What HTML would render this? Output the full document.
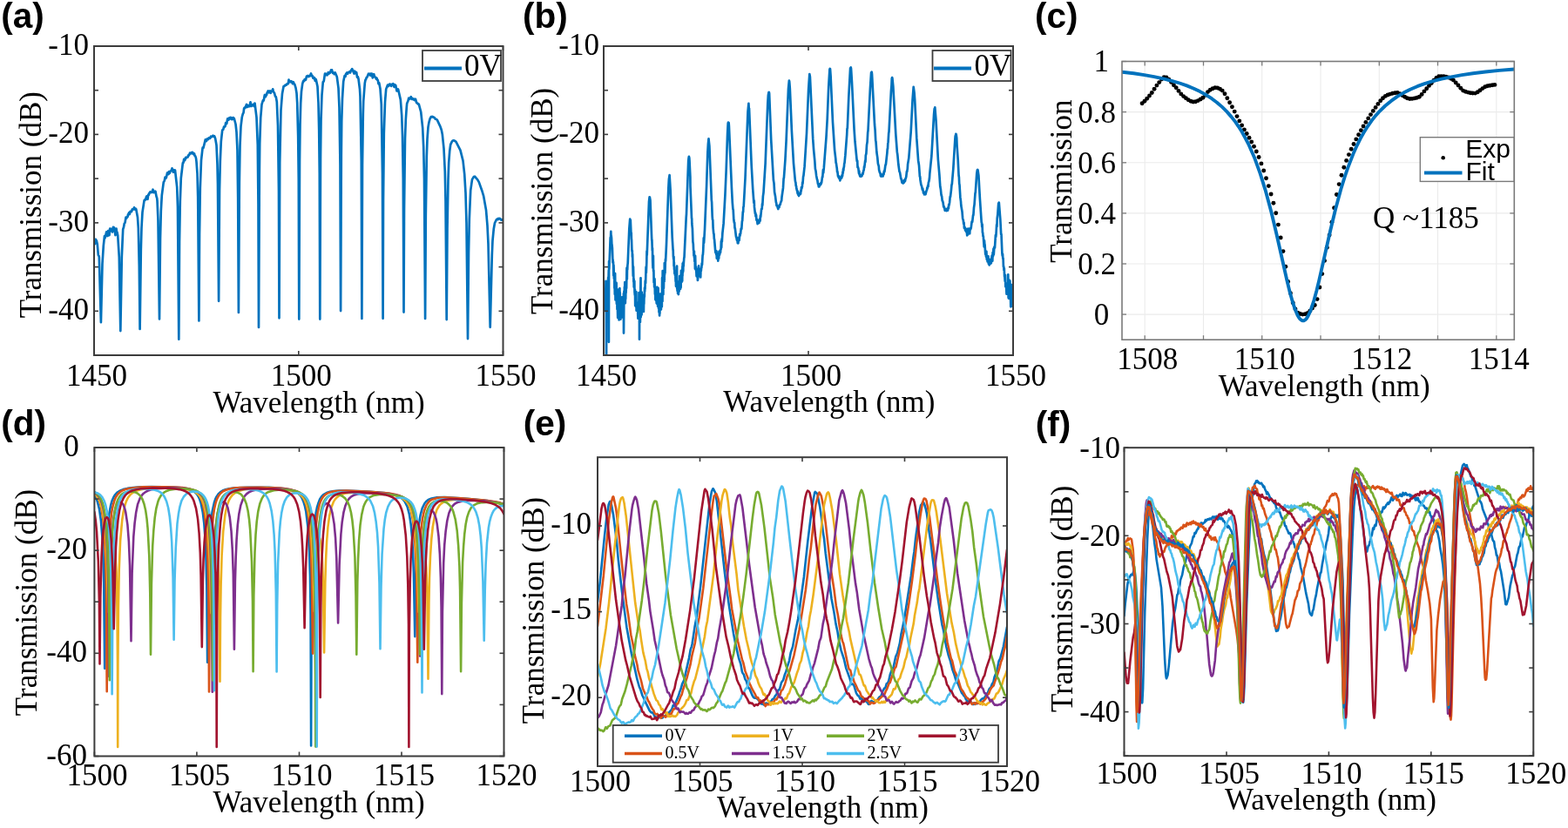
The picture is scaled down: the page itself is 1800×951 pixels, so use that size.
<!DOCTYPE html>
<html><head><meta charset="utf-8"><title>Figure</title>
<style>html,body{margin:0;padding:0;background:#fff;}svg{display:block;}</style></head>
<body><svg width="1800" height="951" viewBox="0 0 1800 951">
<rect width="1800" height="951" fill="#fff"/>
<defs>
<clipPath id="ca"><rect x="108" y="53" width="469.5" height="355"/></clipPath>
<clipPath id="cb"><rect x="693" y="53" width="470" height="355"/></clipPath>
<clipPath id="cc"><rect x="1288" y="70.5" width="450.29999999999995" height="319.7"/></clipPath>
<clipPath id="cd"><rect x="108.4" y="514" width="470.1" height="354.5"/></clipPath>
<clipPath id="ce"><rect x="686" y="525.2" width="470" height="354.79999999999995"/></clipPath>
<clipPath id="cf"><rect x="1290.5" y="514.2" width="469.79999999999995" height="354.0"/></clipPath>
</defs>
<line x1="1314.2" y1="70.5" x2="1314.2" y2="390.2" stroke="#ebebeb" stroke-width="1.1"/>
<line x1="1381.5" y1="70.5" x2="1381.5" y2="390.2" stroke="#ebebeb" stroke-width="1.1"/>
<line x1="1448.7" y1="70.5" x2="1448.7" y2="390.2" stroke="#ebebeb" stroke-width="1.1"/>
<line x1="1516.0" y1="70.5" x2="1516.0" y2="390.2" stroke="#ebebeb" stroke-width="1.1"/>
<line x1="1583.3" y1="70.5" x2="1583.3" y2="390.2" stroke="#ebebeb" stroke-width="1.1"/>
<line x1="1650.5" y1="70.5" x2="1650.5" y2="390.2" stroke="#ebebeb" stroke-width="1.1"/>
<line x1="1717.8" y1="70.5" x2="1717.8" y2="390.2" stroke="#ebebeb" stroke-width="1.1"/>
<line x1="1288" y1="361.1" x2="1738.3" y2="361.1" stroke="#ebebeb" stroke-width="1.1"/>
<line x1="1288" y1="303.0" x2="1738.3" y2="303.0" stroke="#ebebeb" stroke-width="1.1"/>
<line x1="1288" y1="244.9" x2="1738.3" y2="244.9" stroke="#ebebeb" stroke-width="1.1"/>
<line x1="1288" y1="186.8" x2="1738.3" y2="186.8" stroke="#ebebeb" stroke-width="1.1"/>
<line x1="1288" y1="128.6" x2="1738.3" y2="128.6" stroke="#ebebeb" stroke-width="1.1"/>
<path d="M108.0,275.7 L109.0,280.1 L109.8,274.8 L110.2,277.0 L110.8,276.3 L111.8,280.8 L112.8,293.0 L113.5,293.9 L113.8,295.2 L115.9,370.1 L117.5,303.0 L118.8,282.2 L120.0,271.2 L120.5,273.3 L120.8,272.7 L122.2,266.4 L123.5,271.0 L124.2,265.0 L125.0,269.2 L125.5,270.0 L126.2,262.7 L127.0,265.3 L127.5,262.9 L129.0,266.4 L130.0,260.8 L130.5,261.8 L131.0,261.5 L131.2,262.0 L132.5,270.2 L133.5,262.5 L134.0,266.5 L134.5,266.9 L135.2,270.2 L136.8,295.3 L138.3,380.1 L139.8,295.1 L141.2,263.2 L142.0,261.1 L142.8,256.6 L143.5,255.9 L144.5,249.7 L145.2,250.6 L145.8,249.3 L146.5,249.1 L147.0,246.2 L147.5,246.1 L148.0,244.5 L148.8,246.0 L149.5,243.0 L150.2,242.6 L151.0,243.1 L151.8,240.5 L152.5,240.8 L153.5,239.7 L154.0,238.3 L154.8,240.5 L155.0,240.6 L155.5,239.4 L156.2,240.1 L158.0,249.8 L158.8,262.0 L159.8,305.6 L160.6,378.0 L161.8,287.0 L162.5,261.1 L163.5,243.8 L165.5,230.6 L165.8,229.8 L166.5,229.2 L167.0,229.4 L168.2,225.5 L168.5,225.3 L169.5,228.8 L170.2,223.6 L170.5,223.4 L170.8,223.9 L171.5,221.6 L172.0,221.5 L172.5,220.3 L173.2,221.1 L173.8,220.5 L174.5,220.8 L175.5,217.7 L176.5,221.1 L177.0,220.1 L177.5,220.8 L178.2,219.6 L178.5,219.9 L179.5,225.5 L180.2,227.6 L180.5,230.3 L181.5,253.2 L183.0,366.5 L184.0,273.4 L184.8,242.2 L185.8,224.2 L187.8,209.1 L188.2,208.8 L188.8,207.5 L189.5,203.7 L190.2,204.8 L190.8,204.3 L192.0,198.7 L192.8,198.1 L193.2,200.1 L193.5,200.0 L194.0,197.0 L194.8,198.8 L195.5,196.8 L196.8,195.7 L197.5,193.3 L198.8,197.6 L199.5,195.2 L200.2,197.6 L201.0,195.5 L203.2,214.9 L204.0,237.9 L205.3,389.7 L206.0,278.2 L206.8,231.1 L207.8,204.5 L209.8,187.6 L210.0,186.9 L210.5,187.0 L211.2,182.8 L212.2,184.2 L213.2,180.9 L214.0,181.4 L214.5,180.5 L215.5,180.5 L216.2,178.3 L216.8,178.6 L217.0,178.4 L218.0,175.7 L218.8,176.3 L219.8,175.1 L220.2,176.0 L221.0,174.8 L221.5,176.3 L222.2,177.1 L222.5,177.2 L223.0,176.4 L223.5,178.6 L224.2,179.2 L225.0,181.7 L225.5,185.6 L226.5,199.3 L227.2,226.0 L228.4,368.5 L229.0,270.0 L229.8,215.9 L231.0,184.1 L232.5,170.6 L232.8,169.3 L233.2,170.1 L233.5,169.7 L235.8,160.4 L236.2,162.2 L236.8,162.2 L238.0,159.4 L239.0,160.0 L239.8,158.3 L240.5,158.9 L241.2,158.8 L242.0,156.7 L243.0,157.2 L244.5,155.8 L245.5,156.9 L246.0,156.3 L246.2,156.5 L247.2,159.2 L248.5,166.8 L249.5,188.6 L250.0,211.8 L251.1,345.8 L252.0,219.0 L252.8,185.0 L253.8,162.3 L255.2,149.7 L255.8,149.0 L256.2,149.0 L257.0,145.7 L257.5,146.0 L258.5,145.1 L259.2,141.1 L259.8,141.2 L260.2,142.0 L261.2,136.4 L262.5,137.6 L263.2,135.3 L263.8,136.3 L264.5,135.0 L265.2,136.5 L265.8,135.2 L266.5,137.2 L267.2,136.7 L267.8,135.1 L268.8,136.2 L270.5,142.5 L271.5,151.6 L272.5,172.7 L273.2,227.1 L273.9,359.0 L274.8,210.1 L275.5,167.4 L276.5,145.1 L277.8,134.5 L278.8,130.8 L279.5,129.6 L280.2,124.3 L281.0,123.4 L281.5,123.8 L283.0,120.0 L283.8,123.0 L284.5,121.0 L285.2,122.4 L285.8,121.8 L286.5,122.1 L287.5,117.4 L288.5,122.0 L289.0,121.1 L289.8,121.1 L290.5,120.0 L291.8,122.1 L292.5,118.5 L294.5,134.9 L295.8,166.1 L296.5,233.9 L297.0,376.0 L297.8,200.9 L298.2,164.8 L299.2,135.4 L300.5,119.8 L301.8,115.6 L302.0,115.2 L302.5,115.6 L302.8,115.0 L303.8,109.2 L304.0,108.9 L304.8,111.2 L305.5,109.4 L306.0,109.1 L306.5,106.9 L307.8,104.5 L308.8,106.4 L310.0,104.4 L310.8,106.8 L311.2,105.4 L312.5,104.3 L313.2,102.3 L313.8,105.3 L315.0,106.9 L316.0,110.7 L316.8,111.2 L317.8,117.0 L319.0,144.0 L320.0,219.4 L320.5,365.3 L321.2,187.3 L322.5,126.3 L324.0,107.5 L325.5,99.4 L326.5,98.6 L327.0,98.7 L327.5,97.6 L329.0,97.6 L329.5,96.4 L330.8,96.2 L331.5,91.6 L332.2,93.8 L333.2,94.1 L334.0,93.2 L334.5,94.3 L335.0,93.8 L336.0,96.1 L336.5,94.2 L336.8,94.3 L337.8,96.8 L338.2,96.9 L338.5,97.6 L339.5,100.9 L340.5,107.0 L341.2,118.2 L342.2,156.7 L342.8,205.6 L343.3,366.6 L344.0,184.0 L344.5,144.3 L345.2,118.4 L346.0,105.1 L347.2,96.4 L348.0,93.7 L348.5,92.7 L349.0,93.3 L349.8,91.0 L350.5,91.0 L351.0,91.7 L352.0,87.5 L353.0,87.4 L353.5,86.9 L354.2,88.0 L355.0,87.2 L355.8,87.3 L357.0,84.4 L357.8,86.7 L358.0,87.2 L358.5,87.0 L358.8,87.5 L359.5,89.9 L360.2,89.0 L360.8,89.0 L361.8,92.8 L362.5,91.0 L362.8,91.5 L364.5,99.4 L365.5,118.3 L366.2,149.0 L366.8,199.3 L367.3,366.6 L368.0,180.3 L368.5,138.5 L369.5,109.3 L370.8,94.2 L371.5,93.7 L371.8,92.9 L373.0,84.6 L373.5,85.1 L374.0,84.7 L374.5,86.1 L375.2,85.7 L375.8,86.2 L376.8,83.1 L377.8,84.5 L378.2,83.4 L378.8,83.7 L379.0,83.4 L380.0,80.3 L380.5,81.6 L381.0,80.3 L382.0,83.8 L382.8,83.5 L383.8,85.2 L384.8,83.5 L386.8,88.3 L388.5,101.1 L389.5,123.8 L390.5,189.6 L391.1,357.1 L391.8,179.2 L392.2,139.3 L393.0,113.4 L394.2,93.7 L395.5,87.4 L395.8,86.8 L396.5,87.9 L397.0,85.3 L398.2,83.4 L399.0,84.9 L399.5,83.5 L399.8,83.6 L401.0,82.5 L402.0,83.5 L403.0,80.6 L403.5,80.5 L404.2,79.1 L406.5,84.6 L407.2,81.7 L408.2,84.1 L409.0,83.0 L409.2,83.3 L410.0,88.6 L410.2,89.0 L410.8,88.1 L411.5,90.5 L413.0,102.5 L413.5,110.9 L414.8,184.8 L415.4,365.9 L416.0,189.7 L416.8,131.2 L417.2,116.5 L418.8,95.4 L419.5,91.7 L420.0,91.2 L420.8,88.9 L421.5,88.6 L423.0,84.7 L423.8,85.9 L424.5,84.7 L424.8,84.8 L425.5,86.8 L426.2,84.6 L426.8,84.5 L427.8,89.4 L429.2,85.2 L430.0,88.1 L431.2,88.9 L431.8,90.5 L432.5,89.7 L433.2,91.8 L433.8,92.2 L434.5,96.3 L435.2,95.1 L436.5,101.9 L437.8,119.9 L439.0,198.7 L439.6,365.8 L440.0,230.6 L440.8,153.1 L442.0,117.1 L443.2,102.4 L445.0,97.6 L445.5,99.1 L446.0,98.2 L446.2,98.0 L446.5,98.4 L446.8,98.0 L447.2,96.6 L447.8,96.6 L448.2,97.9 L448.8,97.8 L449.2,98.9 L449.8,96.8 L450.8,96.8 L451.2,96.2 L452.5,99.9 L453.2,97.2 L453.8,98.3 L454.2,97.9 L455.5,104.4 L455.8,104.5 L456.5,103.6 L457.0,102.5 L457.2,103.0 L459.8,114.4 L461.2,132.4 L462.0,155.5 L462.8,205.1 L463.5,358.6 L464.0,239.6 L465.0,159.1 L465.8,137.2 L466.8,122.8 L467.2,118.7 L468.5,115.8 L469.2,112.7 L470.5,113.6 L471.8,111.2 L472.8,113.9 L473.5,113.0 L474.5,114.3 L475.2,113.8 L476.0,115.1 L477.0,113.8 L478.2,118.1 L479.2,118.5 L479.8,119.5 L480.5,119.4 L480.8,119.7 L483.2,128.5 L485.2,147.2 L486.2,169.0 L487.0,205.4 L488.1,366.0 L488.8,247.0 L489.8,179.8 L490.5,159.7 L491.5,146.1 L492.5,140.3 L493.5,136.7 L494.8,134.2 L495.5,134.3 L496.2,133.8 L497.0,134.4 L497.5,134.3 L498.0,135.0 L498.8,135.1 L499.8,136.7 L501.0,137.0 L501.8,137.7 L505.2,144.8 L506.8,149.3 L507.8,154.2 L509.5,170.7 L510.8,197.0 L511.5,230.5 L512.7,367.1 L513.5,263.0 L514.5,206.4 L515.2,186.6 L516.2,173.5 L517.2,166.1 L518.8,162.6 L519.8,161.5 L520.5,161.3 L521.8,161.6 L523.5,162.8 L528.5,172.7 L531.5,184.7 L533.2,199.8 L534.5,221.6 L535.5,256.3 L537.0,389.1 L538.0,289.9 L538.8,251.5 L540.2,218.9 L542.0,206.1 L543.8,203.1 L545.0,202.7 L548.2,206.4 L549.8,209.1 L553.2,218.7 L555.2,225.4 L558.0,241.2 L559.5,259.2 L560.5,280.3 L562.7,375.8 L564.8,292.6 L565.5,276.3 L566.8,262.7 L568.0,256.0 L570.0,252.1 L571.0,251.5 L571.8,252.0 L572.2,250.9 L573.0,251.4 L573.8,250.9 L575.5,252.7 L576.0,252.4 L576.5,252.7 L577.0,252.2 L577.5,252.5" fill="none" stroke="#0072BD" stroke-width="2.7" stroke-linejoin="round" stroke-linecap="round" clip-path="url(#ca)"/>
<path d="M693.0,357.6 L693.4,354.3 L693.5,339.2 L693.7,352.9 L693.9,348.0 L694.1,354.7 L694.4,356.3 L694.6,334.2 L694.8,347.6 L695.0,343.6 L695.2,344.3 L695.5,322.8 L695.7,339.0 L695.9,324.4 L696.1,413.1 L696.2,329.1 L696.4,342.9 L696.6,337.6 L696.8,340.5 L697.0,338.3 L697.1,329.8 L697.3,341.5 L697.5,332.8 L697.7,335.8 L697.9,332.8 L698.2,318.8 L698.4,325.3 L698.8,310.4 L698.9,392.8 L699.1,300.1 L699.3,309.1 L700.7,272.9 L700.9,277.9 L701.3,265.8 L701.5,272.0 L701.6,270.2 L702.0,273.2 L702.4,282.7 L702.5,280.8 L702.9,285.1 L703.4,301.4 L703.6,298.2 L703.8,302.6 L704.0,300.9 L704.3,316.4 L704.5,304.7 L704.9,319.9 L705.2,316.8 L705.4,331.1 L705.6,325.6 L705.8,338.1 L706.1,314.0 L706.5,344.4 L706.7,332.8 L706.9,341.3 L707.0,332.4 L707.2,336.6 L707.6,324.9 L707.8,347.3 L707.9,349.0 L708.1,331.5 L708.5,355.2 L708.7,348.4 L708.8,349.4 L709.2,364.9 L709.4,363.6 L709.6,346.0 L709.7,364.8 L709.9,332.9 L710.1,357.1 L710.3,351.3 L710.6,367.4 L710.8,345.5 L711.0,363.8 L711.2,358.8 L711.4,331.2 L711.5,357.0 L711.7,335.7 L712.1,360.6 L712.3,356.1 L712.4,366.7 L712.6,341.0 L712.8,341.4 L713.0,357.7 L713.2,358.8 L713.5,343.7 L713.7,364.4 L714.1,345.0 L714.2,359.8 L714.4,346.8 L714.6,354.4 L714.8,341.2 L715.0,358.7 L715.3,346.5 L715.5,360.5 L715.7,361.0 L715.9,337.2 L716.0,382.6 L716.4,334.6 L716.6,342.1 L716.8,340.9 L716.9,329.7 L717.1,336.0 L717.3,324.2 L717.8,348.1 L718.0,340.6 L718.2,343.2 L718.4,331.3 L718.6,336.2 L718.9,329.0 L719.1,331.0 L719.5,307.7 L719.8,320.7 L720.0,307.4 L720.2,309.6 L720.4,304.8 L720.7,302.2 L722.3,263.4 L723.2,251.6 L723.6,256.2 L723.8,252.8 L724.5,269.8 L724.7,267.4 L724.9,275.1 L725.0,274.7 L725.4,287.1 L725.6,288.8 L725.8,287.9 L725.9,295.0 L726.1,291.8 L726.8,316.9 L727.0,306.3 L727.4,323.7 L727.6,320.3 L727.7,329.5 L727.9,330.0 L728.3,322.8 L728.5,335.5 L728.8,338.9 L729.0,332.8 L729.2,351.0 L729.4,343.9 L729.5,345.4 L729.7,335.8 L729.9,352.2 L730.1,335.8 L730.3,338.3 L730.4,335.3 L730.6,356.7 L731.0,348.2 L731.2,356.8 L731.5,351.9 L731.7,352.0 L731.9,350.9 L732.4,365.6 L732.6,356.0 L733.0,360.0 L733.1,347.0 L733.3,365.0 L733.5,336.2 L733.7,362.3 L733.9,344.5 L734.0,389.7 L734.2,353.7 L734.6,370.7 L734.8,353.2 L734.9,370.1 L735.5,319.3 L735.7,364.2 L736.0,350.0 L736.2,354.9 L736.4,338.2 L736.6,361.5 L736.7,335.5 L737.1,352.7 L737.3,353.0 L737.6,342.2 L737.8,355.0 L738.0,355.0 L738.2,353.7 L738.4,354.2 L738.5,339.4 L738.7,338.6 L738.9,358.0 L739.1,347.6 L739.3,349.0 L739.4,343.2 L739.6,341.0 L739.8,340.8 L740.0,330.5 L740.2,334.6 L740.3,330.2 L740.5,331.9 L740.7,323.1 L740.9,322.0 L741.1,325.2 L741.6,306.7 L741.8,313.5 L742.3,301.3 L742.5,288.6 L742.7,293.0 L745.0,231.7 L745.6,226.3 L745.7,227.4 L745.9,226.6 L746.5,230.0 L748.1,272.8 L748.3,276.5 L748.4,275.4 L748.8,287.7 L749.0,284.9 L749.2,299.7 L749.5,307.6 L749.9,293.8 L750.1,311.4 L750.4,310.6 L750.6,324.5 L751.0,321.0 L751.1,329.6 L751.3,329.3 L751.5,320.4 L751.9,337.7 L752.0,338.0 L752.2,333.4 L752.4,344.3 L752.8,340.2 L752.9,333.2 L753.1,345.0 L753.3,345.4 L753.5,342.3 L753.7,348.1 L753.8,348.5 L754.0,330.0 L754.2,329.8 L754.4,343.9 L754.6,344.8 L754.7,345.6 L754.9,334.0 L755.1,351.8 L755.3,337.0 L755.5,340.7 L755.6,330.8 L756.0,354.2 L756.2,346.4 L756.4,347.1 L756.5,358.6 L756.7,353.0 L757.1,362.5 L757.3,343.8 L757.4,360.3 L757.6,347.4 L757.8,355.0 L758.0,337.6 L758.2,347.4 L758.5,338.6 L758.9,355.5 L759.2,341.4 L759.4,345.9 L759.6,342.9 L759.8,352.2 L760.1,319.1 L760.3,345.6 L760.5,345.9 L760.7,311.0 L760.9,331.7 L761.0,319.2 L761.4,338.2 L761.6,318.9 L761.9,330.9 L762.1,321.4 L762.5,320.3 L762.7,322.9 L762.8,302.2 L763.0,315.6 L763.2,307.4 L763.4,313.7 L763.9,297.7 L764.1,299.9 L765.0,280.9 L767.3,216.7 L767.9,205.6 L768.6,201.2 L769.7,219.3 L771.7,272.6 L772.6,287.5 L772.7,286.5 L772.9,294.2 L773.3,297.9 L773.5,294.8 L773.6,305.4 L773.8,301.0 L774.0,309.5 L774.2,306.6 L774.4,314.2 L774.5,312.1 L774.9,315.8 L775.1,311.0 L775.6,323.3 L775.8,316.1 L776.0,328.8 L776.3,324.6 L776.5,326.4 L776.7,324.7 L776.9,327.1 L777.1,305.5 L777.2,331.5 L777.4,331.2 L777.6,334.1 L777.8,323.4 L778.1,336.9 L778.3,330.4 L778.5,335.0 L778.7,327.4 L778.9,338.1 L779.0,326.1 L779.6,334.6 L779.8,329.2 L779.9,332.2 L780.3,317.1 L780.5,328.9 L780.7,321.6 L781.0,331.9 L781.2,318.9 L781.6,330.3 L781.9,310.8 L782.1,319.2 L782.3,318.0 L782.5,323.9 L782.8,317.2 L783.2,322.7 L783.4,305.9 L783.5,316.7 L783.7,302.6 L783.9,312.9 L784.3,310.7 L784.4,301.4 L784.6,305.8 L785.3,296.0 L785.5,295.9 L787.7,249.8 L788.0,245.8 L790.2,184.9 L790.6,181.2 L790.9,179.8 L791.3,181.4 L791.5,184.0 L792.4,203.2 L792.5,214.1 L794.0,250.7 L794.2,251.0 L794.3,257.0 L794.9,262.6 L795.4,277.5 L795.8,280.1 L796.1,287.4 L796.3,287.6 L796.5,293.7 L796.9,288.6 L797.0,296.1 L797.2,296.2 L797.4,300.4 L797.6,293.5 L797.9,308.6 L798.1,293.9 L798.5,308.3 L798.7,306.1 L799.0,310.6 L799.2,308.7 L799.6,317.3 L799.9,313.7 L800.0,316.4 L800.3,316.3 L800.6,311.3 L800.9,322.0 L801.5,317.1 L801.8,306.5 L802.1,305.4 L802.4,314.8 L802.7,316.6 L803.3,311.0 L803.6,309.9 L804.2,318.5 L804.5,308.9 L804.8,311.2 L805.1,307.8 L805.4,307.1 L805.7,302.6 L806.0,304.2 L806.6,293.2 L806.9,292.6 L807.2,288.7 L807.8,273.4 L808.1,278.9 L809.0,263.9 L811.1,213.6 L812.3,176.1 L812.9,165.4 L813.5,159.4 L814.4,168.0 L816.8,229.6 L817.1,232.1 L817.7,248.6 L818.0,252.3 L818.3,252.7 L818.6,261.7 L819.2,268.2 L819.5,268.6 L819.8,274.1 L820.1,275.2 L821.3,289.7 L821.6,290.3 L821.9,289.5 L822.2,292.0 L822.5,288.4 L822.8,296.6 L823.4,291.1 L823.7,296.8 L824.0,297.4 L824.3,299.6 L824.6,294.2 L824.9,292.7 L825.2,296.7 L825.5,288.9 L825.8,292.2 L826.1,292.6 L826.7,287.5 L827.0,290.2 L827.3,286.5 L827.6,286.2 L827.9,277.1 L828.2,284.3 L828.5,274.7 L828.8,277.7 L829.4,267.7 L830.6,256.9 L832.4,224.7 L833.6,197.0 L835.1,153.2 L835.7,141.9 L836.0,140.6 L836.6,140.9 L836.9,144.8 L839.9,215.1 L840.8,232.6 L841.4,240.1 L841.7,240.8 L842.3,252.3 L842.9,256.0 L843.2,255.7 L843.5,261.9 L843.8,262.0 L845.0,272.0 L845.3,272.0 L845.9,275.8 L846.2,276.0 L846.5,275.4 L846.8,279.2 L847.1,276.9 L847.4,279.4 L848.0,272.9 L848.3,273.2 L848.6,276.1 L849.2,268.9 L849.5,270.8 L849.8,268.5 L850.1,268.3 L850.7,262.6 L851.0,263.5 L851.3,262.8 L851.9,253.8 L852.2,253.6 L852.8,243.3 L853.1,243.7 L853.4,237.5 L853.7,237.3 L855.5,204.8 L858.5,128.3 L859.4,118.8 L859.7,124.2 L860.0,124.2 L862.7,190.3 L864.2,216.8 L865.4,232.9 L865.7,230.4 L866.0,237.9 L866.9,245.4 L867.2,244.4 L867.5,248.5 L867.8,246.3 L868.1,247.3 L868.4,252.8 L868.7,251.5 L869.0,252.3 L869.6,257.1 L869.9,253.2 L870.2,256.1 L870.5,254.4 L870.8,255.4 L871.4,256.0 L872.0,251.6 L872.6,253.6 L872.9,247.8 L873.2,249.1 L874.1,240.2 L874.4,240.3 L874.7,239.9 L875.0,234.2 L875.3,235.8 L875.9,225.4 L876.5,221.3 L878.6,188.1 L881.3,118.6 L881.9,109.2 L882.5,106.1 L882.8,105.9 L883.1,107.3 L885.2,160.5 L887.9,206.8 L888.5,210.4 L889.1,220.6 L890.0,225.2 L890.9,232.6 L891.2,232.9 L891.5,236.2 L891.8,235.4 L892.1,236.8 L892.4,236.6 L892.7,238.4 L893.3,240.0 L893.6,237.2 L893.9,236.6 L894.2,238.4 L894.5,238.1 L895.1,235.0 L895.7,235.0 L896.0,233.4 L896.9,230.8 L897.2,230.5 L897.5,226.2 L899.0,215.7 L899.6,205.0 L899.9,204.3 L901.4,183.8 L902.6,161.3 L905.0,101.8 L905.9,92.5 L906.2,93.9 L906.8,101.5 L908.9,150.7 L911.0,187.6 L912.8,207.1 L913.1,209.0 L913.4,209.6 L913.7,213.4 L914.0,213.5 L914.3,216.3 L914.9,219.0 L915.2,218.6 L915.5,221.6 L915.8,222.5 L916.1,220.0 L916.4,224.0 L916.7,223.9 L917.0,225.0 L917.3,223.1 L917.9,223.2 L918.2,222.0 L918.5,222.0 L918.8,223.1 L919.1,222.3 L919.4,218.7 L919.7,219.5 L920.0,215.0 L920.3,216.6 L920.9,214.5 L921.2,209.5 L921.5,211.0 L922.1,202.7 L922.4,202.0 L923.6,191.2 L926.0,153.0 L928.1,103.2 L929.3,85.1 L929.9,88.3 L933.2,159.4 L934.1,172.1 L935.3,184.7 L935.9,194.0 L936.5,196.4 L937.1,201.7 L938.0,206.2 L938.3,206.7 L938.9,210.8 L939.2,211.7 L939.5,211.7 L939.8,214.4 L940.1,213.0 L940.4,214.5 L940.7,211.9 L941.0,211.4 L941.3,211.7 L941.6,211.6 L941.9,212.3 L942.2,210.4 L942.5,211.4 L942.8,209.5 L943.1,209.8 L944.0,202.8 L944.3,203.4 L944.9,195.2 L945.2,198.5 L945.8,192.9 L948.5,157.6 L949.7,136.7 L951.2,99.6 L952.4,79.8 L952.7,79.0 L953.0,79.1 L953.6,87.7 L956.0,140.6 L958.1,172.3 L959.3,182.4 L959.6,186.8 L959.9,187.4 L960.8,193.6 L961.1,197.6 L961.4,196.9 L962.0,202.3 L962.3,202.2 L962.6,203.5 L963.2,204.6 L963.5,202.6 L963.8,205.7 L964.1,205.2 L964.4,207.3 L965.0,204.0 L965.3,203.8 L965.9,204.6 L966.2,204.3 L966.5,201.4 L966.8,202.8 L967.1,201.9 L967.4,197.6 L967.7,199.0 L968.0,194.2 L968.3,196.0 L968.6,192.3 L968.9,191.9 L969.2,188.0 L969.5,187.3 L970.4,178.2 L972.2,154.6 L972.5,147.6 L972.8,147.3 L974.3,111.2 L976.1,78.4 L976.7,77.4 L977.0,78.6 L977.9,93.0 L980.6,149.1 L981.5,162.5 L983.6,183.9 L983.9,185.5 L984.2,184.5 L984.5,192.1 L984.8,191.5 L985.4,193.7 L986.0,199.2 L986.3,196.7 L986.6,200.7 L986.9,200.1 L987.2,202.4 L987.5,202.5 L987.8,201.5 L988.1,201.4 L988.4,201.5 L988.7,202.5 L989.0,201.5 L989.3,202.3 L990.2,198.9 L990.5,200.0 L991.4,195.6 L991.7,195.5 L992.0,191.4 L992.3,192.3 L993.2,184.5 L993.5,186.0 L993.8,178.7 L994.4,176.4 L995.0,166.6 L995.6,163.0 L996.2,151.9 L996.5,150.3 L998.9,102.0 L1000.1,83.3 L1000.4,83.2 L1000.7,82.6 L1001.0,84.9 L1004.0,143.0 L1004.6,149.4 L1005.2,161.5 L1005.5,162.7 L1006.4,175.0 L1007.3,181.1 L1007.9,187.9 L1008.8,190.9 L1009.1,195.2 L1010.0,198.4 L1010.6,198.9 L1010.9,201.9 L1011.2,202.5 L1011.5,200.4 L1012.4,202.3 L1012.7,202.4 L1013.0,201.6 L1013.3,201.7 L1013.6,202.4 L1013.9,199.8 L1014.2,199.0 L1014.5,200.4 L1014.8,197.2 L1015.1,196.3 L1015.4,197.2 L1016.3,190.5 L1016.6,189.0 L1016.9,189.0 L1018.4,175.6 L1018.7,171.0 L1019.0,170.9 L1019.3,164.5 L1019.6,163.2 L1020.2,152.9 L1020.5,151.5 L1022.9,105.0 L1023.5,97.5 L1023.8,89.9 L1024.1,89.1 L1024.4,89.8 L1025.3,98.8 L1028.3,154.1 L1029.8,174.2 L1030.4,178.3 L1031.3,188.5 L1032.5,197.1 L1032.8,197.4 L1033.1,198.4 L1034.3,205.5 L1034.6,205.3 L1035.5,209.8 L1035.8,209.4 L1036.1,210.2 L1036.4,210.4 L1036.7,207.9 L1037.0,210.4 L1037.6,209.2 L1037.9,209.4 L1038.2,207.0 L1038.5,208.7 L1038.8,206.1 L1039.1,207.9 L1039.4,205.2 L1039.7,205.1 L1040.3,202.8 L1040.9,197.1 L1041.2,197.4 L1041.8,193.6 L1042.1,188.6 L1043.3,181.5 L1045.7,151.3 L1047.5,115.7 L1048.7,99.9 L1049.6,106.6 L1050.2,115.0 L1052.3,158.9 L1054.1,184.2 L1055.0,190.0 L1055.9,202.8 L1056.2,202.9 L1056.5,206.7 L1057.4,212.2 L1058.0,213.6 L1058.9,218.0 L1059.2,216.5 L1060.1,221.9 L1060.7,221.0 L1061.0,223.4 L1061.3,221.4 L1061.9,220.8 L1062.2,222.8 L1062.5,223.2 L1063.7,218.5 L1064.0,218.3 L1064.3,215.6 L1064.6,216.6 L1065.2,213.0 L1065.5,214.3 L1065.8,210.2 L1066.4,208.2 L1067.0,204.5 L1067.3,199.7 L1069.4,179.0 L1072.1,131.3 L1072.7,124.9 L1073.0,127.9 L1073.3,123.4 L1074.5,138.2 L1076.9,183.5 L1078.4,200.8 L1079.3,214.3 L1079.9,217.4 L1080.5,223.6 L1080.8,224.9 L1081.1,225.1 L1081.7,230.6 L1082.0,230.6 L1082.6,232.7 L1083.2,237.2 L1083.5,236.6 L1083.8,238.6 L1084.1,238.1 L1084.7,241.9 L1085.0,239.9 L1085.6,241.0 L1085.9,240.2 L1086.5,242.2 L1086.8,241.9 L1087.1,240.9 L1087.4,240.8 L1087.7,239.3 L1088.0,241.7 L1088.6,237.9 L1088.9,239.3 L1089.2,235.1 L1089.5,235.7 L1090.1,232.4 L1090.7,225.8 L1091.0,226.1 L1091.9,218.6 L1092.5,211.9 L1092.8,211.6 L1094.3,194.1 L1096.4,159.6 L1096.7,156.1 L1097.0,156.3 L1097.3,153.9 L1097.6,154.0 L1098.2,158.1 L1098.5,166.3 L1099.7,183.3 L1100.6,201.8 L1100.9,203.5 L1101.2,210.8 L1101.5,212.2 L1102.4,226.9 L1103.0,231.4 L1103.3,236.0 L1104.5,242.9 L1105.1,250.4 L1105.4,251.9 L1105.7,252.4 L1106.3,257.3 L1106.6,255.7 L1106.9,262.0 L1107.2,260.4 L1107.5,262.7 L1107.8,261.2 L1108.1,264.7 L1108.4,263.4 L1109.0,264.8 L1109.3,266.5 L1109.6,263.2 L1110.2,270.3 L1110.5,267.9 L1111.1,269.5 L1111.4,262.5 L1111.7,266.8 L1112.0,264.2 L1112.6,265.9 L1112.9,267.9 L1113.2,268.2 L1113.5,262.8 L1113.8,262.2 L1114.1,263.5 L1114.7,261.9 L1115.6,254.7 L1115.9,254.1 L1116.2,254.9 L1117.1,247.0 L1117.4,247.1 L1118.0,238.6 L1118.6,234.6 L1119.5,221.9 L1119.8,220.9 L1121.3,198.9 L1121.9,195.3 L1122.2,194.9 L1122.5,195.1 L1123.4,201.4 L1124.9,228.4 L1126.7,255.2 L1127.0,255.9 L1127.3,260.7 L1127.6,257.7 L1127.9,267.0 L1128.2,267.4 L1128.5,271.4 L1128.8,271.2 L1129.7,283.3 L1130.0,276.3 L1130.3,280.4 L1130.6,281.3 L1131.2,291.9 L1131.5,289.0 L1131.8,293.6 L1132.1,294.9 L1132.4,288.9 L1132.7,297.8 L1133.0,297.8 L1133.3,297.3 L1133.6,300.4 L1133.9,295.0 L1134.2,300.4 L1134.5,294.4 L1134.8,302.7 L1135.1,303.2 L1135.4,302.7 L1135.7,304.5 L1136.3,298.1 L1136.6,302.8 L1136.9,298.7 L1137.5,299.6 L1137.8,302.5 L1138.4,295.7 L1138.7,293.6 L1139.0,293.1 L1139.3,299.7 L1139.6,290.0 L1139.9,294.7 L1140.5,285.5 L1140.8,292.4 L1141.4,283.5 L1142.0,284.6 L1142.9,270.1 L1143.2,272.1 L1143.5,269.3 L1144.1,258.0 L1144.4,260.1 L1144.7,251.0 L1145.3,246.1 L1146.2,233.7 L1146.5,235.0 L1146.8,232.6 L1148.3,251.8 L1149.2,269.2 L1149.5,268.9 L1150.4,290.9 L1150.7,293.5 L1151.0,291.7 L1151.3,296.9 L1151.6,296.6 L1151.9,306.3 L1152.2,305.9 L1152.5,310.4 L1152.8,308.2 L1153.1,317.4 L1153.4,318.3 L1153.7,322.9 L1154.0,315.8 L1154.3,329.2 L1154.9,325.0 L1155.5,337.6 L1155.8,326.2 L1156.1,325.8 L1156.7,337.8 L1157.0,336.0 L1157.3,315.3 L1157.6,341.6 L1157.9,342.7 L1158.5,321.6 L1159.1,339.6 L1159.4,322.6 L1159.7,343.8 L1160.0,336.1 L1160.3,352.3 L1160.6,331.6 L1160.9,340.6 L1161.2,327.1 L1161.5,351.6 L1161.8,336.4 L1162.1,339.3 L1162.4,340.0 L1162.7,337.4 L1163.0,339.0" fill="none" stroke="#0072BD" stroke-width="2.7" stroke-linejoin="round" stroke-linecap="round" clip-path="url(#cb)"/>
<g fill="#000" clip-path="url(#cc)"><circle cx="1311.1" cy="118.7" r="2.45"/><circle cx="1313.9" cy="116.2" r="2.45"/><circle cx="1316.7" cy="113.2" r="2.45"/><circle cx="1319.5" cy="110.0" r="2.45"/><circle cx="1322.3" cy="106.5" r="2.45"/><circle cx="1325.1" cy="102.3" r="2.45"/><circle cx="1327.9" cy="98.1" r="2.45"/><circle cx="1330.7" cy="94.6" r="2.45"/><circle cx="1333.5" cy="91.0" r="2.45"/><circle cx="1336.3" cy="88.7" r="2.45"/><circle cx="1339.0" cy="89.0" r="2.45"/><circle cx="1341.8" cy="91.2" r="2.45"/><circle cx="1344.6" cy="94.4" r="2.45"/><circle cx="1347.4" cy="97.7" r="2.45"/><circle cx="1350.2" cy="100.8" r="2.45"/><circle cx="1353.0" cy="104.4" r="2.45"/><circle cx="1355.8" cy="107.9" r="2.45"/><circle cx="1358.6" cy="110.6" r="2.45"/><circle cx="1361.4" cy="112.7" r="2.45"/><circle cx="1364.2" cy="114.7" r="2.45"/><circle cx="1367.0" cy="116.2" r="2.45"/><circle cx="1369.8" cy="117.0" r="2.45"/><circle cx="1372.5" cy="116.7" r="2.45"/><circle cx="1375.3" cy="115.6" r="2.45"/><circle cx="1378.1" cy="114.0" r="2.45"/><circle cx="1380.9" cy="112.2" r="2.45"/><circle cx="1383.7" cy="109.4" r="2.45"/><circle cx="1386.5" cy="105.6" r="2.45"/><circle cx="1389.3" cy="103.2" r="2.45"/><circle cx="1392.1" cy="101.7" r="2.45"/><circle cx="1394.9" cy="100.8" r="2.45"/><circle cx="1397.7" cy="101.0" r="2.45"/><circle cx="1400.5" cy="102.3" r="2.45"/><circle cx="1403.2" cy="104.1" r="2.45"/><circle cx="1406.0" cy="107.7" r="2.45"/><circle cx="1408.8" cy="112.8" r="2.45"/><circle cx="1411.6" cy="117.7" r="2.45"/><circle cx="1414.4" cy="122.8" r="2.45"/><circle cx="1417.2" cy="128.1" r="2.45"/><circle cx="1420.0" cy="133.6" r="2.45"/><circle cx="1422.8" cy="138.9" r="2.45"/><circle cx="1425.6" cy="144.0" r="2.45"/><circle cx="1428.4" cy="148.9" r="2.45"/><circle cx="1431.2" cy="153.5" r="2.45"/><circle cx="1434.0" cy="158.2" r="2.45"/><circle cx="1436.7" cy="163.0" r="2.45"/><circle cx="1439.5" cy="168.3" r="2.45"/><circle cx="1442.3" cy="174.0" r="2.45"/><circle cx="1445.1" cy="180.5" r="2.45"/><circle cx="1447.9" cy="187.9" r="2.45"/><circle cx="1450.7" cy="196.0" r="2.45"/><circle cx="1453.5" cy="204.7" r="2.45"/><circle cx="1456.3" cy="213.6" r="2.45"/><circle cx="1459.1" cy="223.0" r="2.45"/><circle cx="1461.9" cy="233.3" r="2.45"/><circle cx="1464.7" cy="244.8" r="2.45"/><circle cx="1467.4" cy="258.1" r="2.45"/><circle cx="1470.2" cy="273.0" r="2.45"/><circle cx="1473.0" cy="288.6" r="2.45"/><circle cx="1475.8" cy="306.2" r="2.45"/><circle cx="1478.6" cy="323.5" r="2.45"/><circle cx="1481.4" cy="336.7" r="2.45"/><circle cx="1484.2" cy="347.7" r="2.45"/><circle cx="1487.0" cy="355.0" r="2.45"/><circle cx="1489.8" cy="359.2" r="2.45"/><circle cx="1492.6" cy="360.5" r="2.45"/><circle cx="1495.4" cy="361.1" r="2.45"/><circle cx="1498.2" cy="360.8" r="2.45"/><circle cx="1500.9" cy="359.8" r="2.45"/><circle cx="1503.7" cy="357.3" r="2.45"/><circle cx="1506.5" cy="354.0" r="2.45"/><circle cx="1509.3" cy="350.5" r="2.45"/><circle cx="1512.1" cy="343.6" r="2.45"/><circle cx="1514.9" cy="330.0" r="2.45"/><circle cx="1517.7" cy="314.6" r="2.45"/><circle cx="1520.5" cy="299.4" r="2.45"/><circle cx="1523.3" cy="284.2" r="2.45"/><circle cx="1526.1" cy="270.0" r="2.45"/><circle cx="1528.9" cy="255.3" r="2.45"/><circle cx="1531.6" cy="238.8" r="2.45"/><circle cx="1534.4" cy="223.5" r="2.45"/><circle cx="1537.2" cy="211.6" r="2.45"/><circle cx="1540.0" cy="201.2" r="2.45"/><circle cx="1542.8" cy="192.2" r="2.45"/><circle cx="1545.6" cy="184.4" r="2.45"/><circle cx="1548.4" cy="177.6" r="2.45"/><circle cx="1551.2" cy="171.3" r="2.45"/><circle cx="1554.0" cy="165.5" r="2.45"/><circle cx="1556.8" cy="159.9" r="2.45"/><circle cx="1559.6" cy="154.7" r="2.45"/><circle cx="1562.4" cy="149.7" r="2.45"/><circle cx="1565.1" cy="145.0" r="2.45"/><circle cx="1567.9" cy="140.4" r="2.45"/><circle cx="1570.7" cy="135.9" r="2.45"/><circle cx="1573.5" cy="131.6" r="2.45"/><circle cx="1576.3" cy="127.4" r="2.45"/><circle cx="1579.1" cy="123.4" r="2.45"/><circle cx="1581.9" cy="119.4" r="2.45"/><circle cx="1584.7" cy="115.7" r="2.45"/><circle cx="1587.5" cy="112.7" r="2.45"/><circle cx="1590.3" cy="110.4" r="2.45"/><circle cx="1593.1" cy="109.0" r="2.45"/><circle cx="1595.8" cy="108.1" r="2.45"/><circle cx="1598.6" cy="107.3" r="2.45"/><circle cx="1601.4" cy="106.7" r="2.45"/><circle cx="1604.2" cy="106.5" r="2.45"/><circle cx="1607.0" cy="107.6" r="2.45"/><circle cx="1609.8" cy="109.6" r="2.45"/><circle cx="1612.6" cy="111.2" r="2.45"/><circle cx="1615.4" cy="112.7" r="2.45"/><circle cx="1618.2" cy="113.5" r="2.45"/><circle cx="1621.0" cy="113.4" r="2.45"/><circle cx="1623.8" cy="112.9" r="2.45"/><circle cx="1626.5" cy="112.3" r="2.45"/><circle cx="1629.3" cy="111.3" r="2.45"/><circle cx="1632.1" cy="108.4" r="2.45"/><circle cx="1634.9" cy="104.9" r="2.45"/><circle cx="1637.7" cy="101.7" r="2.45"/><circle cx="1640.5" cy="98.4" r="2.45"/><circle cx="1643.3" cy="95.5" r="2.45"/><circle cx="1646.1" cy="92.3" r="2.45"/><circle cx="1648.9" cy="89.4" r="2.45"/><circle cx="1651.7" cy="87.8" r="2.45"/><circle cx="1654.5" cy="87.7" r="2.45"/><circle cx="1657.3" cy="87.8" r="2.45"/><circle cx="1660.0" cy="88.2" r="2.45"/><circle cx="1662.8" cy="89.0" r="2.45"/><circle cx="1665.6" cy="90.3" r="2.45"/><circle cx="1668.4" cy="92.1" r="2.45"/><circle cx="1671.2" cy="95.0" r="2.45"/><circle cx="1674.0" cy="98.0" r="2.45"/><circle cx="1676.8" cy="101.2" r="2.45"/><circle cx="1679.6" cy="104.1" r="2.45"/><circle cx="1682.4" cy="105.3" r="2.45"/><circle cx="1685.2" cy="106.1" r="2.45"/><circle cx="1688.0" cy="106.7" r="2.45"/><circle cx="1690.7" cy="107.0" r="2.45"/><circle cx="1693.5" cy="107.1" r="2.45"/><circle cx="1696.3" cy="105.7" r="2.45"/><circle cx="1699.1" cy="103.8" r="2.45"/><circle cx="1701.9" cy="101.6" r="2.45"/><circle cx="1704.7" cy="99.7" r="2.45"/><circle cx="1707.5" cy="98.8" r="2.45"/><circle cx="1710.3" cy="98.3" r="2.45"/><circle cx="1713.1" cy="97.8" r="2.45"/><circle cx="1715.9" cy="97.4" r="2.45"/></g>
<path d="M1288.0,82.7 L1301.5,84.3 L1313.6,86.1 L1324.8,88.1 L1335.4,90.4 L1345.1,92.8 L1354.2,95.5 L1362.4,98.4 L1369.9,101.5 L1377.5,105.1 L1384.2,108.8 L1391.0,113.2 L1397.0,117.7 L1403.0,122.9 L1408.3,128.1 L1413.5,134.1 L1418.1,139.9 L1421.8,145.3 L1425.6,151.3 L1429.3,158.0 L1433.1,165.3 L1439.9,180.7 L1446.6,199.1 L1452.6,218.3 L1459.4,243.5 L1465.4,268.7 L1477.4,322.1 L1480.4,334.4 L1483.5,345.5 L1486.5,354.8 L1489.5,362.0 L1491.0,364.6 L1492.5,366.6 L1494.0,367.8 L1495.5,368.4 L1497.0,368.2 L1498.5,367.3 L1500.0,365.6 L1501.5,363.3 L1504.5,356.7 L1508.3,345.3 L1511.3,334.2 L1514.3,321.9 L1527.1,265.2 L1533.1,240.3 L1539.8,215.6 L1543.6,203.4 L1547.4,192.4 L1554.1,175.1 L1557.9,166.8 L1561.6,159.3 L1565.4,152.5 L1569.9,145.3 L1574.4,138.8 L1578.9,133.1 L1584.2,127.3 L1590.2,121.5 L1597.0,115.9 L1603.7,111.1 L1611.3,106.6 L1618.8,102.8 L1627.0,99.2 L1635.3,96.2 L1645.1,93.2 L1654.9,90.7 L1666.1,88.3 L1678.2,86.1 L1690.9,84.2 L1705.2,82.5 L1721.0,80.9 L1738.3,79.5" fill="none" stroke="#0072BD" stroke-width="3.9" stroke-linejoin="round" stroke-linecap="round" clip-path="url(#cc)"/>
<path d="M108.4,568.9 L110.1,571.7 L111.6,575.2 L114.0,584.7 L115.9,598.0 L117.4,617.0 L118.5,639.7 L119.2,668.7 L120.2,767.7 L121.1,668.6 L121.9,637.0 L123.3,611.1 L124.9,593.0 L127.2,580.1 L128.6,575.2 L130.2,571.4 L132.1,568.3 L134.3,565.9 L137.5,563.7 L141.4,562.1 L146.4,560.9 L152.9,560.1 L162.3,559.4 L173.9,559.1 L199.6,559.5 L211.3,560.6 L215.5,561.4 L218.9,562.5 L221.7,563.9 L224.1,565.7 L226.2,567.9 L227.9,570.6 L229.3,573.8 L230.6,577.8 L232.7,587.9 L234.3,601.2 L235.6,619.7 L236.6,644.8 L237.3,673.1 L238.1,760.7 L239.0,673.2 L239.7,644.8 L240.7,619.7 L242.0,601.2 L243.7,587.3 L245.9,577.2 L247.2,573.4 L248.6,570.4 L250.6,567.5 L252.8,565.3 L255.5,563.5 L258.9,562.2 L263.1,561.2 L268.2,560.5 L283.2,559.7 L308.7,559.9 L319.3,560.5 L327.6,561.4 L333.4,562.5 L337.9,564.0 L341.5,566.0 L344.3,568.6 L346.5,571.7 L348.3,575.9 L349.9,581.2 L351.3,587.5 L353.4,605.3 L354.9,629.4 L356.0,661.5 L356.6,706.0 L357.1,856.4 L357.6,706.0 L358.2,661.6 L359.2,631.7 L360.7,606.7 L362.7,589.1 L363.9,582.9 L365.5,577.6 L367.1,573.5 L369.2,570.3 L371.8,567.8 L374.9,566.0 L378.7,564.8 L383.5,564.0 L389.8,563.6 L397.9,563.5 L422.1,564.5 L440.9,566.1 L447.4,567.1 L452.5,568.2 L456.6,569.6 L459.8,571.3 L462.5,573.5 L464.7,576.2 L467.6,582.0 L469.8,590.3 L471.6,601.7 L473.0,616.6 L474.0,634.1 L474.9,656.9 L476.3,731.1 L477.5,660.4 L478.4,636.4 L479.4,618.3 L480.8,603.1 L482.5,592.1 L484.7,583.9 L487.4,578.3 L489.0,576.3 L490.8,574.7 L492.9,573.4 L495.4,572.5 L501.7,571.3 L510.7,571.1 L536.5,572.7 L559.4,575.0 L571.2,577.3 L575.2,578.7 L578.5,580.4" fill="none" stroke="#0072BD" stroke-width="2.6" stroke-linejoin="round" stroke-linecap="round" clip-path="url(#cd)"/>
<path d="M108.4,566.1 L110.8,568.6 L112.7,571.8 L114.4,575.9 L115.8,580.9 L118.2,595.1 L119.9,614.7 L121.1,641.1 L121.9,677.1 L122.7,794.3 L123.1,721.2 L123.6,671.5 L124.7,633.3 L126.2,606.6 L128.2,588.0 L129.6,581.1 L131.2,575.3 L132.9,571.1 L135.1,567.7 L137.7,565.2 L140.9,563.2 L144.8,561.8 L149.8,560.7 L156.2,560.0 L164.2,559.4 L189.3,559.2 L200.6,559.5 L209.3,560.1 L217.7,561.5 L220.8,562.5 L223.4,563.8 L225.6,565.3 L227.6,567.3 L229.3,569.8 L230.7,572.6 L233.3,580.9 L235.2,592.6 L236.7,608.0 L238.0,629.5 L238.8,655.3 L239.4,686.4 L240.0,794.4 L240.9,673.8 L241.8,636.6 L243.1,610.7 L245.0,591.2 L246.1,584.1 L247.5,577.9 L249.1,573.2 L251.0,569.4 L253.3,566.5 L256.0,564.3 L259.4,562.7 L263.5,561.5 L268.8,560.6 L275.6,560.1 L299.5,559.7 L321.6,560.6 L332.4,562.0 L339.7,564.0 L342.4,565.4 L344.8,567.2 L346.7,569.3 L348.4,571.9 L351.2,578.8 L353.2,588.1 L354.9,601.3 L356.2,618.4 L357.2,638.4 L357.9,665.1 L359.0,750.6 L360.0,665.2 L360.7,638.6 L361.7,618.7 L363.0,601.6 L364.7,588.5 L366.9,579.0 L368.2,575.4 L369.7,572.4 L371.4,570.1 L373.4,568.1 L375.9,566.5 L378.7,565.4 L382.1,564.6 L386.2,564.0 L397.6,563.6 L424.7,564.7 L446.4,566.6 L452.8,567.7 L457.7,569.0 L461.6,570.7 L464.7,572.9 L467.0,575.3 L468.9,578.2 L470.5,581.8 L471.9,586.3 L474.1,598.0 L475.9,615.1 L477.2,637.8 L478.2,667.3 L479.3,760.7 L480.2,676.4 L481.0,647.7 L481.9,626.8 L483.3,609.1 L484.9,596.3 L486.9,586.7 L489.6,580.0 L492.6,576.0 L494.4,574.5 L496.6,573.4 L502.1,571.9 L509.7,571.4 L529.2,572.2 L556.2,574.5 L569.9,576.5 L574.6,577.6 L578.5,579.0" fill="none" stroke="#D95319" stroke-width="2.6" stroke-linejoin="round" stroke-linecap="round" clip-path="url(#cd)"/>
<path d="M108.4,567.4 L110.6,569.4 L112.3,571.7 L113.9,574.6 L115.4,578.0 L117.7,586.8 L119.6,599.0 L121.1,615.1 L122.2,634.5 L124.4,703.0 L126.1,651.5 L127.7,627.3 L128.8,620.1 L129.4,618.6 L129.9,618.3 L130.5,619.3 L131.1,621.6 L132.1,629.8 L133.6,657.0 L134.5,699.6 L135.0,762.5 L135.2,857.9 L135.4,761.9 L135.9,697.4 L136.7,654.6 L138.1,621.4 L140.2,597.5 L141.5,588.6 L143.0,581.7 L144.9,575.9 L147.0,571.5 L149.7,568.1 L153.0,565.5 L156.4,563.8 L160.8,562.4 L166.0,561.4 L172.4,560.7 L181.2,560.3 L191.4,560.2 L201.0,560.5 L209.0,561.1 L217.7,562.7 L221.1,563.8 L224.0,565.2 L226.5,566.9 L228.7,569.0 L230.4,571.4 L232.0,574.4 L234.3,580.7 L236.1,588.6 L237.6,599.0 L238.8,611.6 L240.6,643.8 L242.4,704.3 L244.0,655.3 L245.4,632.4 L246.3,625.4 L246.8,623.6 L247.4,622.8 L247.9,623.4 L248.4,625.0 L249.3,631.7 L250.6,650.2 L251.5,680.7 L252.5,782.8 L253.0,709.4 L253.6,672.1 L254.6,637.8 L256.2,610.6 L258.3,592.1 L259.5,585.4 L261.0,579.5 L262.7,574.9 L264.8,571.1 L267.2,568.2 L270.1,565.9 L273.5,564.2 L277.5,562.9 L282.5,562.0 L288.7,561.3 L306.0,560.9 L323.6,561.8 L333.6,563.4 L340.6,565.7 L343.4,567.3 L345.8,569.1 L347.8,571.3 L349.6,574.0 L352.0,579.7 L354.0,587.1 L355.6,596.5 L357.0,609.3 L359.0,642.0 L360.8,702.3 L362.5,652.1 L363.9,629.5 L365.0,621.3 L366.1,617.6 L366.7,617.5 L367.2,618.5 L368.4,624.2 L369.7,639.4 L370.7,663.3 L372.1,749.5 L373.3,670.1 L374.1,642.3 L375.1,621.9 L376.5,604.7 L378.2,592.2 L380.3,583.0 L383.0,576.1 L384.8,573.4 L386.9,571.1 L389.3,569.3 L392.2,567.9 L395.6,566.8 L399.8,566.1 L410.6,565.4 L431.0,566.1 L440.7,567.0 L448.5,568.0 L454.2,569.3 L458.8,570.8 L462.6,572.8 L465.6,575.1 L467.5,577.2 L469.2,579.7 L472.0,586.3 L474.1,594.9 L475.9,606.7 L477.3,621.5 L478.5,639.9 L480.7,703.0 L482.5,656.8 L483.9,636.3 L484.9,629.7 L485.9,626.9 L486.5,627.1 L486.9,628.3 L487.9,633.4 L489.4,652.5 L490.4,681.8 L491.5,779.7 L492.4,692.7 L493.0,663.6 L494.0,639.3 L495.2,620.2 L496.8,605.0 L498.9,593.5 L501.4,585.6 L504.4,580.5 L506.3,578.6 L508.4,577.1 L510.8,575.9 L513.6,575.0 L520.9,573.9 L536.0,573.9 L555.8,575.4 L569.5,577.5 L574.5,578.8 L578.5,580.3" fill="none" stroke="#EDB120" stroke-width="2.6" stroke-linejoin="round" stroke-linecap="round" clip-path="url(#cd)"/>
<path d="M108.4,565.6 L111.2,567.7 L113.6,570.4 L115.5,573.9 L117.2,578.3 L118.6,583.7 L119.9,590.4 L121.8,608.3 L123.3,632.3 L124.3,666.6 L125.3,777.0 L126.1,682.7 L127.5,630.9 L128.6,611.9 L130.1,596.9 L132.0,586.3 L133.1,582.4 L134.3,579.6 L136.0,577.2 L137.9,576.4 L139.8,577.2 L141.5,579.5 L142.9,583.0 L144.2,588.0 L146.4,602.6 L147.9,622.1 L149.0,649.0 L150.5,736.3 L151.6,658.8 L153.3,616.3 L154.6,600.9 L156.2,588.4 L158.1,579.1 L160.7,572.3 L162.6,569.2 L164.8,566.7 L167.5,564.8 L170.8,563.2 L174.9,562.1 L179.8,561.3 L193.2,560.4 L209.7,560.9 L216.0,561.6 L221.0,562.6 L224.9,563.9 L228.1,565.7 L230.7,568.1 L232.9,571.1 L234.5,574.4 L235.9,578.4 L238.2,589.3 L240.0,604.5 L241.4,625.8 L242.5,654.2 L243.1,689.1 L243.8,794.8 L244.4,689.3 L245.1,654.7 L246.1,626.7 L247.5,606.0 L249.4,591.1 L250.6,585.7 L251.9,581.5 L253.4,578.4 L255.0,576.7 L256.8,576.4 L258.5,577.3 L260.1,579.7 L261.5,583.3 L263.7,593.7 L265.5,609.9 L266.8,631.6 L267.8,659.7 L268.9,745.8 L269.9,667.8 L270.7,640.2 L271.6,619.7 L272.8,603.1 L274.4,589.9 L276.4,580.1 L278.9,573.3 L280.7,570.0 L283.0,567.4 L285.7,565.4 L289.1,563.8 L293.3,562.7 L298.5,561.9 L312.2,561.3 L320.8,561.5 L328.6,562.1 L334.9,563.0 L340.0,564.3 L343.8,565.8 L347.0,567.8 L349.6,570.4 L351.7,573.7 L353.3,577.2 L354.6,581.3 L356.8,592.0 L358.5,606.6 L359.8,626.0 L360.7,649.6 L361.4,678.3 L362.3,776.9 L363.0,684.4 L363.7,653.4 L364.6,628.9 L365.8,610.3 L367.4,596.2 L369.5,586.2 L370.7,582.7 L372.0,580.3 L373.7,578.6 L375.5,578.2 L377.3,579.3 L378.9,581.5 L380.3,584.8 L381.5,589.1 L383.6,601.6 L385.1,618.1 L386.3,641.6 L388.1,715.5 L389.6,649.1 L391.4,613.5 L392.7,599.7 L394.4,588.7 L396.4,581.0 L398.9,575.2 L400.9,572.5 L403.2,570.4 L406.0,568.8 L409.4,567.7 L413.5,566.9 L418.7,566.4 L432.5,566.4 L448.1,567.7 L454.1,568.6 L458.9,569.8 L462.8,571.3 L465.9,573.1 L468.5,575.4 L470.7,578.2 L472.3,581.2 L473.7,584.8 L475.9,593.9 L477.7,606.3 L479.1,622.8 L480.2,642.6 L481.0,669.8 L482.1,753.4 L483.4,666.5 L484.3,639.3 L485.7,617.0 L487.5,601.8 L488.6,596.0 L489.8,591.8 L491.3,588.4 L492.9,586.5 L494.6,586.0 L496.4,586.8 L497.9,588.7 L499.3,591.9 L500.6,596.1 L501.7,601.7 L503.5,616.0 L504.9,636.4 L505.9,663.7 L506.6,696.5 L507.3,797.1 L507.9,703.5 L509.2,646.4 L510.2,626.2 L511.6,610.5 L513.3,598.3 L515.4,589.3 L517.9,583.6 L519.4,581.3 L521.1,579.5 L522.9,578.1 L525.2,577.0 L530.8,575.5 L540.9,574.8 L555.3,575.4 L569.1,577.0 L578.5,579.2" fill="none" stroke="#7E2F8E" stroke-width="2.6" stroke-linejoin="round" stroke-linecap="round" clip-path="url(#cd)"/>
<path d="M108.4,565.1 L111.4,567.1 L113.9,569.6 L115.9,573.0 L117.6,577.3 L119.1,582.9 L120.3,589.5 L122.3,607.2 L123.7,631.0 L124.8,665.1 L125.3,704.2 L125.8,781.3 L126.6,675.2 L127.5,640.8 L128.6,616.5 L130.2,597.4 L132.4,583.4 L133.7,578.3 L135.2,574.2 L137.0,570.9 L139.1,568.3 L141.0,566.8 L143.1,565.7 L148.0,564.5 L153.3,564.8 L155.7,565.5 L157.9,566.6 L161.0,569.4 L163.4,573.3 L165.4,578.7 L167.1,586.0 L168.5,595.6 L169.6,607.2 L171.3,638.7 L172.3,682.5 L173.0,751.8 L173.9,671.1 L175.2,627.1 L176.3,609.5 L177.7,594.6 L179.3,584.2 L181.4,576.1 L182.8,572.6 L184.5,569.6 L186.3,567.3 L188.6,565.4 L191.2,563.9 L194.4,562.8 L202.7,561.5 L208.8,561.3 L214.9,561.6 L220.0,562.3 L224.2,563.3 L227.5,564.8 L230.2,566.7 L232.4,569.2 L234.3,572.3 L235.7,575.7 L237.0,580.0 L239.1,590.9 L240.8,606.8 L242.0,626.5 L242.8,649.3 L243.5,680.7 L244.3,781.4 L245.0,680.7 L245.7,649.4 L246.5,626.6 L247.7,607.0 L249.3,591.9 L251.4,580.8 L252.6,576.7 L254.0,573.3 L255.6,570.6 L257.4,568.5 L259.5,566.9 L261.8,565.7 L264.7,565.0 L267.8,564.8 L270.8,565.2 L273.6,566.1 L275.6,567.1 L277.4,568.6 L280.4,572.7 L282.7,578.5 L284.6,586.5 L286.0,596.2 L287.2,609.0 L289.0,645.0 L290.0,691.0 L290.6,771.3 L291.3,684.0 L292.5,634.4 L293.5,614.2 L294.7,599.4 L296.3,587.4 L298.3,578.6 L300.9,572.1 L302.4,569.7 L304.1,567.8 L306.0,566.2 L308.4,564.9 L314.3,563.2 L319.4,562.6 L325.2,562.5 L331.3,562.8 L336.8,563.5 L340.9,564.5 L344.3,565.9 L347.0,567.5 L349.4,569.7 L351.5,572.8 L353.4,576.9 L355.0,582.1 L356.3,588.3 L358.5,605.6 L360.1,630.8 L361.1,662.9 L361.8,707.4 L362.3,857.6 L362.7,707.4 L363.3,667.4 L364.2,635.4 L365.6,610.5 L367.6,592.4 L368.8,585.7 L370.2,580.3 L371.9,576.0 L373.9,572.8 L375.6,571.0 L377.5,569.6 L379.6,568.6 L382.1,568.0 L384.9,567.8 L387.7,568.0 L390.4,568.6 L392.8,569.7 L396.3,572.4 L399.0,576.3 L401.2,581.6 L403.0,588.7 L404.4,597.5 L405.6,609.0 L407.4,639.5 L408.5,683.9 L409.3,751.8 L410.3,668.6 L411.1,642.1 L412.1,620.7 L413.5,603.3 L415.2,591.1 L417.3,582.0 L418.7,578.6 L420.2,575.7 L422.1,573.2 L424.6,571.1 L427.5,569.6 L431.0,568.6 L435.5,568.0 L441.0,567.8 L447.3,568.0 L453.4,568.7 L461.1,570.5 L464.1,571.8 L466.6,573.4 L468.8,575.3 L470.6,577.6 L472.2,580.4 L473.6,583.8 L475.6,591.6 L477.3,602.1 L478.7,615.2 L479.8,632.9 L481.2,677.1 L482.1,751.8 L483.0,682.3 L484.0,643.9 L485.8,613.6 L487.0,602.3 L488.4,593.7 L490.1,587.1 L492.3,582.0 L494.9,578.5 L498.2,576.2 L500.6,575.5 L503.1,575.1 L505.8,575.2 L508.5,575.7 L511.0,576.5 L513.3,577.7 L515.2,579.3 L516.9,581.1 L518.7,583.9 L520.2,587.2 L522.7,596.3 L524.7,609.5 L526.2,627.2 L527.4,650.3 L528.1,677.2 L529.1,771.2 L529.9,692.9 L531.1,645.7 L532.1,627.6 L533.2,613.6 L534.6,602.3 L536.3,593.8 L538.3,587.8 L540.7,583.3 L543.7,580.3 L547.7,578.3 L553.6,577.1 L561.5,576.8 L570.9,577.6 L578.5,579.2" fill="none" stroke="#77AC30" stroke-width="2.6" stroke-linejoin="round" stroke-linecap="round" clip-path="url(#cd)"/>
<path d="M108.4,565.2 L112.0,566.4 L115.0,568.3 L117.4,571.1 L119.5,575.0 L121.2,580.0 L122.7,586.8 L123.9,595.0 L124.9,605.0 L126.6,633.3 L127.7,670.0 L128.2,715.8 L128.6,797.2 L129.4,681.2 L130.1,646.5 L131.3,617.9 L132.9,597.9 L135.1,583.5 L136.4,578.2 L138.0,573.7 L139.8,570.3 L142.0,567.5 L144.2,565.6 L146.9,564.1 L150.2,562.9 L154.1,562.1 L159.1,561.5 L164.7,561.3 L170.3,561.5 L175.1,562.1 L181.0,563.8 L183.3,564.9 L185.4,566.4 L187.2,568.3 L188.7,570.4 L191.2,576.0 L193.2,583.5 L194.8,593.5 L196.1,606.4 L197.2,622.3 L198.6,663.3 L199.6,734.7 L200.5,667.8 L201.7,630.2 L203.5,601.3 L204.9,590.3 L206.4,582.1 L208.3,575.4 L210.9,570.5 L214.1,567.1 L216.1,566.0 L218.2,565.1 L221.0,564.6 L224.0,564.6 L226.8,565.0 L229.3,565.9 L231.5,567.2 L233.4,569.0 L235.0,571.1 L236.4,573.7 L237.8,577.3 L239.0,581.7 L241.0,592.9 L242.6,608.7 L243.8,629.7 L244.7,658.5 L245.3,691.3 L245.9,793.2 L246.5,691.3 L247.1,658.5 L248.0,629.6 L249.2,608.6 L250.8,592.7 L252.9,581.1 L254.1,576.7 L255.6,572.9 L257.5,569.6 L259.8,567.1 L262.5,565.1 L265.9,563.6 L270.3,562.5 L275.7,561.9 L282.1,561.7 L288.4,562.1 L293.0,562.7 L296.7,563.6 L299.8,564.8 L302.5,566.4 L304.7,568.5 L306.6,571.0 L308.2,574.1 L309.6,578.0 L311.7,586.9 L313.3,598.4 L314.6,613.9 L315.6,633.6 L316.8,681.2 L317.6,771.4 L318.2,695.3 L319.1,647.0 L320.8,611.5 L321.9,598.8 L323.2,589.1 L324.9,581.0 L326.9,575.3 L329.3,571.1 L332.4,568.2 L334.6,567.1 L337.1,566.5 L339.8,566.2 L342.5,566.4 L345.0,566.9 L347.4,567.9 L349.4,569.2 L351.2,571.0 L353.3,574.1 L355.1,578.2 L356.6,583.2 L357.9,589.7 L360.1,608.0 L361.6,633.1 L362.5,663.0 L363.2,707.5 L363.7,857.6 L364.1,707.5 L364.7,667.4 L365.6,635.4 L367.1,609.3 L369.1,591.6 L370.3,585.0 L371.8,579.4 L373.5,575.2 L375.6,571.9 L377.8,569.6 L380.3,568.0 L383.3,566.7 L387.0,565.9 L391.8,565.4 L397.5,565.3 L403.7,565.7 L409.5,566.5 L416.5,568.4 L419.2,569.6 L421.5,571.2 L423.5,573.0 L425.2,575.3 L428.0,581.2 L430.0,588.9 L431.6,598.7 L433.0,611.3 L434.1,628.4 L435.5,669.6 L436.5,745.3 L437.5,674.3 L438.6,636.5 L440.5,607.7 L441.8,596.7 L443.3,588.6 L445.4,581.8 L447.9,577.0 L449.4,575.3 L451.2,573.8 L455.3,572.1 L458.2,571.7 L461.4,571.7 L464.4,572.3 L467.1,573.3 L469.4,574.7 L471.4,576.4 L473.1,578.5 L474.6,581.2 L476.0,584.7 L477.3,589.1 L479.4,600.4 L481.1,616.8 L482.3,637.4 L483.2,661.7 L483.8,696.3 L484.5,795.5 L485.1,696.4 L485.7,665.5 L486.5,639.7 L487.8,618.3 L489.3,603.0 L491.2,591.4 L493.8,583.4 L495.5,580.2 L497.4,577.9 L499.6,576.1 L502.3,574.7 L505.6,573.8 L509.6,573.3 L519.8,573.5 L530.5,575.2 L534.6,576.4 L537.9,577.9 L540.6,579.7 L542.9,581.9 L544.7,584.6 L546.4,588.0 L548.6,594.9 L550.3,603.7 L551.7,615.3 L552.8,629.7 L554.4,667.7 L555.7,735.8 L556.7,679.4 L557.6,648.4 L559.0,623.6 L560.9,606.0 L562.1,599.1 L563.5,593.9 L565.1,589.6 L566.8,586.4 L569.1,583.9 L571.7,582.2 L574.9,581.2 L578.5,580.9" fill="none" stroke="#4DBEEE" stroke-width="2.6" stroke-linejoin="round" stroke-linecap="round" clip-path="url(#cd)"/>
<path d="M108.4,588.1 L109.8,597.8 L111.0,610.4 L112.8,644.6 L113.9,691.2 L114.5,762.4 L115.3,685.7 L116.5,639.4 L117.4,622.1 L118.6,608.5 L120.1,599.5 L120.9,596.4 L121.8,594.6 L122.6,594.0 L123.4,594.5 L124.3,596.2 L125.1,599.2 L126.5,607.8 L127.8,621.0 L129.4,655.3 L130.7,722.2 L132.2,650.5 L133.0,628.7 L134.1,611.7 L135.5,596.9 L137.2,585.9 L139.2,577.8 L141.9,571.7 L143.8,568.9 L146.2,566.6 L149.0,564.8 L152.4,563.3 L156.5,562.2 L161.6,561.3 L175.0,560.4 L193.0,560.6 L200.3,561.2 L206.0,562.1 L210.5,563.3 L214.1,564.9 L217.0,566.9 L219.4,569.6 L221.1,572.2 L222.6,575.6 L225.1,584.1 L227.1,596.4 L228.6,612.6 L229.8,634.7 L230.6,661.2 L231.8,743.1 L232.9,666.4 L233.6,641.5 L234.6,622.9 L235.9,607.5 L237.6,596.8 L238.5,593.7 L239.6,591.9 L240.6,591.6 L241.6,592.8 L242.7,595.8 L243.6,600.2 L245.3,614.3 L246.5,633.3 L247.5,659.9 L248.4,727.8 L248.7,857.9 L249.2,704.3 L250.0,658.5 L251.2,625.1 L253.0,600.8 L254.1,591.7 L255.5,583.9 L257.0,578.2 L258.9,573.4 L261.2,569.7 L263.9,566.8 L266.8,564.9 L270.3,563.5 L274.5,562.4 L279.8,561.6 L287.0,561.1 L295.8,560.9 L312.5,561.5 L322.7,562.9 L326.5,563.8 L329.8,565.1 L332.5,566.5 L334.9,568.3 L336.9,570.5 L338.7,573.2 L341.2,579.2 L343.3,587.6 L345.0,598.9 L346.3,613.1 L347.3,630.4 L348.2,652.6 L349.6,721.3 L351.0,654.0 L351.8,632.7 L352.9,615.4 L354.4,602.7 L356.1,594.1 L357.2,591.7 L358.2,590.6 L359.3,590.9 L360.4,592.5 L362.3,599.4 L363.9,611.4 L365.1,627.7 L366.0,648.8 L367.1,706.1 L367.7,801.0 L368.3,697.3 L368.8,664.2 L369.7,637.2 L370.9,615.0 L372.4,598.9 L374.4,586.7 L376.8,578.3 L378.5,574.8 L380.4,572.1 L382.7,569.9 L385.4,568.2 L388.7,566.9 L392.6,566.0 L403.3,565.2 L413.4,565.3 L424.6,565.9 L434.1,566.8 L441.5,568.1 L446.8,569.5 L451.0,571.4 L454.4,573.8 L457.1,576.8 L459.2,580.4 L461.0,584.9 L462.5,590.5 L463.7,597.0 L465.8,614.9 L467.3,639.5 L468.3,672.0 L469.0,716.8 L469.4,857.9 L469.8,728.6 L470.8,665.7 L471.6,642.0 L472.8,622.5 L474.4,608.6 L475.4,603.9 L476.3,600.8 L477.3,599.1 L477.9,598.7 L478.5,598.8 L479.6,600.2 L480.6,603.1 L482.4,613.0 L483.8,627.9 L484.9,646.7 L485.6,669.1 L486.8,745.8 L488.1,668.0 L488.8,644.9 L489.8,625.1 L491.2,608.7 L492.9,596.8 L495.0,588.2 L497.7,581.8 L500.1,578.7 L502.9,576.4 L506.5,574.8 L510.9,573.7 L516.6,573.2 L524.1,573.2 L544.8,574.6 L559.0,576.7 L564.1,578.0 L568.3,579.6 L571.5,581.5 L574.3,583.8 L576.5,586.7 L578.5,590.4" fill="none" stroke="#A2142F" stroke-width="2.6" stroke-linejoin="round" stroke-linecap="round" clip-path="url(#cd)"/>
<path d="M686.0,691.7 L688.8,668.2 L694.0,615.4 L696.3,594.9 L698.7,579.5 L700.1,576.0 L700.6,575.9 L700.8,576.1 L702.0,580.2 L704.1,591.4 L707.9,621.8 L709.7,642.0 L714.0,679.6 L719.4,720.4 L724.8,750.3 L731.4,780.2 L733.9,789.0 L735.1,791.4 L737.5,799.0 L739.3,802.5 L740.8,806.2 L745.7,816.1 L747.6,818.4 L748.5,818.2 L749.0,818.4 L750.4,820.3 L751.8,823.4 L752.7,823.8 L753.9,823.6 L755.8,824.5 L757.4,823.7 L759.1,824.0 L760.3,824.5 L762.1,822.6 L763.5,822.5 L764.0,822.2 L765.9,818.8 L766.4,818.8 L767.1,819.6 L767.5,819.6 L768.7,817.5 L771.3,814.5 L772.7,810.2 L773.9,810.6 L774.6,809.5 L779.3,798.1 L780.2,794.7 L781.6,791.3 L783.1,785.6 L785.2,781.4 L791.0,755.7 L792.7,745.9 L793.9,742.6 L794.6,739.5 L797.6,719.5 L799.5,709.4 L804.0,674.7 L814.5,578.3 L816.9,564.6 L818.3,561.4 L818.8,561.4 L820.9,565.3 L822.8,575.4 L831.9,657.4 L834.8,680.9 L837.1,696.9 L842.0,727.4 L844.4,739.9 L848.1,756.0 L850.3,762.5 L851.9,771.4 L852.4,772.8 L853.8,774.7 L855.4,780.1 L856.8,782.3 L858.7,789.4 L859.2,790.3 L859.9,790.4 L860.4,790.9 L863.4,798.3 L865.1,801.0 L865.8,801.6 L866.9,801.5 L868.4,802.0 L870.0,803.2 L871.9,805.6 L873.1,807.9 L873.8,808.4 L875.2,808.5 L876.8,809.5 L878.2,808.1 L879.9,807.6 L882.5,808.7 L883.9,806.0 L885.5,805.4 L886.7,803.1 L887.6,803.0 L888.1,802.7 L890.0,799.1 L891.2,798.1 L893.5,792.6 L894.0,792.1 L894.7,792.1 L894.9,791.8 L897.0,784.0 L899.1,781.1 L900.8,775.1 L902.4,771.3 L903.8,765.5 L906.0,759.1 L907.8,749.3 L910.0,742.9 L913.2,724.6 L916.1,710.9 L918.2,696.8 L922.9,662.5 L927.3,621.7 L932.3,581.5 L934.9,567.5 L935.3,565.6 L935.8,564.9 L937.4,566.3 L938.4,567.8 L941.2,582.3 L942.9,593.7 L944.7,610.3 L946.1,619.3 L947.8,636.0 L954.6,688.0 L957.4,703.0 L959.5,716.6 L961.4,725.1 L962.8,734.4 L965.6,747.1 L968.7,756.5 L971.3,767.6 L975.3,778.5 L977.4,785.8 L977.9,786.0 L978.6,785.5 L980.2,786.9 L983.0,796.1 L984.7,798.8 L986.1,799.7 L987.3,802.5 L987.7,802.7 L988.7,801.4 L989.1,801.4 L991.3,805.8 L992.4,804.3 L992.9,804.3 L995.7,806.9 L996.7,808.6 L997.4,808.9 L998.1,808.4 L999.3,806.2 L1000.4,804.9 L1000.9,805.1 L1002.1,806.5 L1003.2,806.2 L1004.2,805.5 L1005.1,805.7 L1006.1,804.9 L1007.2,804.9 L1008.7,801.6 L1009.8,800.3 L1010.8,800.1 L1011.5,799.2 L1013.4,793.7 L1015.2,790.5 L1016.2,790.2 L1016.4,789.9 L1017.8,785.1 L1018.8,784.7 L1019.7,783.1 L1020.4,781.2 L1021.8,774.8 L1023.7,769.8 L1025.1,767.5 L1025.8,765.6 L1028.2,754.3 L1030.0,750.2 L1032.9,738.9 L1034.5,728.3 L1037.8,712.7 L1045.8,661.4 L1048.4,640.4 L1049.5,633.2 L1051.2,617.4 L1055.4,587.2 L1057.1,580.2 L1058.2,579.1 L1059.4,576.6 L1060.1,577.0 L1061.1,579.0 L1062.9,584.9 L1063.9,589.7 L1066.7,611.4 L1068.3,621.4 L1073.3,662.7 L1077.0,689.6 L1081.5,717.8 L1082.9,723.3 L1086.2,742.2 L1089.0,753.4 L1090.7,758.2 L1093.3,768.8 L1095.1,773.7 L1097.5,781.5 L1099.6,785.1 L1104.1,796.0 L1105.2,797.1 L1106.4,799.1 L1107.4,799.8 L1109.0,803.5 L1110.9,805.6 L1112.3,805.3 L1113.0,804.5 L1113.5,804.4 L1114.6,806.4 L1117.0,809.0 L1117.7,808.9 L1119.3,807.5 L1121.2,808.3 L1124.7,806.3 L1125.9,803.9 L1127.6,802.4 L1129.2,802.4 L1132.3,797.9 L1133.4,797.1 L1135.8,791.0 L1136.3,790.4 L1137.2,790.1 L1138.8,785.7 L1140.3,783.5 L1141.7,777.3 L1142.8,774.9 L1144.7,768.8 L1146.6,759.4 L1148.2,756.4 L1151.8,743.1 L1156.0,720.1" fill="none" stroke="#0072BD" stroke-width="2.6" stroke-linejoin="round" stroke-linecap="round" clip-path="url(#ce)"/>
<path d="M686.0,719.3 L692.8,661.7 L698.9,597.3 L701.7,577.4 L703.2,571.3 L703.9,570.4 L704.3,570.7 L706.9,582.9 L708.1,591.0 L713.0,639.2 L719.1,693.5 L721.2,706.3 L724.3,729.2 L726.9,741.2 L728.5,751.6 L731.4,763.2 L732.5,769.8 L736.1,782.2 L737.9,790.4 L738.9,793.0 L742.6,800.9 L744.0,804.9 L745.2,806.4 L747.6,811.9 L749.2,814.7 L750.2,815.6 L751.3,818.7 L752.5,820.3 L753.4,820.5 L754.6,819.9 L756.3,822.8 L756.7,822.7 L757.2,822.2 L757.7,822.3 L758.8,824.8 L760.7,822.0 L762.6,822.4 L763.8,823.6 L764.3,823.7 L766.1,820.7 L767.3,821.3 L769.2,819.9 L770.1,820.4 L770.6,820.1 L772.9,814.5 L773.4,814.1 L774.1,814.4 L774.6,814.2 L775.8,812.0 L776.9,808.4 L777.2,808.2 L777.9,808.4 L778.4,807.8 L781.2,800.5 L782.8,797.3 L784.0,792.5 L788.5,778.6 L792.5,763.4 L794.3,753.2 L797.9,738.4 L800.7,718.7 L802.6,709.5 L807.3,675.4 L816.7,590.3 L818.8,574.2 L819.7,569.5 L820.7,569.3 L821.8,567.1 L822.3,567.1 L824.6,573.2 L825.6,578.1 L834.0,652.5 L838.7,687.0 L840.2,699.5 L847.0,736.2 L851.9,757.4 L853.3,761.2 L855.4,770.6 L859.2,780.5 L860.6,785.6 L861.5,786.9 L863.2,791.0 L866.7,797.1 L868.1,800.6 L868.8,801.5 L869.8,801.0 L870.2,801.3 L871.6,805.1 L872.8,804.4 L875.2,806.0 L876.1,806.2 L878.7,811.1 L880.1,808.9 L882.5,809.3 L883.4,808.6 L884.1,808.5 L885.3,806.9 L886.5,806.3 L888.1,807.0 L889.5,803.8 L890.9,802.9 L891.6,803.3 L893.5,799.3 L894.2,798.7 L895.4,798.7 L896.8,793.4 L898.2,792.3 L899.1,790.6 L901.0,786.0 L903.8,776.2 L905.3,773.5 L906.7,769.6 L911.4,753.0 L917.5,723.8 L924.8,678.0 L927.3,657.5 L928.8,643.6 L930.9,628.6 L933.9,599.7 L936.5,579.4 L938.9,569.8 L940.5,565.5 L942.4,568.7 L942.9,570.0 L945.2,581.7 L947.8,601.4 L953.4,651.2 L957.4,676.7 L959.8,695.7 L962.1,707.5 L963.8,719.5 L965.6,730.1 L967.1,736.4 L968.2,739.1 L974.1,767.1 L974.8,768.7 L976.2,769.7 L977.6,775.9 L979.0,777.8 L980.5,783.1 L982.3,786.5 L984.9,792.6 L987.0,794.7 L988.9,799.9 L989.4,800.3 L990.1,800.3 L991.3,801.8 L992.4,802.4 L993.6,804.2 L995.0,803.7 L996.2,805.2 L997.4,805.2 L998.8,808.5 L1000.4,806.8 L1001.6,807.0 L1002.5,808.0 L1004.0,807.6 L1005.6,805.8 L1006.5,804.0 L1007.7,805.1 L1007.9,805.0 L1009.1,803.0 L1010.3,801.8 L1011.2,801.3 L1011.9,800.3 L1012.9,799.9 L1014.3,797.7 L1015.5,797.3 L1016.9,793.6 L1018.1,791.6 L1020.4,785.2 L1020.9,784.5 L1021.6,784.1 L1022.0,783.2 L1023.9,777.0 L1025.3,773.9 L1027.0,767.8 L1027.5,766.9 L1028.2,766.6 L1028.6,765.6 L1039.9,714.9 L1043.4,692.7 L1047.2,665.9 L1050.7,638.3 L1052.4,622.7 L1056.4,593.3 L1058.9,577.9 L1059.9,574.6 L1060.8,572.5 L1062.5,573.0 L1063.6,575.4 L1066.9,592.5 L1076.6,669.8 L1079.9,693.5 L1084.6,722.8 L1086.0,727.4 L1087.6,738.0 L1090.2,749.6 L1091.8,756.3 L1093.0,758.6 L1095.8,770.7 L1097.0,772.8 L1099.8,780.0 L1102.9,790.1 L1104.1,792.5 L1105.5,794.0 L1108.1,798.9 L1109.7,801.3 L1110.9,801.9 L1112.1,803.3 L1113.5,803.6 L1114.9,807.5 L1115.8,808.9 L1117.0,807.8 L1118.2,807.2 L1119.6,808.8 L1121.2,806.8 L1122.6,808.0 L1124.0,807.0 L1125.4,808.6 L1126.9,806.4 L1127.8,806.5 L1128.7,805.2 L1129.7,804.6 L1131.6,802.4 L1133.9,797.5 L1135.1,796.8 L1136.7,792.2 L1138.4,789.7 L1140.7,787.3 L1141.9,783.4 L1144.0,778.0 L1147.3,767.4 L1149.2,760.0 L1150.6,756.8 L1152.5,748.0 L1154.1,742.2 L1156.0,729.3" fill="none" stroke="#D95319" stroke-width="2.6" stroke-linejoin="round" stroke-linecap="round" clip-path="url(#ce)"/>
<path d="M686.0,777.2 L689.1,762.9 L695.6,721.2 L698.9,693.9 L705.7,627.2 L710.7,582.5 L711.6,576.9 L712.8,572.9 L713.3,572.0 L714.7,571.1 L715.4,572.8 L716.5,577.5 L718.7,592.8 L729.2,692.3 L732.5,714.4 L734.6,724.1 L736.1,735.1 L738.4,749.6 L740.8,759.0 L742.4,768.1 L743.6,771.7 L745.0,778.7 L747.1,784.7 L750.6,796.9 L753.4,804.2 L754.9,805.3 L756.3,808.8 L757.9,810.7 L759.3,815.0 L760.5,814.1 L761.7,816.4 L763.3,818.0 L764.3,819.5 L765.2,818.3 L765.7,818.4 L767.1,823.0 L768.0,822.4 L769.2,823.1 L770.6,822.8 L772.0,821.7 L773.4,822.9 L774.4,822.5 L775.1,823.0 L775.5,822.9 L777.2,821.2 L778.4,818.5 L780.2,817.1 L781.6,814.5 L785.2,810.9 L786.8,808.2 L788.2,804.3 L788.7,803.9 L789.6,804.0 L790.1,803.5 L791.0,800.7 L793.4,795.9 L794.8,789.3 L796.7,782.8 L798.1,779.8 L802.6,762.0 L808.9,731.3 L810.5,720.0 L812.0,713.2 L819.0,660.6 L823.9,612.6 L828.4,574.9 L829.6,568.6 L831.5,562.7 L831.9,562.0 L832.9,562.8 L834.3,566.3 L835.9,576.8 L837.8,594.3 L839.2,603.5 L841.1,623.6 L845.6,659.7 L847.4,677.6 L854.0,719.2 L856.8,734.5 L859.9,747.4 L861.3,754.9 L863.0,761.1 L865.1,766.9 L867.2,775.9 L869.3,779.9 L870.7,784.8 L872.4,788.7 L874.0,790.9 L876.3,797.6 L876.8,797.9 L877.5,797.0 L878.0,797.4 L879.9,801.9 L881.8,805.1 L883.2,805.9 L884.6,809.7 L885.0,809.5 L886.5,806.8 L886.9,807.1 L887.9,808.6 L889.0,807.1 L890.2,808.3 L891.6,807.7 L892.8,808.2 L894.9,805.7 L896.6,806.8 L898.0,804.7 L900.1,804.2 L901.5,801.8 L902.4,802.4 L902.9,802.2 L904.8,797.3 L905.7,796.6 L906.2,795.7 L908.3,789.2 L911.8,783.5 L914.7,773.6 L916.8,767.9 L917.9,762.8 L919.8,758.7 L921.5,749.7 L922.6,746.1 L923.8,739.5 L925.0,735.0 L926.4,726.3 L928.0,719.5 L929.5,708.3 L930.9,701.3 L933.7,682.7 L939.1,640.7 L941.2,620.2 L946.1,579.7 L949.0,567.7 L949.7,566.2 L950.8,565.4 L951.5,566.4 L952.7,571.2 L955.3,585.4 L960.0,621.9 L964.0,659.5 L967.5,683.8 L970.3,700.0 L972.0,713.5 L974.8,725.7 L976.2,733.9 L983.5,765.6 L984.0,767.1 L984.9,768.6 L986.1,773.5 L986.6,774.6 L987.5,775.0 L988.0,775.7 L991.5,786.8 L992.0,787.6 L992.7,787.3 L993.1,787.9 L994.6,792.9 L997.6,797.5 L999.5,798.7 L1000.7,801.5 L1000.9,801.7 L1001.8,801.2 L1003.0,803.1 L1004.0,803.8 L1005.4,805.7 L1006.8,804.8 L1007.2,805.0 L1008.7,807.1 L1010.8,807.3 L1012.2,805.8 L1013.4,807.1 L1013.8,806.9 L1014.8,805.7 L1015.9,806.8 L1017.6,804.0 L1023.7,797.7 L1025.8,791.4 L1027.2,791.5 L1027.9,790.6 L1031.4,780.5 L1033.1,778.9 L1034.5,773.9 L1037.3,766.3 L1039.0,758.4 L1040.4,755.0 L1042.3,746.0 L1043.9,741.0 L1045.3,732.6 L1048.8,716.1 L1050.0,706.7 L1052.8,692.1 L1054.2,681.5 L1055.4,675.9 L1064.6,601.4 L1068.3,578.5 L1069.0,575.9 L1070.0,574.2 L1071.6,574.5 L1072.1,575.3 L1073.7,581.5 L1074.9,588.0 L1079.4,619.5 L1087.1,682.0 L1092.5,715.4 L1094.9,726.3 L1097.0,738.6 L1100.8,755.0 L1102.2,759.4 L1104.1,767.4 L1105.5,770.0 L1107.6,777.2 L1109.0,780.6 L1110.9,787.6 L1112.3,789.7 L1114.4,795.0 L1115.3,795.7 L1116.8,797.9 L1118.4,798.9 L1119.6,801.5 L1122.4,805.9 L1123.6,805.9 L1125.2,808.1 L1126.2,807.2 L1126.6,807.2 L1127.8,809.4 L1129.2,807.8 L1130.6,809.3 L1132.0,809.8 L1133.4,808.2 L1136.0,806.7 L1137.7,803.9 L1139.1,804.2 L1140.0,802.8 L1141.2,802.5 L1142.1,800.9 L1143.8,796.7 L1144.2,796.3 L1145.2,796.3 L1146.8,793.8 L1150.4,785.8 L1152.0,780.0 L1154.6,774.3 L1156.0,769.5" fill="none" stroke="#EDB120" stroke-width="2.6" stroke-linejoin="round" stroke-linecap="round" clip-path="url(#ce)"/>
<path d="M686.0,824.6 L687.9,822.3 L689.8,817.9 L691.6,809.2 L692.8,806.2 L694.0,801.4 L698.5,787.0 L707.1,741.5 L713.7,695.7 L715.6,675.4 L717.5,661.4 L722.4,610.7 L725.5,584.1 L726.2,579.8 L727.4,575.4 L728.8,571.2 L729.2,570.6 L729.9,571.5 L731.1,574.4 L733.0,585.0 L739.3,641.2 L742.2,670.2 L745.0,689.8 L746.4,702.1 L749.9,723.5 L751.6,735.5 L754.6,748.5 L759.3,771.2 L760.5,775.5 L762.4,780.6 L763.8,787.2 L765.0,790.0 L766.1,794.7 L766.6,795.4 L767.5,795.5 L768.0,795.9 L770.8,803.6 L774.4,808.6 L776.7,813.9 L777.4,814.4 L778.1,813.6 L778.6,813.6 L780.0,817.2 L780.7,818.2 L781.9,817.3 L783.5,817.8 L784.7,817.6 L786.8,819.9 L788.0,818.8 L788.9,819.8 L789.9,819.8 L791.5,818.0 L792.5,818.7 L792.9,818.7 L794.3,816.5 L796.4,815.4 L797.6,812.8 L798.8,811.5 L800.0,809.3 L800.4,809.0 L801.6,809.1 L803.0,805.7 L804.4,803.3 L805.6,799.8 L807.0,798.7 L807.5,797.7 L810.3,788.0 L812.0,783.9 L813.8,776.5 L816.7,767.7 L819.7,753.2 L821.1,748.0 L823.0,737.6 L824.2,733.4 L825.6,723.5 L829.6,700.7 L834.3,667.5 L839.2,621.6 L844.4,579.5 L845.6,574.1 L847.2,569.6 L847.7,569.0 L848.4,569.2 L849.3,568.4 L850.0,570.3 L852.4,583.5 L860.1,648.5 L866.7,697.5 L872.8,732.4 L874.9,741.1 L876.6,751.1 L878.5,756.6 L879.4,760.8 L882.0,768.2 L884.1,776.7 L885.7,780.6 L886.9,782.0 L887.9,785.9 L890.0,791.0 L891.2,792.7 L892.1,795.5 L893.3,796.5 L894.9,800.7 L895.6,801.1 L897.0,801.0 L900.8,807.5 L902.7,808.0 L904.1,806.1 L904.8,805.7 L905.7,806.2 L907.4,807.9 L908.1,807.7 L909.2,806.4 L910.7,806.8 L911.6,805.8 L912.5,807.1 L913.0,807.3 L914.9,806.0 L917.0,802.7 L918.2,803.1 L919.6,799.1 L921.5,797.3 L923.1,791.6 L923.8,790.5 L925.2,789.2 L926.4,786.0 L928.8,781.8 L930.6,775.0 L932.0,771.5 L933.2,766.6 L934.9,762.1 L939.3,744.6 L940.7,736.8 L942.4,732.6 L944.7,716.4 L946.4,709.1 L949.9,683.2 L951.3,675.3 L955.3,645.2 L957.7,622.1 L963.3,574.6 L965.9,565.1 L966.6,563.5 L967.1,563.2 L967.8,564.4 L968.9,567.7 L971.1,578.0 L974.8,607.7 L976.9,628.5 L982.1,670.3 L983.7,679.7 L986.3,700.0 L991.0,726.9 L997.4,756.6 L999.7,764.5 L1000.9,767.2 L1002.3,773.4 L1003.7,777.1 L1007.2,784.1 L1008.7,788.6 L1009.6,789.8 L1011.0,792.9 L1012.6,794.8 L1013.8,797.7 L1015.0,799.5 L1016.2,800.0 L1017.8,804.2 L1018.5,804.7 L1019.9,803.8 L1020.4,803.9 L1022.3,807.4 L1023.5,805.9 L1023.9,805.8 L1025.6,808.2 L1026.3,808.6 L1028.6,806.0 L1030.0,806.8 L1031.4,806.5 L1032.4,805.1 L1033.6,804.6 L1035.2,801.8 L1036.4,802.5 L1036.9,802.2 L1038.0,800.7 L1039.2,797.0 L1039.7,796.6 L1040.6,796.6 L1041.3,795.9 L1043.0,790.7 L1044.6,789.4 L1046.5,782.3 L1048.6,778.6 L1050.2,772.3 L1051.7,769.8 L1055.4,755.5 L1056.6,752.5 L1061.1,732.1 L1065.8,703.7 L1067.4,696.1 L1072.8,657.9 L1074.2,644.4 L1077.0,623.4 L1078.9,605.5 L1080.8,593.2 L1083.6,578.3 L1084.8,573.8 L1086.0,572.1 L1086.4,572.3 L1087.1,573.9 L1089.7,582.3 L1094.7,620.0 L1099.1,658.5 L1107.1,712.5 L1111.8,737.6 L1113.2,742.7 L1114.2,747.7 L1115.3,751.4 L1116.5,757.2 L1118.9,764.5 L1120.0,769.9 L1121.7,775.1 L1123.1,778.2 L1124.5,783.7 L1125.9,785.5 L1127.3,789.8 L1128.5,791.1 L1129.9,795.5 L1130.6,796.4 L1131.6,796.2 L1132.0,796.6 L1133.4,800.1 L1135.1,801.9 L1136.7,805.5 L1137.4,805.5 L1138.1,804.2 L1138.6,803.9 L1140.3,807.7 L1142.1,809.8 L1143.5,809.6 L1144.5,809.9 L1148.0,808.9 L1149.2,809.3 L1150.4,807.0 L1151.5,807.2 L1152.7,805.7 L1154.4,804.5 L1156.0,801.6" fill="none" stroke="#7E2F8E" stroke-width="2.6" stroke-linejoin="round" stroke-linecap="round" clip-path="url(#ce)"/>
<path d="M686.0,838.1 L687.2,837.0 L688.6,838.8 L689.3,838.5 L690.2,839.0 L691.2,838.9 L692.1,840.0 L692.6,840.1 L693.8,838.7 L695.2,835.2 L695.6,835.3 L696.8,836.8 L698.2,834.4 L700.3,833.4 L702.9,827.3 L705.7,825.0 L706.9,823.4 L710.4,812.9 L711.4,811.0 L712.8,809.3 L714.2,802.7 L717.5,794.0 L719.8,785.4 L724.8,764.5 L728.8,744.7 L729.9,734.4 L731.6,725.9 L736.8,689.7 L739.6,666.1 L743.1,631.4 L748.5,585.9 L749.7,579.7 L751.1,576.2 L751.8,575.5 L753.2,575.7 L753.9,577.1 L756.3,589.6 L758.8,610.3 L764.0,660.6 L769.9,706.2 L776.7,745.0 L781.6,766.8 L784.0,775.3 L786.3,781.2 L788.5,789.9 L790.3,792.7 L792.2,798.7 L795.7,804.1 L796.7,806.6 L798.1,808.1 L800.0,810.9 L801.4,810.4 L804.4,814.6 L805.4,814.0 L806.8,815.6 L807.7,815.2 L808.7,815.6 L809.6,815.3 L811.3,817.0 L812.0,816.6 L813.1,814.5 L814.3,815.2 L814.8,815.1 L816.9,813.0 L817.8,812.8 L819.0,813.1 L820.9,811.1 L822.3,807.9 L823.7,806.3 L828.2,795.4 L829.1,794.3 L832.4,784.5 L833.6,782.4 L842.3,750.3 L843.7,741.3 L846.5,728.4 L850.3,706.1 L853.3,685.4 L856.6,659.6 L863.7,595.8 L865.8,579.7 L868.1,566.8 L868.8,565.4 L869.8,564.9 L870.7,565.4 L871.4,567.3 L874.0,579.9 L877.5,606.2 L883.9,664.6 L887.2,685.9 L889.7,705.7 L895.6,737.6 L900.8,758.9 L902.4,764.7 L905.5,772.5 L908.5,784.3 L910.9,789.0 L911.8,789.2 L912.3,789.8 L913.9,792.7 L915.4,796.6 L918.4,800.8 L919.4,802.9 L919.6,803.2 L920.5,802.4 L920.8,802.5 L922.2,805.5 L923.6,804.6 L925.0,805.4 L925.9,806.8 L926.9,806.5 L927.8,807.3 L929.5,807.5 L930.6,806.4 L931.3,806.1 L932.7,804.5 L933.2,804.4 L934.4,805.5 L935.8,803.5 L937.0,804.3 L937.9,802.9 L939.1,802.0 L941.0,798.6 L942.1,798.1 L943.3,796.7 L946.4,789.7 L947.8,788.3 L949.2,783.2 L955.1,768.2 L957.0,759.7 L959.8,751.0 L964.0,732.1 L965.9,720.0 L968.0,710.2 L973.9,669.5 L979.7,618.8 L985.2,576.1 L985.9,572.0 L987.5,565.9 L988.9,562.8 L989.4,563.3 L991.3,568.5 L992.9,577.6 L996.0,600.5 L999.3,630.8 L1004.0,669.2 L1008.2,698.0 L1012.2,722.2 L1015.9,738.2 L1018.5,752.9 L1023.2,766.6 L1025.3,775.3 L1027.9,782.5 L1029.1,783.3 L1033.1,793.1 L1036.4,798.8 L1037.6,799.4 L1039.0,802.0 L1041.1,803.6 L1042.3,803.9 L1043.2,805.6 L1044.6,804.7 L1046.5,807.4 L1047.7,805.7 L1048.8,806.2 L1050.5,804.5 L1052.4,806.4 L1053.5,806.7 L1055.4,803.1 L1056.1,802.8 L1057.1,803.5 L1057.5,803.4 L1059.6,799.7 L1061.1,798.5 L1062.2,796.6 L1063.4,795.7 L1065.5,790.2 L1066.7,789.2 L1067.4,788.0 L1069.0,782.5 L1070.2,780.7 L1071.4,776.9 L1073.0,774.4 L1074.2,769.5 L1076.6,762.8 L1078.2,755.1 L1079.4,753.2 L1079.9,751.8 L1081.7,740.6 L1083.1,735.4 L1084.3,727.7 L1086.7,719.6 L1088.6,706.2 L1093.5,676.4 L1103.6,596.1 L1106.2,582.1 L1107.6,578.2 L1108.3,577.4 L1109.5,577.2 L1110.4,578.0 L1111.6,581.5 L1114.2,595.9 L1116.3,610.5 L1118.2,629.0 L1120.7,647.0 L1122.4,661.6 L1129.0,708.3 L1135.8,742.5 L1137.9,752.1 L1141.4,764.2 L1143.1,772.0 L1144.7,777.6 L1146.1,779.3 L1148.7,786.4 L1149.7,787.9 L1151.5,792.5 L1153.2,797.3 L1153.6,798.0 L1155.1,798.8 L1156.0,800.1" fill="none" stroke="#77AC30" stroke-width="2.6" stroke-linejoin="round" stroke-linecap="round" clip-path="url(#ce)"/>
<path d="M686.0,762.6 L690.2,780.1 L691.6,787.2 L694.0,794.7 L695.6,797.6 L698.2,804.9 L700.8,814.0 L702.0,815.1 L705.5,821.7 L706.7,822.3 L707.9,824.7 L710.0,826.6 L711.1,826.9 L713.7,830.6 L715.1,829.3 L715.8,829.5 L717.3,832.0 L717.7,832.4 L718.9,830.8 L720.1,830.1 L721.7,829.4 L722.7,829.7 L724.1,829.1 L725.2,827.1 L725.7,827.2 L726.4,828.2 L726.9,828.1 L727.8,825.9 L729.2,823.8 L731.1,822.3 L732.5,819.9 L733.5,819.5 L735.1,816.6 L738.6,807.9 L741.9,798.1 L742.6,796.6 L743.6,795.6 L744.0,794.3 L747.1,781.9 L748.3,778.7 L749.9,770.6 L752.0,763.6 L756.0,742.2 L763.5,692.2 L769.2,643.4 L772.5,609.5 L775.5,582.6 L777.2,572.0 L778.8,564.1 L779.5,562.1 L780.2,562.9 L781.6,568.3 L784.0,583.1 L786.8,606.3 L789.6,635.9 L796.4,692.6 L801.9,725.8 L806.1,748.6 L808.7,757.5 L810.1,765.3 L811.5,770.2 L813.4,778.9 L816.2,785.3 L817.6,790.3 L819.5,791.9 L821.6,797.0 L823.9,800.3 L825.6,804.0 L826.8,804.8 L828.9,809.5 L829.6,809.7 L830.8,808.8 L832.2,811.6 L833.3,811.9 L834.0,812.6 L834.5,812.3 L835.2,811.0 L835.9,810.5 L836.4,810.8 L837.3,812.7 L838.5,811.9 L840.2,812.0 L841.3,811.2 L843.2,812.6 L846.3,806.7 L847.0,806.1 L848.1,806.1 L849.3,803.5 L850.3,802.6 L851.4,798.8 L852.8,797.7 L856.1,790.7 L857.1,790.5 L857.5,789.7 L859.9,781.5 L861.3,779.4 L862.7,771.7 L864.6,768.2 L866.7,758.8 L867.9,755.5 L872.1,734.5 L873.5,728.9 L878.0,702.3 L884.1,656.3 L887.9,623.2 L889.5,605.9 L891.2,594.1 L893.3,574.9 L895.1,563.8 L897.3,558.5 L897.7,558.5 L898.2,559.1 L899.1,561.3 L901.7,575.8 L906.0,614.9 L913.2,677.3 L916.5,700.0 L919.8,719.1 L921.0,723.9 L922.4,732.4 L925.0,744.7 L926.4,749.3 L931.6,770.3 L936.0,782.3 L937.2,784.3 L939.1,789.9 L941.2,794.1 L942.4,795.0 L943.6,797.3 L944.5,798.2 L945.9,802.1 L947.3,802.0 L948.5,803.4 L949.4,803.4 L950.4,804.5 L951.3,804.3 L952.5,806.1 L953.4,805.7 L954.4,806.1 L955.5,805.9 L957.0,807.9 L959.3,806.8 L960.7,808.2 L962.8,805.5 L966.6,801.8 L968.0,799.7 L969.2,798.6 L970.1,796.6 L971.1,795.9 L973.6,789.7 L975.0,788.3 L975.5,787.5 L978.6,777.8 L979.3,776.6 L980.2,776.1 L980.5,775.5 L982.3,766.7 L989.4,742.1 L996.9,700.4 L999.0,683.3 L1001.4,668.9 L1011.5,584.6 L1013.8,573.1 L1014.8,570.4 L1015.7,569.0 L1017.3,570.2 L1018.1,571.9 L1019.5,578.2 L1022.0,593.7 L1029.1,654.6 L1033.1,681.8 L1035.4,700.3 L1044.1,744.8 L1047.0,754.4 L1048.1,759.9 L1052.1,771.3 L1054.9,781.8 L1056.8,783.9 L1058.2,789.1 L1061.3,796.4 L1061.8,796.9 L1062.7,796.7 L1063.9,799.3 L1065.1,799.5 L1066.0,801.1 L1066.9,801.8 L1068.1,803.9 L1070.0,804.5 L1071.9,806.6 L1073.0,807.0 L1073.7,807.9 L1075.6,806.9 L1078.7,809.3 L1080.1,807.3 L1081.7,806.0 L1083.1,805.3 L1084.6,805.8 L1085.5,805.2 L1088.6,798.2 L1089.0,797.7 L1090.0,797.9 L1091.1,794.6 L1092.8,792.5 L1095.8,785.1 L1096.3,784.5 L1097.0,784.2 L1098.4,781.3 L1100.8,774.7 L1104.1,763.6 L1105.0,761.9 L1109.0,743.2 L1111.8,732.5 L1114.6,717.2 L1117.9,695.8 L1120.0,685.2 L1131.6,602.5 L1133.9,589.0 L1134.8,586.1 L1137.2,585.2 L1138.4,586.2 L1139.3,588.4 L1140.7,594.2 L1145.7,629.0 L1152.5,683.0 L1156.0,704.6" fill="none" stroke="#4DBEEE" stroke-width="2.6" stroke-linejoin="round" stroke-linecap="round" clip-path="url(#ce)"/>
<path d="M686.0,620.7 L690.5,584.2 L691.6,579.6 L692.3,578.0 L692.8,578.0 L694.2,580.4 L697.0,596.5 L707.1,689.3 L713.7,735.6 L718.2,758.2 L719.8,764.0 L722.7,776.8 L730.4,802.1 L731.8,805.5 L733.2,807.4 L734.6,811.0 L736.1,813.2 L737.5,817.5 L738.9,818.2 L740.0,821.2 L740.3,821.4 L741.0,821.1 L741.9,822.4 L743.1,822.3 L744.0,823.2 L745.5,823.6 L746.6,822.8 L747.8,825.3 L748.5,826.0 L751.1,825.5 L752.0,824.1 L752.5,824.0 L754.1,827.2 L754.6,826.7 L756.0,821.6 L757.9,821.9 L758.8,820.4 L759.8,821.3 L760.3,821.2 L761.4,818.8 L762.8,817.1 L766.8,809.5 L768.2,807.5 L769.4,803.3 L771.1,800.1 L772.7,794.6 L774.4,790.8 L776.0,782.5 L779.1,772.0 L780.7,764.4 L783.5,753.9 L787.0,734.8 L792.2,701.1 L796.9,664.2 L805.1,587.2 L808.7,563.5 L809.4,561.8 L811.5,564.7 L813.1,572.8 L817.6,608.2 L821.8,650.6 L828.2,697.7 L833.6,731.4 L836.4,742.7 L839.0,755.4 L842.3,767.8 L844.9,775.5 L846.0,780.8 L848.1,785.6 L849.3,787.3 L852.4,796.6 L852.8,796.8 L853.8,795.8 L854.3,796.1 L855.7,799.3 L857.8,802.6 L860.1,807.6 L861.3,807.0 L862.2,808.0 L863.4,807.5 L866.0,810.8 L867.4,809.4 L868.8,809.4 L869.5,809.9 L870.0,809.9 L871.4,807.8 L872.4,807.6 L873.5,806.4 L874.5,806.6 L876.3,804.3 L877.5,804.4 L878.7,802.6 L879.4,802.6 L879.9,802.2 L881.3,799.1 L882.7,798.0 L885.5,791.3 L886.2,790.3 L887.2,789.9 L887.6,789.3 L888.8,785.1 L890.7,780.9 L892.1,775.0 L893.3,774.0 L896.6,761.6 L898.0,753.8 L899.8,747.7 L901.7,735.8 L904.1,725.8 L906.0,715.6 L908.1,702.4 L913.0,667.8 L921.9,589.2 L923.8,575.2 L924.5,571.2 L925.9,566.0 L927.1,563.5 L928.5,564.4 L929.5,565.9 L931.3,574.2 L933.9,594.0 L936.0,615.5 L942.4,668.8 L944.7,682.7 L946.4,696.9 L949.0,711.1 L950.6,717.6 L953.4,735.6 L956.2,746.3 L959.8,762.5 L961.2,765.4 L963.1,770.7 L965.2,779.0 L969.2,787.2 L970.6,791.8 L972.5,796.4 L972.9,797.0 L973.9,796.5 L974.3,796.6 L976.5,801.4 L976.9,801.7 L977.6,801.1 L978.1,801.6 L980.0,806.0 L980.5,806.3 L981.6,805.5 L983.5,805.5 L987.3,808.8 L987.7,808.9 L988.2,808.3 L989.4,804.9 L989.9,804.8 L990.8,806.1 L991.5,806.2 L992.0,805.7 L993.1,802.8 L994.8,802.4 L995.7,803.1 L997.1,800.7 L997.8,800.2 L999.0,800.0 L1001.8,794.0 L1002.3,793.4 L1003.2,792.9 L1003.7,792.1 L1005.6,786.6 L1006.1,786.2 L1007.0,786.3 L1007.5,785.7 L1008.9,780.7 L1010.3,777.9 L1013.6,764.9 L1014.8,762.7 L1016.4,754.5 L1019.5,744.5 L1023.9,722.9 L1027.5,702.9 L1032.9,666.2 L1035.7,644.5 L1040.8,599.9 L1043.7,582.4 L1046.3,572.6 L1046.7,572.4 L1048.8,574.1 L1049.8,577.2 L1050.7,582.1 L1055.4,615.9 L1060.8,662.1 L1063.9,684.4 L1065.5,693.3 L1068.6,714.2 L1072.3,733.2 L1073.5,737.8 L1075.6,749.8 L1077.7,756.1 L1079.2,762.2 L1080.6,765.5 L1082.7,775.8 L1083.1,776.8 L1084.3,777.1 L1085.3,778.7 L1087.1,786.4 L1088.6,788.3 L1090.7,793.3 L1091.1,793.8 L1092.1,793.6 L1092.5,794.2 L1094.9,799.6 L1095.8,800.6 L1096.8,800.8 L1097.7,802.2 L1098.4,802.6 L1100.1,805.6 L1100.5,805.7 L1101.9,804.5 L1102.4,804.7 L1103.6,806.0 L1104.8,808.6 L1105.2,808.5 L1105.9,807.8 L1108.3,807.8 L1109.2,806.6 L1110.6,808.8 L1112.1,807.7 L1114.9,802.8 L1115.8,802.0 L1116.8,802.0 L1117.9,800.0 L1119.1,799.4 L1120.5,796.3 L1121.7,794.8 L1123.3,790.5 L1125.0,789.0 L1126.6,783.7 L1129.2,777.3 L1130.1,776.2 L1132.3,767.3 L1136.3,755.6 L1142.4,727.1 L1148.0,693.6 L1152.2,662.8 L1156.0,631.2" fill="none" stroke="#A2142F" stroke-width="2.6" stroke-linejoin="round" stroke-linecap="round" clip-path="url(#ce)"/>
<path d="M1290.5,707.1 L1291.8,692.5 L1294.5,670.2 L1296.1,664.5 L1297.4,661.7 L1298.6,659.8 L1300.1,660.3 L1301.3,656.0 L1302.5,655.5 L1302.6,655.8 L1303.9,668.4 L1304.6,679.6 L1310.0,794.3 L1310.7,804.9 L1311.1,807.0 L1311.2,807.3 L1311.3,806.9 L1312.1,790.6 L1314.2,704.0 L1317.2,617.6 L1318.7,588.5 L1319.3,585.1 L1320.7,586.1 L1323.6,606.5 L1325.3,624.0 L1326.6,632.5 L1327.6,642.6 L1333.0,674.9 L1334.5,696.3 L1337.1,756.9 L1338.2,774.2 L1338.7,778.1 L1339.1,779.2 L1340.5,775.6 L1341.9,763.6 L1346.2,715.2 L1348.1,703.5 L1349.1,699.2 L1351.3,683.6 L1351.6,682.7 L1352.2,682.2 L1353.2,675.2 L1353.5,674.8 L1353.8,675.0 L1354.0,674.4 L1355.1,666.2 L1357.1,660.4 L1358.7,651.4 L1361.0,645.1 L1361.9,639.9 L1363.4,636.6 L1364.4,631.5 L1364.6,631.0 L1365.3,630.7 L1366.0,627.7 L1367.9,624.0 L1369.7,616.5 L1369.9,616.1 L1370.4,616.5 L1370.6,616.4 L1371.5,612.0 L1371.8,611.8 L1372.4,612.6 L1372.7,612.4 L1373.9,609.0 L1374.5,608.4 L1374.9,607.3 L1375.4,607.4 L1376.2,603.8 L1376.8,604.2 L1377.4,602.9 L1378.0,603.2 L1378.7,600.6 L1379.5,600.6 L1380.3,602.1 L1381.8,600.5 L1382.9,600.1 L1383.8,597.0 L1384.6,598.5 L1385.3,597.1 L1386.3,596.4 L1386.9,596.8 L1387.4,596.0 L1388.0,596.7 L1388.6,595.7 L1389.0,595.9 L1389.7,595.5 L1390.4,596.5 L1392.0,593.5 L1392.4,593.8 L1393.0,593.6 L1393.6,594.8 L1394.4,593.5 L1395.9,593.9 L1396.6,592.8 L1398.1,596.9 L1399.7,593.9 L1400.6,595.6 L1401.4,596.2 L1402.2,594.7 L1402.5,595.4 L1403.4,595.7 L1404.1,598.5 L1404.8,598.0 L1405.1,598.3 L1406.3,600.8 L1406.9,602.8 L1407.1,602.8 L1407.6,601.6 L1407.8,601.8 L1409.2,605.7 L1410.1,603.9 L1410.5,604.8 L1411.0,604.9 L1411.8,607.2 L1412.9,608.5 L1413.6,610.4 L1414.1,610.9 L1415.1,616.3 L1416.2,615.9 L1416.5,616.7 L1418.5,628.5 L1419.3,631.6 L1423.3,697.7 L1426.0,787.0 L1427.2,806.7 L1427.7,803.3 L1428.4,788.6 L1431.1,695.7 L1433.6,630.7 L1435.2,597.7 L1436.6,580.6 L1438.7,563.3 L1440.2,556.1 L1441.5,554.2 L1442.1,552.4 L1442.6,552.8 L1443.2,552.0 L1443.9,554.0 L1444.1,554.1 L1444.7,553.6 L1445.4,555.0 L1446.4,555.4 L1447.1,554.8 L1447.5,555.1 L1448.2,554.9 L1448.9,556.7 L1449.5,557.0 L1450.2,559.3 L1450.5,559.4 L1450.9,558.5 L1451.2,558.7 L1452.2,562.2 L1453.5,564.5 L1454.2,567.4 L1454.8,565.4 L1455.0,565.3 L1456.9,568.8 L1457.3,570.2 L1458.6,572.7 L1458.9,573.0 L1459.4,572.6 L1459.6,572.8 L1460.6,575.4 L1460.9,575.9 L1461.7,575.9 L1462.6,578.1 L1463.5,578.2 L1464.1,578.6 L1465.1,583.5 L1466.9,585.4 L1467.4,586.7 L1468.0,587.0 L1468.6,588.3 L1469.1,588.0 L1471.0,593.9 L1471.6,594.5 L1472.4,596.5 L1472.9,596.9 L1473.5,596.5 L1473.7,596.7 L1475.0,603.5 L1475.2,604.0 L1475.8,603.8 L1476.2,604.2 L1476.9,607.0 L1478.5,610.1 L1479.2,612.4 L1479.5,612.6 L1479.9,612.0 L1481.2,612.7 L1483.7,621.0 L1484.5,622.1 L1485.2,624.7 L1485.7,624.6 L1486.6,628.9 L1487.3,629.7 L1488.9,634.4 L1489.6,635.5 L1490.9,641.7 L1491.8,643.4 L1493.2,652.0 L1495.6,660.4 L1499.2,681.1 L1502.0,693.4 L1503.2,702.5 L1504.0,704.9 L1505.7,706.9 L1506.1,706.2 L1506.8,702.1 L1507.8,699.8 L1509.7,687.9 L1510.8,683.6 L1511.9,676.5 L1514.1,665.6 L1514.8,664.0 L1515.7,658.3 L1515.9,657.9 L1516.2,658.1 L1516.6,657.0 L1517.9,647.9 L1520.5,634.2 L1521.3,631.4 L1522.7,622.9 L1523.5,620.8 L1525.0,613.0 L1526.1,603.5 L1527.2,597.1 L1528.6,593.1 L1528.8,592.9 L1529.4,593.7 L1530.6,591.5 L1531.6,592.2 L1532.3,591.1 L1533.0,592.5 L1533.7,591.6 L1534.6,593.9 L1536.3,592.0 L1536.7,591.0 L1537.8,601.2 L1539.1,620.3 L1541.5,666.3 L1544.3,790.8 L1544.9,806.2 L1545.6,814.2 L1546.5,794.8 L1549.0,706.3 L1552.6,616.1 L1554.3,581.4 L1556.4,561.1 L1556.6,560.3 L1557.6,559.5 L1558.6,566.3 L1559.7,570.5 L1563.0,594.6 L1563.9,598.7 L1565.6,614.0 L1566.5,618.4 L1567.4,627.7 L1567.9,629.6 L1568.5,629.7 L1568.7,630.2 L1569.3,633.5 L1570.7,627.1 L1571.0,626.6 L1571.4,626.7 L1571.7,626.4 L1572.5,622.0 L1573.2,620.6 L1573.9,616.7 L1575.0,613.9 L1576.1,606.6 L1576.4,606.6 L1577.0,608.1 L1578.0,603.7 L1578.7,602.7 L1579.4,604.0 L1580.6,596.8 L1581.3,596.5 L1582.1,593.9 L1582.7,594.0 L1583.4,593.0 L1584.0,593.0 L1585.2,588.1 L1585.5,587.9 L1586.1,588.6 L1586.6,587.9 L1587.9,582.5 L1588.1,582.5 L1588.8,584.2 L1589.4,582.7 L1589.9,583.0 L1590.1,582.8 L1591.6,579.6 L1592.3,579.2 L1592.9,577.7 L1593.6,578.9 L1594.1,579.0 L1594.8,576.6 L1595.4,577.0 L1595.6,576.7 L1597.4,571.4 L1598.9,574.8 L1599.6,573.4 L1600.5,572.7 L1601.2,570.8 L1602.4,570.6 L1603.4,568.8 L1604.8,570.7 L1605.9,569.1 L1606.6,568.9 L1607.3,567.7 L1608.2,569.7 L1608.8,568.1 L1609.5,570.0 L1610.6,565.9 L1612.2,568.5 L1613.0,566.6 L1613.7,566.2 L1614.7,568.3 L1615.2,567.7 L1616.0,568.6 L1616.4,568.2 L1617.5,568.2 L1618.1,567.8 L1618.8,570.1 L1619.6,568.7 L1620.5,571.6 L1621.0,571.2 L1621.6,569.7 L1622.4,571.8 L1623.2,569.9 L1625.0,574.5 L1625.8,571.7 L1626.9,574.3 L1627.7,571.8 L1629.0,575.9 L1629.2,576.2 L1629.8,575.9 L1630.3,576.3 L1631.3,579.1 L1631.9,579.3 L1632.4,580.0 L1633.1,579.7 L1633.8,580.5 L1634.6,580.9 L1636.2,583.9 L1637.7,583.6 L1638.6,586.3 L1639.4,587.0 L1640.3,588.5 L1640.5,588.6 L1641.0,587.8 L1641.2,588.0 L1642.0,591.9 L1642.9,592.7 L1643.9,596.4 L1644.8,596.6 L1645.3,596.1 L1645.6,596.3 L1647.0,603.4 L1647.3,604.2 L1648.0,603.8 L1649.0,609.4 L1649.5,610.7 L1649.9,610.5 L1649.9,610.1 L1650.1,610.7 L1652.4,621.8 L1653.3,629.8 L1655.1,639.5 L1656.4,649.1 L1657.8,663.8 L1658.6,682.1 L1661.9,789.1 L1662.7,805.3 L1663.4,811.3 L1664.0,808.2 L1664.7,794.5 L1667.0,709.5 L1671.9,583.9 L1672.9,568.8 L1674.9,552.8 L1679.1,534.6 L1680.6,533.0 L1681.7,534.2 L1682.7,536.1 L1683.5,534.3 L1683.8,534.2 L1684.7,537.8 L1685.4,538.5 L1688.4,547.2 L1689.6,548.4 L1690.3,551.6 L1691.4,553.5 L1692.4,557.8 L1692.6,558.0 L1693.0,557.7 L1693.2,558.0 L1698.1,573.4 L1699.2,576.3 L1699.8,576.4 L1700.0,576.7 L1701.0,579.5 L1702.0,584.5 L1706.0,594.8 L1707.6,601.2 L1708.5,602.5 L1709.7,608.4 L1709.9,608.6 L1710.3,608.4 L1710.5,608.8 L1711.2,612.9 L1712.4,615.2 L1713.7,620.4 L1714.4,621.7 L1714.8,621.5 L1715.1,621.8 L1716.0,628.7 L1717.0,631.8 L1717.8,637.3 L1718.0,637.9 L1718.4,637.7 L1718.6,638.0 L1719.9,646.4 L1720.1,646.8 L1720.8,646.0 L1721.0,646.4 L1722.1,653.4 L1723.0,656.2 L1726.7,679.5 L1728.4,694.2 L1729.4,694.2 L1729.6,693.9 L1731.9,686.2 L1733.6,673.3 L1735.9,662.3 L1736.2,660.9 L1736.9,660.0 L1738.1,652.4 L1739.2,650.3 L1741.6,637.3 L1742.4,635.2 L1743.6,629.1 L1744.1,627.7 L1744.7,627.6 L1744.9,627.1 L1746.8,616.9 L1747.0,616.5 L1747.6,616.6 L1747.9,616.1 L1750.0,606.1 L1750.3,605.8 L1750.8,606.9 L1751.0,606.7 L1753.3,598.0 L1753.5,597.6 L1754.2,597.7 L1754.5,597.2 L1755.5,592.2 L1759.8,581.7 L1760.3,581.2" fill="none" stroke="#0072BD" stroke-width="2.6" stroke-linejoin="round" stroke-linecap="round" clip-path="url(#cf)"/>
<path d="M1290.5,626.2 L1291.3,622.8 L1291.6,622.6 L1292.1,623.2 L1293.4,620.5 L1294.1,620.8 L1294.8,618.1 L1295.8,620.2 L1296.4,619.2 L1297.5,618.3 L1298.1,619.0 L1298.6,619.0 L1299.1,620.3 L1300.7,631.5 L1302.2,655.3 L1302.6,666.7 L1304.4,805.4 L1305.1,829.0 L1305.8,819.9 L1306.4,804.7 L1308.9,705.4 L1312.1,633.8 L1313.3,616.9 L1315.3,600.2 L1316.8,592.5 L1317.3,591.6 L1318.1,591.0 L1318.8,587.7 L1319.7,591.2 L1321.0,592.9 L1323.0,602.0 L1323.9,603.4 L1326.0,617.5 L1327.4,621.4 L1328.3,629.3 L1329.0,630.7 L1330.0,636.5 L1330.2,637.0 L1330.7,636.1 L1330.9,636.2 L1331.5,639.4 L1332.4,637.1 L1333.4,636.4 L1334.0,636.5 L1335.2,633.4 L1336.0,633.9 L1336.3,633.8 L1337.6,629.4 L1338.9,626.9 L1339.5,627.1 L1340.2,624.5 L1340.9,624.8 L1341.8,622.9 L1342.6,623.3 L1343.2,620.8 L1344.2,619.4 L1345.0,615.4 L1346.2,617.3 L1346.4,617.3 L1347.6,612.8 L1348.4,612.7 L1349.0,614.3 L1349.3,614.3 L1349.8,613.6 L1350.8,609.9 L1351.0,609.8 L1351.5,610.2 L1352.0,609.3 L1352.6,609.1 L1354.0,607.7 L1354.7,608.1 L1355.8,605.8 L1356.3,606.0 L1356.9,605.6 L1357.6,606.7 L1358.6,602.8 L1360.0,604.7 L1360.9,602.9 L1361.7,604.4 L1362.6,600.6 L1363.1,601.0 L1363.6,601.0 L1364.5,602.6 L1365.9,600.5 L1366.4,600.3 L1367.2,602.2 L1368.0,599.6 L1368.6,599.4 L1369.2,600.8 L1369.9,598.5 L1371.0,600.9 L1371.7,600.8 L1372.4,599.9 L1373.2,602.3 L1374.1,601.0 L1374.9,602.8 L1375.8,601.4 L1377.5,604.9 L1378.6,602.4 L1380.0,605.3 L1380.7,605.8 L1381.2,605.0 L1381.4,605.0 L1382.7,608.9 L1383.5,607.0 L1383.9,607.1 L1384.6,609.8 L1384.8,610.2 L1385.5,610.3 L1386.1,611.8 L1386.7,612.0 L1387.3,614.6 L1388.0,615.0 L1388.7,617.3 L1389.0,617.2 L1389.7,616.1 L1390.7,620.0 L1391.2,619.7 L1391.9,618.3 L1392.2,618.3 L1392.8,617.6 L1393.9,620.3 L1395.0,617.2 L1395.6,619.5 L1398.1,623.8 L1399.5,630.8 L1399.8,631.8 L1400.4,632.3 L1402.5,643.0 L1404.5,648.6 L1405.5,651.9 L1406.3,656.5 L1407.8,660.6 L1409.0,669.9 L1409.6,670.0 L1409.8,670.6 L1411.9,679.4 L1412.8,686.4 L1419.1,723.4 L1420.4,732.9 L1422.3,750.7 L1423.7,768.4 L1425.6,799.4 L1425.9,802.3 L1426.9,806.0 L1427.7,793.0 L1430.3,695.4 L1433.8,597.9 L1434.8,581.5 L1437.9,559.9 L1438.1,559.7 L1438.8,559.9 L1440.4,557.7 L1441.5,560.8 L1443.0,561.9 L1443.5,565.3 L1444.6,568.1 L1445.5,573.5 L1445.8,573.7 L1446.2,572.5 L1446.5,572.7 L1447.8,577.4 L1448.4,581.1 L1448.6,581.3 L1449.1,580.4 L1449.9,584.3 L1450.6,583.8 L1450.8,584.2 L1452.2,590.2 L1454.2,595.3 L1455.0,600.1 L1456.2,603.0 L1456.9,603.8 L1457.5,607.2 L1459.2,612.3 L1459.9,616.6 L1460.5,617.5 L1461.2,620.5 L1461.9,620.5 L1462.1,621.1 L1463.7,631.1 L1464.0,631.4 L1464.4,630.8 L1464.7,631.3 L1465.9,637.3 L1466.9,640.7 L1469.0,657.3 L1469.8,661.3 L1471.8,676.7 L1472.7,680.5 L1476.2,716.3 L1477.2,720.3 L1477.8,721.1 L1478.9,719.6 L1479.5,719.7 L1479.7,719.4 L1482.9,706.8 L1483.7,704.8 L1486.6,689.1 L1487.2,688.3 L1487.9,685.8 L1488.6,685.1 L1489.7,678.9 L1490.3,678.5 L1491.3,676.9 L1492.3,670.3 L1494.2,666.9 L1495.0,662.1 L1495.1,661.8 L1495.1,662.1 L1495.5,662.2 L1496.3,660.5 L1497.3,652.4 L1498.0,651.1 L1499.4,645.5 L1502.1,632.8 L1503.1,630.8 L1504.0,625.7 L1504.7,625.0 L1505.1,622.6 L1505.9,620.9 L1506.7,617.0 L1507.8,614.3 L1508.5,613.4 L1509.3,608.6 L1510.0,607.6 L1511.0,604.8 L1512.8,596.6 L1513.7,597.8 L1514.8,593.0 L1515.1,592.7 L1515.8,592.6 L1516.4,591.6 L1517.4,586.4 L1517.8,586.1 L1518.8,586.9 L1519.2,586.6 L1520.1,583.5 L1521.8,581.4 L1522.8,578.9 L1523.9,575.1 L1524.2,575.1 L1525.3,576.2 L1526.7,570.7 L1527.3,570.3 L1528.0,569.1 L1528.9,569.3 L1529.6,567.3 L1531.2,568.7 L1532.3,566.6 L1533.2,567.3 L1534.0,567.4 L1535.0,570.6 L1536.0,572.3 L1536.9,577.4 L1539.1,619.2 L1540.6,659.2 L1542.7,776.9 L1543.3,799.7 L1543.7,807.2 L1544.3,802.0 L1544.9,788.4 L1547.4,694.8 L1551.0,595.4 L1552.4,575.3 L1554.9,560.5 L1555.9,558.0 L1557.5,557.1 L1558.9,556.9 L1561.3,560.0 L1562.2,559.6 L1562.9,561.8 L1563.7,559.9 L1564.6,561.5 L1565.9,558.3 L1567.1,563.3 L1567.9,559.8 L1568.7,559.4 L1569.7,560.7 L1570.9,558.1 L1572.0,560.6 L1573.6,561.4 L1574.4,559.7 L1575.0,559.6 L1576.1,558.1 L1577.4,560.7 L1577.7,560.9 L1578.3,560.6 L1578.8,561.7 L1579.4,559.5 L1579.8,559.5 L1580.5,560.2 L1581.5,558.5 L1582.6,559.8 L1583.4,559.2 L1584.2,561.3 L1584.8,561.7 L1585.9,559.7 L1586.7,561.6 L1587.5,560.7 L1588.2,561.8 L1589.1,561.4 L1589.8,563.2 L1590.6,562.6 L1591.3,565.1 L1592.3,562.1 L1593.6,564.9 L1594.6,565.2 L1596.5,567.1 L1597.3,565.9 L1597.7,565.8 L1598.8,569.9 L1599.9,571.6 L1600.8,570.6 L1601.5,571.5 L1602.3,571.2 L1603.3,574.4 L1604.6,573.3 L1605.4,574.8 L1606.0,574.0 L1607.6,580.4 L1608.0,580.6 L1608.6,579.9 L1609.8,583.3 L1611.4,583.7 L1611.5,583.4 L1611.7,583.5 L1612.5,587.8 L1613.1,587.9 L1613.7,589.0 L1614.4,591.7 L1615.4,592.3 L1616.2,595.2 L1616.8,595.1 L1617.0,595.5 L1618.2,601.2 L1618.4,601.3 L1618.9,600.4 L1619.1,600.7 L1620.4,605.1 L1621.0,608.3 L1622.3,610.1 L1622.9,610.0 L1623.1,610.2 L1623.9,614.7 L1624.2,615.2 L1624.5,615.0 L1624.8,615.6 L1625.5,619.9 L1629.2,629.9 L1630.4,637.0 L1632.3,645.5 L1634.6,652.8 L1635.7,657.7 L1636.9,667.0 L1639.0,678.3 L1641.3,693.4 L1642.9,711.1 L1644.8,789.8 L1645.7,806.1 L1646.3,802.0 L1646.8,791.8 L1649.4,723.5 L1651.0,706.4 L1653.1,688.5 L1656.5,668.9 L1656.8,667.9 L1657.4,668.2 L1657.6,667.9 L1658.6,663.9 L1658.8,663.7 L1659.3,663.9 L1660.0,670.7 L1661.2,692.0 L1662.7,734.9 L1664.6,815.1 L1665.0,824.6 L1665.5,826.6 L1666.0,821.6 L1666.5,808.1 L1668.6,718.7 L1672.4,588.0 L1673.4,569.4 L1674.1,562.2 L1675.4,552.7 L1677.1,546.2 L1677.4,546.1 L1678.1,547.7 L1678.9,548.5 L1680.1,553.0 L1680.8,554.0 L1681.6,560.2 L1682.9,565.4 L1684.0,571.7 L1685.4,581.9 L1686.5,586.3 L1688.7,599.3 L1689.6,602.6 L1693.7,625.4 L1694.5,635.1 L1699.0,670.5 L1700.2,685.8 L1701.2,702.9 L1704.2,768.7 L1704.7,778.2 L1705.2,780.8 L1705.9,780.6 L1706.2,779.6 L1707.1,769.8 L1711.9,687.2 L1712.5,685.1 L1713.3,678.2 L1716.7,658.1 L1717.7,654.5 L1719.0,651.4 L1720.1,646.7 L1721.2,640.6 L1722.0,639.2 L1723.2,634.8 L1723.9,630.4 L1724.7,628.8 L1725.7,622.0 L1726.0,621.2 L1726.7,620.9 L1728.9,612.8 L1729.8,611.6 L1730.4,608.6 L1731.8,605.2 L1732.5,601.7 L1735.2,594.5 L1736.0,590.5 L1736.7,590.4 L1737.9,586.0 L1738.1,585.7 L1738.7,586.0 L1739.6,582.7 L1740.5,582.0 L1741.4,579.4 L1742.1,578.3 L1743.2,573.6 L1743.4,573.5 L1744.0,574.1 L1744.7,572.1 L1745.6,571.1 L1746.4,572.0 L1747.1,569.4 L1747.7,568.6 L1748.4,568.7 L1749.1,570.5 L1749.7,569.6 L1750.2,569.4 L1752.7,562.0 L1753.0,562.0 L1753.7,563.9 L1754.4,560.7 L1754.7,560.6 L1755.1,561.6 L1756.1,561.6 L1757.1,558.3 L1758.3,561.8 L1758.8,561.0 L1759.4,562.2 L1760.3,560.2" fill="none" stroke="#D95319" stroke-width="2.6" stroke-linejoin="round" stroke-linecap="round" clip-path="url(#cf)"/>
<path d="M1290.5,628.0 L1291.0,627.5 L1291.7,624.3 L1292.7,625.7 L1293.1,625.7 L1293.6,624.8 L1294.3,625.9 L1295.3,623.8 L1295.9,624.4 L1296.4,625.8 L1297.1,626.3 L1297.7,628.0 L1298.4,627.6 L1301.8,650.1 L1302.9,679.9 L1304.7,788.3 L1305.5,812.7 L1306.2,806.0 L1307.1,788.6 L1309.5,712.4 L1313.2,616.9 L1314.0,604.1 L1316.0,586.0 L1316.3,583.9 L1317.0,583.2 L1317.7,580.4 L1318.3,581.6 L1319.2,582.1 L1320.6,586.4 L1321.4,587.2 L1322.7,594.4 L1323.5,596.3 L1324.3,600.6 L1326.4,607.0 L1326.7,607.3 L1327.4,607.2 L1327.8,609.6 L1328.6,610.4 L1329.1,612.5 L1329.7,610.8 L1330.0,610.8 L1330.6,613.0 L1331.8,615.5 L1332.7,614.4 L1333.5,616.1 L1334.3,615.5 L1335.1,616.1 L1336.1,620.4 L1336.8,619.7 L1337.4,621.5 L1338.4,618.5 L1339.5,620.2 L1340.1,620.3 L1340.7,619.5 L1341.2,620.0 L1341.8,619.6 L1342.5,621.2 L1343.2,620.9 L1343.8,621.1 L1344.5,619.7 L1345.9,623.0 L1346.8,621.5 L1347.6,621.5 L1348.3,622.6 L1348.9,622.3 L1349.5,622.5 L1350.4,620.7 L1351.2,623.0 L1351.9,621.0 L1352.4,620.9 L1354.5,624.1 L1355.4,622.1 L1355.7,622.1 L1356.3,623.1 L1356.9,622.4 L1358.2,627.0 L1358.9,625.1 L1359.6,625.2 L1360.1,626.2 L1360.9,626.4 L1362.1,630.1 L1363.4,628.2 L1364.3,631.5 L1364.7,631.6 L1365.4,632.6 L1366.1,632.3 L1367.2,632.5 L1369.0,637.8 L1369.4,637.8 L1369.9,636.2 L1370.2,636.2 L1372.5,642.2 L1374.5,645.9 L1376.9,654.4 L1377.3,654.9 L1377.9,654.9 L1378.7,656.7 L1380.7,664.6 L1380.9,664.9 L1380.9,664.6 L1381.3,664.5 L1381.6,664.8 L1384.3,670.9 L1385.3,674.4 L1386.0,674.8 L1387.2,677.5 L1388.2,678.9 L1389.6,687.6 L1389.9,687.9 L1390.4,687.3 L1390.7,687.5 L1391.5,693.5 L1392.2,695.7 L1396.9,739.4 L1397.5,742.5 L1398.0,741.2 L1398.7,740.4 L1399.1,740.3 L1399.4,739.7 L1400.6,731.8 L1401.4,722.8 L1403.0,714.1 L1403.8,707.9 L1405.0,701.5 L1407.1,694.4 L1408.2,686.6 L1408.4,686.1 L1408.9,686.7 L1409.1,686.0 L1410.1,678.0 L1412.3,667.2 L1413.7,657.4 L1415.3,651.4 L1416.2,650.4 L1416.5,650.7 L1418.1,661.2 L1419.7,678.4 L1421.0,696.7 L1423.9,792.8 L1424.4,802.2 L1424.9,805.6 L1425.6,799.1 L1426.3,779.2 L1431.1,593.6 L1432.3,565.7 L1432.6,562.7 L1433.2,561.0 L1433.4,560.7 L1433.7,560.9 L1434.6,565.2 L1435.4,566.1 L1436.3,569.8 L1437.3,571.6 L1440.6,584.3 L1441.5,591.2 L1442.8,596.1 L1443.9,603.9 L1447.2,622.7 L1449.5,632.4 L1451.5,648.3 L1452.3,651.0 L1454.2,666.0 L1456.3,679.3 L1458.9,701.2 L1459.3,702.7 L1460.3,704.8 L1461.3,705.8 L1462.6,703.1 L1463.3,700.4 L1464.4,699.4 L1466.4,694.4 L1467.0,690.3 L1467.3,690.1 L1467.8,690.7 L1468.9,688.3 L1469.5,685.7 L1470.8,683.9 L1472.7,674.1 L1472.9,673.5 L1473.4,673.7 L1473.6,673.3 L1474.8,667.5 L1475.5,665.7 L1476.5,660.9 L1478.2,658.0 L1479.0,654.3 L1480.2,651.9 L1480.9,648.2 L1481.1,647.8 L1481.6,648.0 L1482.9,641.3 L1483.2,640.7 L1484.2,640.4 L1485.3,636.3 L1485.7,635.8 L1485.7,636.1 L1486.1,635.9 L1488.1,629.0 L1489.0,627.6 L1489.6,624.7 L1489.8,624.5 L1491.2,625.8 L1491.5,625.6 L1492.4,620.2 L1492.7,619.5 L1493.5,621.0 L1494.3,616.0 L1494.9,616.2 L1495.6,614.1 L1496.7,613.5 L1497.6,610.4 L1498.3,611.9 L1498.5,611.8 L1499.4,607.5 L1500.3,608.6 L1500.5,608.5 L1501.7,605.5 L1503.6,603.8 L1504.8,601.6 L1505.4,601.6 L1506.0,600.4 L1507.5,599.5 L1508.4,597.1 L1508.8,597.1 L1509.7,596.2 L1510.5,593.6 L1511.4,592.5 L1512.2,593.9 L1513.4,593.7 L1514.0,592.2 L1514.6,591.7 L1515.4,588.5 L1516.0,588.2 L1516.5,587.2 L1517.3,588.1 L1518.1,586.4 L1519.8,588.1 L1520.2,589.2 L1520.9,587.4 L1522.3,588.3 L1523.2,586.8 L1524.0,588.1 L1524.6,587.6 L1525.4,588.0 L1525.9,587.5 L1526.7,584.9 L1527.6,587.6 L1527.9,587.8 L1528.3,587.6 L1528.9,588.6 L1529.5,587.6 L1530.1,588.4 L1530.6,587.8 L1532.1,592.6 L1532.8,593.4 L1533.5,597.3 L1534.2,598.1 L1535.4,602.2 L1536.4,614.8 L1539.1,670.4 L1541.4,784.7 L1542.0,802.5 L1542.4,807.2 L1543.0,800.5 L1543.7,784.6 L1546.1,698.1 L1550.5,575.0 L1551.1,565.8 L1553.1,548.4 L1554.1,543.6 L1554.3,543.4 L1554.8,544.8 L1555.7,543.5 L1556.4,544.6 L1558.1,549.2 L1559.2,549.8 L1559.8,551.7 L1560.4,552.2 L1561.5,557.2 L1561.7,557.7 L1562.3,557.9 L1563.0,561.3 L1563.8,562.0 L1564.6,564.4 L1565.0,564.4 L1565.3,563.4 L1565.7,563.4 L1566.6,567.1 L1567.4,567.2 L1569.1,570.3 L1569.9,573.4 L1570.1,573.6 L1570.7,572.9 L1571.6,575.6 L1572.4,574.5 L1573.1,576.5 L1573.8,576.1 L1574.3,576.5 L1575.7,580.8 L1576.6,581.0 L1577.4,583.6 L1578.1,583.6 L1578.8,586.4 L1579.7,587.5 L1580.4,590.2 L1581.2,589.0 L1581.4,589.2 L1582.2,591.5 L1583.2,596.8 L1584.5,598.1 L1585.2,597.2 L1585.4,597.3 L1588.5,608.1 L1588.7,608.3 L1589.4,607.5 L1590.5,608.3 L1591.5,612.1 L1592.2,616.4 L1592.5,616.8 L1592.9,616.4 L1593.6,618.5 L1594.2,618.9 L1594.9,620.9 L1595.8,621.8 L1597.2,628.1 L1597.5,628.4 L1598.1,626.5 L1598.3,626.6 L1600.1,635.0 L1600.5,635.8 L1600.9,635.9 L1601.2,636.4 L1602.1,641.8 L1603.3,646.3 L1603.7,646.9 L1604.3,649.1 L1604.9,648.5 L1605.1,648.9 L1607.4,659.4 L1608.2,660.2 L1608.8,663.4 L1609.0,663.5 L1609.4,663.0 L1609.6,663.5 L1611.3,671.3 L1612.1,677.1 L1614.1,685.7 L1618.3,737.0 L1619.0,743.8 L1620.2,750.6 L1621.0,747.1 L1621.6,746.2 L1621.9,743.9 L1627.3,686.9 L1628.4,682.5 L1630.0,670.0 L1631.3,665.1 L1632.7,655.9 L1633.8,652.7 L1637.4,631.6 L1638.2,630.5 L1639.4,624.6 L1640.1,623.2 L1641.1,616.8 L1641.9,615.3 L1643.6,607.6 L1643.9,606.9 L1644.6,606.5 L1645.4,603.8 L1646.0,603.6 L1646.8,602.2 L1648.3,597.8 L1648.7,597.6 L1650.0,599.3 L1651.1,596.4 L1652.2,599.8 L1653.9,601.9 L1655.4,611.7 L1656.4,614.9 L1656.8,618.9 L1658.5,654.9 L1659.6,687.8 L1661.8,791.0 L1662.6,808.4 L1663.3,798.1 L1664.0,778.4 L1665.9,701.5 L1669.5,575.9 L1670.5,553.8 L1671.0,547.0 L1671.6,543.7 L1672.1,543.5 L1672.8,546.4 L1673.4,547.1 L1674.4,554.2 L1675.3,555.5 L1675.6,556.8 L1677.6,569.7 L1679.5,578.7 L1680.4,586.2 L1681.7,592.6 L1683.7,599.5 L1684.8,602.0 L1685.6,605.9 L1686.3,607.5 L1687.0,607.5 L1688.3,612.8 L1688.5,613.2 L1689.0,612.9 L1689.2,613.0 L1690.7,615.4 L1691.5,618.1 L1692.5,619.2 L1694.9,629.0 L1695.6,629.8 L1697.8,635.6 L1698.2,635.3 L1698.9,633.0 L1699.6,632.4 L1700.3,628.8 L1700.5,628.5 L1700.9,628.8 L1701.2,628.1 L1703.1,621.3 L1703.9,616.0 L1704.2,615.5 L1704.6,616.2 L1704.9,615.9 L1706.2,609.4 L1707.0,609.0 L1707.6,610.2 L1708.4,606.3 L1709.0,606.0 L1710.1,604.7 L1710.9,602.5 L1711.8,604.6 L1712.7,600.5 L1713.4,599.4 L1714.1,600.7 L1715.7,595.5 L1716.0,595.6 L1716.8,596.8 L1717.9,594.1 L1719.1,593.6 L1720.4,590.9 L1721.1,592.1 L1721.8,591.6 L1723.3,587.3 L1724.2,588.3 L1725.3,586.7 L1726.1,588.2 L1726.9,584.8 L1728.2,582.0 L1729.1,584.0 L1729.9,583.4 L1730.6,584.6 L1731.5,584.6 L1732.1,583.9 L1732.8,584.1 L1733.6,582.6 L1734.5,584.2 L1735.6,580.7 L1736.6,581.1 L1737.3,582.7 L1738.1,580.6 L1739.2,582.2 L1740.1,579.5 L1741.2,581.3 L1742.0,580.1 L1743.2,576.9 L1743.7,578.6 L1744.3,579.0 L1745.1,581.7 L1746.1,579.7 L1747.4,582.2 L1748.2,581.0 L1748.9,583.3 L1749.5,582.7 L1750.1,583.5 L1750.7,582.9 L1751.1,583.6 L1751.8,582.4 L1752.5,583.0 L1753.0,582.6 L1755.4,586.1 L1756.3,584.0 L1757.0,585.6 L1757.6,586.0 L1758.4,589.2 L1759.2,588.3 L1759.6,588.6 L1760.3,591.5" fill="none" stroke="#EDB120" stroke-width="2.6" stroke-linejoin="round" stroke-linecap="round" clip-path="url(#cf)"/>
<path d="M1290.5,628.7 L1291.2,627.4 L1292.6,630.3 L1293.2,629.8 L1293.8,629.7 L1294.7,631.6 L1295.6,631.7 L1296.1,633.6 L1296.8,633.5 L1298.4,637.6 L1298.5,637.8 L1299.0,637.4 L1300.0,640.0 L1303.1,670.3 L1303.8,686.9 L1305.7,793.4 L1306.5,815.3 L1306.9,813.2 L1307.5,800.9 L1310.1,697.4 L1312.7,624.5 L1314.5,593.2 L1315.8,578.3 L1316.6,574.5 L1317.7,575.4 L1320.0,584.4 L1320.8,585.4 L1322.0,591.4 L1322.7,593.0 L1323.3,596.7 L1325.4,603.9 L1326.7,607.2 L1327.4,607.4 L1328.2,609.7 L1328.9,609.8 L1329.4,610.4 L1330.1,613.0 L1330.8,611.6 L1331.7,614.4 L1332.5,612.9 L1332.9,612.9 L1334.3,615.9 L1334.9,615.6 L1335.5,616.4 L1336.0,616.1 L1336.2,616.3 L1337.2,617.9 L1338.2,620.7 L1338.5,620.5 L1339.2,619.0 L1340.2,619.9 L1341.0,618.4 L1341.7,618.2 L1342.9,620.3 L1343.5,620.2 L1344.3,621.8 L1345.0,622.0 L1345.7,621.7 L1346.3,622.0 L1347.2,620.2 L1348.6,624.2 L1349.3,623.8 L1350.3,624.0 L1351.0,623.1 L1352.5,623.6 L1353.6,628.2 L1354.3,626.2 L1355.0,627.3 L1355.7,626.1 L1356.3,627.1 L1356.6,626.7 L1357.0,626.8 L1358.2,630.5 L1358.9,630.0 L1359.6,631.9 L1360.4,631.1 L1361.1,630.9 L1362.6,637.5 L1363.6,640.2 L1364.5,640.8 L1365.4,644.3 L1365.9,643.7 L1367.1,648.0 L1367.3,648.4 L1367.8,648.3 L1368.0,648.6 L1369.5,653.5 L1369.9,653.7 L1370.5,653.2 L1370.7,653.5 L1372.4,657.6 L1373.4,661.5 L1373.9,661.3 L1374.1,661.6 L1376.0,670.3 L1377.3,673.2 L1377.8,673.3 L1378.0,673.8 L1378.7,678.8 L1379.4,680.3 L1381.6,690.7 L1383.8,711.7 L1384.7,724.6 L1385.4,729.6 L1388.2,762.9 L1389.9,774.0 L1390.2,775.4 L1390.9,776.5 L1391.5,776.4 L1392.4,774.4 L1393.0,771.5 L1394.8,758.7 L1396.1,742.0 L1400.9,705.0 L1404.4,680.8 L1407.8,663.7 L1408.5,662.0 L1411.1,646.4 L1411.5,645.3 L1412.2,644.6 L1414.4,636.0 L1414.8,635.5 L1415.2,635.6 L1416.5,644.0 L1417.3,652.1 L1419.5,684.0 L1420.9,712.9 L1423.3,788.6 L1423.9,800.7 L1424.4,804.3 L1425.2,793.8 L1426.0,772.2 L1431.1,590.2 L1431.9,571.1 L1432.6,563.8 L1434.0,565.7 L1435.8,572.1 L1436.5,576.4 L1437.2,577.0 L1437.8,578.5 L1438.6,585.8 L1439.5,588.9 L1440.6,596.9 L1442.0,601.3 L1443.7,614.5 L1444.0,615.9 L1444.2,615.4 L1444.6,615.9 L1445.5,623.7 L1447.9,635.6 L1449.2,647.3 L1452.1,661.9 L1456.7,676.8 L1457.5,674.0 L1458.3,675.5 L1459.2,674.1 L1460.1,674.7 L1462.9,667.5 L1463.7,668.1 L1464.9,662.1 L1465.1,662.0 L1465.6,662.7 L1466.7,657.6 L1467.7,656.3 L1468.2,656.5 L1468.4,656.2 L1470.3,649.1 L1471.1,648.2 L1471.8,646.6 L1472.4,646.2 L1473.1,642.8 L1474.4,641.4 L1475.2,636.7 L1476.3,633.3 L1479.2,628.8 L1480.9,623.3 L1481.1,623.2 L1481.7,624.5 L1482.5,620.8 L1483.2,620.4 L1484.2,619.1 L1485.1,615.1 L1485.3,614.8 L1485.7,615.1 L1486.3,614.5 L1487.0,612.9 L1487.7,612.3 L1488.5,613.0 L1489.3,612.1 L1489.8,612.8 L1490.6,608.7 L1490.9,608.5 L1491.6,609.1 L1491.8,609.0 L1492.5,607.0 L1494.2,604.9 L1494.7,604.6 L1495.3,602.8 L1496.0,603.3 L1497.0,603.1 L1497.6,603.6 L1498.4,600.1 L1498.6,599.8 L1499.2,600.0 L1499.9,598.8 L1501.3,598.7 L1502.3,595.8 L1503.2,598.6 L1503.9,596.3 L1504.1,596.1 L1504.7,596.9 L1505.4,595.1 L1506.4,594.9 L1507.4,596.4 L1508.5,593.7 L1509.5,594.4 L1510.2,596.3 L1511.2,594.5 L1511.7,594.4 L1512.1,593.6 L1513.7,595.0 L1514.6,592.2 L1515.2,593.0 L1516.5,593.2 L1517.2,592.2 L1518.0,592.1 L1519.1,594.0 L1519.8,592.8 L1520.3,594.5 L1521.4,595.1 L1522.5,596.6 L1523.3,595.9 L1524.0,597.3 L1524.6,596.5 L1525.2,597.0 L1525.9,595.9 L1527.3,598.5 L1528.5,598.2 L1529.6,600.4 L1530.3,600.2 L1531.0,603.3 L1531.9,603.2 L1532.6,603.8 L1534.0,609.1 L1535.3,611.8 L1535.9,615.5 L1537.5,634.3 L1539.7,671.8 L1542.2,791.6 L1542.8,811.3 L1543.3,817.6 L1544.0,810.2 L1544.7,790.7 L1547.0,692.6 L1550.3,582.7 L1551.2,565.3 L1552.6,549.0 L1553.1,545.3 L1554.4,540.5 L1554.6,540.4 L1555.2,541.0 L1556.4,543.7 L1557.0,542.8 L1557.9,544.2 L1558.9,544.1 L1560.3,548.7 L1561.3,551.0 L1562.0,554.0 L1563.2,555.2 L1564.0,560.1 L1565.2,560.4 L1565.5,560.8 L1567.0,567.9 L1567.7,567.7 L1568.6,569.3 L1569.2,569.6 L1569.9,571.9 L1570.6,572.0 L1570.9,572.3 L1571.6,574.7 L1572.3,574.7 L1572.6,575.1 L1574.5,580.0 L1575.8,581.3 L1576.6,583.0 L1577.4,586.1 L1577.8,586.1 L1578.4,585.0 L1578.6,585.2 L1579.9,590.9 L1581.1,593.5 L1581.5,592.9 L1581.8,593.1 L1582.5,596.1 L1583.4,598.1 L1584.2,602.4 L1584.9,603.0 L1586.6,609.2 L1587.1,609.6 L1588.5,612.5 L1589.5,617.4 L1591.2,622.1 L1591.8,625.2 L1592.3,626.7 L1593.3,632.7 L1594.5,634.3 L1595.6,641.8 L1596.6,644.1 L1598.5,652.4 L1599.4,658.6 L1600.6,662.3 L1604.2,689.5 L1605.1,694.2 L1610.0,738.9 L1611.5,757.6 L1613.1,768.8 L1613.7,770.5 L1614.5,767.4 L1615.0,767.3 L1615.2,766.1 L1616.0,756.4 L1618.2,735.5 L1620.8,702.9 L1622.2,691.9 L1625.3,674.7 L1628.1,653.2 L1630.3,643.6 L1633.5,627.0 L1633.7,626.4 L1634.2,626.1 L1634.7,621.8 L1636.9,613.8 L1637.2,613.0 L1637.8,613.8 L1638.0,613.7 L1640.1,607.2 L1641.2,602.3 L1642.6,599.8 L1643.4,597.3 L1644.1,598.1 L1644.4,597.8 L1645.1,593.4 L1645.3,593.1 L1645.8,593.3 L1646.3,592.8 L1648.6,585.5 L1649.5,586.7 L1650.0,588.2 L1650.7,587.5 L1651.2,588.1 L1652.5,593.1 L1653.5,595.6 L1654.4,596.6 L1655.9,604.3 L1656.6,613.1 L1658.4,650.0 L1659.4,681.3 L1661.4,801.5 L1662.1,819.6 L1662.8,812.1 L1663.4,797.6 L1666.0,696.9 L1669.7,570.9 L1670.6,553.7 L1671.5,546.1 L1672.4,546.6 L1673.2,545.9 L1673.4,546.2 L1674.2,552.1 L1675.0,554.8 L1675.7,556.0 L1676.6,560.2 L1677.3,562.2 L1680.1,578.5 L1683.7,590.1 L1684.9,591.7 L1686.2,596.8 L1687.6,598.5 L1689.0,604.1 L1690.1,605.9 L1690.9,605.3 L1691.1,605.4 L1691.8,607.3 L1692.6,607.9 L1693.4,609.3 L1693.9,611.0 L1694.4,609.7 L1694.9,609.9 L1695.0,609.7 L1695.6,607.4 L1696.2,608.2 L1696.6,607.9 L1697.2,608.2 L1697.9,607.5 L1698.8,608.4 L1700.0,604.7 L1700.6,605.8 L1701.3,604.7 L1702.2,606.1 L1703.5,601.4 L1704.2,601.9 L1704.9,601.3 L1705.6,602.2 L1706.4,600.5 L1707.0,597.8 L1707.7,598.0 L1708.7,595.4 L1709.4,595.4 L1710.3,592.4 L1711.2,591.4 L1711.9,593.0 L1712.6,590.8 L1713.2,591.7 L1713.8,591.7 L1714.8,587.9 L1715.7,587.7 L1716.4,585.9 L1717.4,584.6 L1718.5,585.8 L1719.5,584.0 L1720.4,586.4 L1721.3,586.3 L1722.6,581.7 L1723.8,584.3 L1724.6,583.7 L1725.4,582.0 L1726.2,582.8 L1727.1,582.8 L1727.6,583.7 L1729.3,583.7 L1729.9,583.1 L1730.5,584.0 L1731.3,584.4 L1732.3,581.6 L1733.4,584.0 L1734.2,584.5 L1734.8,585.8 L1735.8,582.6 L1736.3,585.1 L1737.2,584.6 L1738.0,584.8 L1739.0,584.2 L1739.9,586.5 L1740.7,587.3 L1741.9,584.0 L1742.6,585.8 L1743.4,585.7 L1744.9,588.9 L1745.4,588.6 L1746.0,589.2 L1746.6,589.1 L1747.6,590.8 L1749.7,590.5 L1751.4,596.7 L1751.6,596.9 L1752.2,596.5 L1753.0,598.8 L1753.7,597.3 L1754.1,597.1 L1754.9,599.6 L1755.1,599.8 L1755.7,599.4 L1756.5,602.6 L1756.9,602.9 L1757.5,602.5 L1758.5,606.8 L1759.9,607.8 L1760.3,608.5" fill="none" stroke="#7E2F8E" stroke-width="2.6" stroke-linejoin="round" stroke-linecap="round" clip-path="url(#cf)"/>
<path d="M1290.5,629.0 L1291.0,628.8 L1292.1,630.0 L1292.7,631.6 L1293.4,632.1 L1294.1,634.2 L1294.5,634.7 L1295.1,634.4 L1295.7,636.1 L1296.5,635.1 L1297.4,640.2 L1298.5,639.8 L1300.0,643.3 L1301.4,649.7 L1302.2,651.1 L1302.6,653.9 L1303.7,672.3 L1304.7,700.4 L1306.4,805.4 L1306.9,822.2 L1307.5,817.9 L1308.1,804.7 L1310.7,700.8 L1313.8,617.9 L1315.0,597.1 L1317.9,576.1 L1318.3,575.8 L1318.8,576.4 L1319.3,576.1 L1319.9,577.2 L1320.6,575.7 L1321.3,575.8 L1322.3,579.9 L1322.6,580.1 L1323.0,579.2 L1323.3,579.3 L1325.1,584.1 L1325.4,584.2 L1325.9,583.8 L1326.1,583.9 L1327.8,589.4 L1328.7,587.3 L1329.5,589.7 L1330.1,588.7 L1330.3,588.7 L1331.0,591.1 L1331.7,591.6 L1332.3,593.2 L1332.9,593.6 L1333.4,594.6 L1334.1,594.9 L1334.8,596.8 L1335.0,596.9 L1335.8,596.4 L1336.5,596.7 L1337.5,599.6 L1338.1,599.1 L1338.3,599.2 L1339.4,604.4 L1339.8,604.8 L1340.7,603.8 L1341.5,605.5 L1342.3,604.8 L1342.9,606.8 L1343.4,606.8 L1343.6,607.2 L1344.3,611.0 L1345.2,610.0 L1346.1,612.5 L1346.9,612.8 L1347.6,614.8 L1348.3,615.2 L1348.8,615.9 L1350.0,620.8 L1350.9,621.3 L1351.9,626.9 L1352.2,627.0 L1352.6,626.4 L1352.9,626.6 L1353.8,629.9 L1354.5,630.8 L1355.3,633.6 L1356.3,634.9 L1357.1,638.3 L1358.5,639.8 L1360.7,648.9 L1361.2,649.7 L1361.8,649.1 L1362.0,649.2 L1362.7,652.1 L1363.4,652.7 L1364.1,655.8 L1366.0,658.2 L1367.0,663.9 L1367.7,664.7 L1368.4,668.2 L1369.0,669.1 L1370.7,674.9 L1371.4,679.1 L1372.1,679.7 L1373.1,685.5 L1373.7,686.1 L1374.6,688.8 L1376.9,699.7 L1377.9,702.3 L1380.0,713.5 L1380.8,715.5 L1381.5,720.1 L1382.6,724.3 L1382.9,725.1 L1383.8,724.9 L1384.8,727.2 L1385.8,727.7 L1386.2,727.5 L1386.9,724.9 L1388.0,723.5 L1388.3,722.4 L1389.5,713.6 L1391.6,702.9 L1393.0,691.5 L1393.3,690.8 L1393.9,690.6 L1394.2,689.5 L1395.6,679.6 L1396.6,677.1 L1398.9,662.3 L1400.1,658.0 L1400.9,651.7 L1401.7,649.5 L1403.4,641.6 L1404.2,640.4 L1405.0,633.7 L1405.1,633.4 L1405.6,633.9 L1406.0,633.3 L1408.1,625.2 L1408.8,624.7 L1410.1,618.5 L1410.4,617.6 L1411.2,616.8 L1411.9,614.4 L1413.0,616.6 L1413.6,615.1 L1414.4,615.1 L1415.3,619.9 L1417.5,642.0 L1420.0,680.1 L1422.7,785.7 L1423.5,803.7 L1424.0,807.6 L1424.6,801.0 L1425.3,782.6 L1430.1,599.0 L1430.7,582.2 L1431.3,575.7 L1431.9,576.2 L1432.5,576.0 L1432.8,576.3 L1433.8,581.5 L1434.0,582.0 L1434.6,582.1 L1435.0,583.4 L1436.8,595.0 L1437.7,598.4 L1440.2,618.5 L1441.5,625.1 L1443.1,637.6 L1444.1,642.9 L1445.8,655.3 L1446.9,660.4 L1448.4,662.6 L1449.1,660.7 L1449.6,661.8 L1450.0,661.5 L1451.2,656.6 L1452.5,653.7 L1453.3,650.1 L1454.0,649.7 L1454.8,643.7 L1455.6,642.6 L1457.6,633.2 L1457.9,632.7 L1458.3,633.7 L1458.6,633.7 L1459.4,629.0 L1460.5,626.1 L1461.3,625.8 L1462.1,622.4 L1463.6,619.3 L1464.6,615.6 L1464.8,615.3 L1465.4,616.1 L1465.9,615.7 L1466.7,611.9 L1467.3,611.0 L1469.1,604.8 L1469.8,605.4 L1470.3,603.7 L1471.0,603.0 L1471.8,599.6 L1473.5,598.1 L1475.1,592.9 L1475.5,593.0 L1476.2,594.8 L1477.1,591.0 L1477.5,590.9 L1478.0,591.6 L1478.2,591.2 L1479.0,587.4 L1479.8,588.6 L1481.2,586.4 L1481.8,587.2 L1482.6,583.6 L1483.6,586.4 L1484.5,583.5 L1485.5,583.8 L1485.7,584.2 L1486.2,583.6 L1486.8,583.6 L1487.3,582.5 L1487.8,583.1 L1488.4,582.4 L1489.1,582.5 L1489.8,581.9 L1490.9,582.7 L1492.0,581.2 L1492.6,581.7 L1493.7,580.9 L1494.5,582.0 L1495.2,581.4 L1495.9,578.9 L1496.6,579.9 L1497.6,578.5 L1498.3,578.5 L1499.0,579.9 L1499.6,579.3 L1500.4,579.4 L1501.4,577.3 L1502.6,580.5 L1504.0,579.0 L1504.6,579.5 L1505.4,579.5 L1506.3,580.5 L1507.0,580.7 L1507.7,582.7 L1508.6,580.4 L1509.1,581.2 L1509.9,584.3 L1510.5,583.1 L1511.2,583.0 L1511.9,582.4 L1513.5,585.2 L1514.2,584.3 L1515.2,584.9 L1517.2,589.9 L1517.9,589.5 L1518.7,591.8 L1519.6,591.1 L1519.9,591.2 L1520.7,594.9 L1523.1,599.5 L1523.4,599.9 L1523.9,599.4 L1524.7,601.9 L1525.3,602.1 L1525.8,602.8 L1526.7,601.6 L1528.9,608.1 L1529.2,608.3 L1529.5,608.1 L1529.7,608.4 L1530.3,611.0 L1530.6,611.3 L1531.2,610.7 L1531.4,611.1 L1532.3,616.8 L1533.0,617.9 L1533.4,619.4 L1536.2,638.6 L1537.8,660.8 L1539.5,695.3 L1541.8,803.5 L1542.3,819.0 L1542.8,824.8 L1543.4,819.2 L1543.8,807.7 L1546.8,692.9 L1550.5,588.0 L1551.9,564.7 L1554.5,544.4 L1555.8,537.8 L1557.0,538.9 L1557.8,538.2 L1558.6,539.5 L1559.3,539.0 L1560.3,542.6 L1561.7,542.5 L1562.6,545.3 L1563.3,544.5 L1563.6,544.6 L1564.2,546.5 L1564.9,546.4 L1565.7,550.2 L1566.2,549.8 L1566.4,550.0 L1567.9,554.0 L1568.7,553.0 L1569.7,556.9 L1571.1,560.3 L1571.4,560.4 L1572.0,559.1 L1572.3,559.4 L1574.0,565.4 L1574.8,565.4 L1575.8,567.0 L1576.8,570.2 L1579.0,574.3 L1579.8,577.9 L1583.8,588.4 L1585.7,594.8 L1586.5,595.7 L1587.2,599.9 L1587.4,600.5 L1587.8,600.4 L1588.0,600.7 L1588.9,605.4 L1589.9,607.5 L1592.0,615.2 L1592.5,616.3 L1593.1,615.9 L1593.3,616.3 L1595.6,627.8 L1596.7,630.3 L1597.4,635.0 L1598.1,637.6 L1600.0,648.0 L1602.3,664.9 L1604.0,690.5 L1606.1,709.4 L1607.0,705.5 L1607.1,705.3 L1607.6,705.6 L1607.7,705.4 L1608.3,702.5 L1609.1,700.8 L1612.1,683.0 L1613.6,669.3 L1616.2,660.1 L1618.7,646.3 L1619.5,645.1 L1621.0,639.0 L1621.7,633.8 L1622.4,632.5 L1623.2,628.2 L1626.2,619.8 L1627.2,614.8 L1628.5,611.7 L1629.2,611.0 L1630.2,608.5 L1631.2,603.9 L1634.0,598.3 L1634.7,594.8 L1635.3,593.9 L1635.9,591.7 L1636.3,591.7 L1636.5,591.2 L1637.1,588.0 L1637.7,589.1 L1638.6,586.6 L1639.6,587.5 L1640.5,583.4 L1641.3,582.4 L1643.0,578.1 L1647.7,571.0 L1648.6,571.2 L1649.3,570.3 L1649.8,571.1 L1650.4,571.2 L1651.1,572.6 L1652.2,572.8 L1652.5,573.1 L1654.5,581.9 L1655.3,587.1 L1657.1,614.6 L1659.9,697.7 L1661.9,794.6 L1662.3,807.7 L1662.8,812.0 L1663.4,804.9 L1664.0,788.7 L1666.0,697.9 L1669.3,582.1 L1670.5,556.0 L1671.5,542.7 L1672.3,542.4 L1677.4,556.0 L1678.2,560.6 L1678.4,561.1 L1678.8,561.1 L1679.0,561.7 L1681.1,571.8 L1682.4,575.2 L1684.1,581.3 L1684.3,581.7 L1684.8,581.0 L1685.0,581.1 L1686.0,584.7 L1686.4,585.5 L1686.9,585.4 L1687.6,586.4 L1688.2,586.0 L1688.8,586.5 L1689.0,586.2 L1690.2,583.5 L1691.1,580.0 L1691.9,580.9 L1692.5,579.5 L1693.7,578.3 L1694.8,578.5 L1696.9,572.7 L1698.1,572.0 L1698.9,572.8 L1700.0,569.3 L1700.8,569.2 L1701.2,569.5 L1701.8,568.9 L1702.5,569.3 L1703.6,565.8 L1704.4,567.2 L1705.2,565.0 L1706.2,564.1 L1706.7,562.4 L1707.4,564.4 L1707.7,564.4 L1708.6,561.7 L1709.3,562.4 L1710.3,566.3 L1712.3,560.9 L1713.1,562.5 L1714.0,563.1 L1714.8,560.4 L1715.1,560.3 L1715.7,561.4 L1716.4,561.1 L1717.3,561.8 L1718.6,560.8 L1719.3,558.4 L1720.1,561.5 L1720.8,558.2 L1721.5,559.9 L1722.4,563.4 L1723.0,562.3 L1723.7,563.3 L1724.5,562.0 L1725.3,563.3 L1726.1,562.0 L1727.3,563.2 L1729.1,563.7 L1729.9,566.6 L1730.8,565.9 L1731.5,567.3 L1732.5,568.3 L1733.4,567.8 L1734.9,573.0 L1736.9,574.6 L1737.5,574.6 L1739.0,579.8 L1739.9,579.9 L1741.5,584.2 L1741.9,584.6 L1742.4,584.5 L1743.0,586.5 L1743.4,586.6 L1743.4,586.4 L1743.7,586.8 L1745.1,591.7 L1746.1,593.5 L1746.4,593.9 L1747.0,593.8 L1747.3,594.2 L1748.6,600.5 L1749.3,602.0 L1749.8,602.3 L1751.6,606.9 L1752.8,614.3 L1754.2,613.9 L1754.7,614.7 L1755.7,619.4 L1756.4,620.4 L1758.0,627.7 L1758.3,628.4 L1758.9,628.5 L1760.3,632.6" fill="none" stroke="#77AC30" stroke-width="2.6" stroke-linejoin="round" stroke-linecap="round" clip-path="url(#cf)"/>
<path d="M1290.5,660.0 L1291.3,661.7 L1292.0,660.3 L1292.5,660.4 L1293.1,659.4 L1293.8,659.6 L1295.1,664.3 L1295.7,664.5 L1297.9,670.5 L1299.5,677.5 L1300.5,685.5 L1302.6,695.4 L1304.7,715.3 L1305.2,728.2 L1306.4,814.7 L1306.9,836.7 L1307.6,829.9 L1308.5,809.7 L1311.4,693.1 L1314.3,602.9 L1314.9,593.3 L1316.3,582.2 L1317.5,575.4 L1318.9,571.1 L1320.6,572.3 L1321.0,572.3 L1321.6,573.8 L1322.3,573.5 L1324.0,579.7 L1324.8,584.8 L1325.0,585.0 L1325.5,584.1 L1325.7,584.4 L1326.4,587.9 L1327.3,589.3 L1328.0,592.8 L1329.0,595.2 L1329.8,598.4 L1330.3,598.9 L1330.9,598.6 L1331.1,599.0 L1333.6,608.6 L1334.9,610.8 L1335.6,610.6 L1336.4,611.8 L1337.0,611.8 L1337.8,615.8 L1338.5,616.4 L1339.1,618.3 L1339.8,619.2 L1342.4,630.9 L1342.8,631.6 L1343.4,631.7 L1344.1,634.9 L1344.9,635.8 L1345.7,639.6 L1346.4,640.7 L1347.6,645.3 L1349.5,656.2 L1351.3,662.9 L1352.7,671.7 L1354.2,676.1 L1354.9,680.4 L1356.0,682.9 L1357.9,690.7 L1358.9,692.0 L1360.5,702.0 L1360.7,702.5 L1361.2,701.9 L1361.6,702.2 L1362.8,707.6 L1363.6,708.9 L1365.2,714.4 L1366.4,715.5 L1367.4,719.7 L1368.5,721.7 L1370.1,717.8 L1371.1,719.9 L1371.5,720.0 L1372.6,715.8 L1373.9,717.5 L1375.4,712.0 L1376.7,710.0 L1377.8,705.4 L1378.5,704.3 L1379.2,702.1 L1379.8,701.6 L1380.5,698.7 L1381.2,698.0 L1382.8,689.6 L1383.1,689.1 L1383.6,689.2 L1384.0,688.0 L1385.5,680.8 L1386.2,675.6 L1388.6,666.3 L1389.4,661.2 L1392.2,650.5 L1393.6,647.8 L1394.7,640.2 L1396.4,632.2 L1397.1,631.3 L1397.6,629.5 L1398.6,623.8 L1399.6,621.3 L1400.3,616.8 L1400.6,616.6 L1401.0,617.7 L1401.3,617.3 L1403.6,609.2 L1404.3,609.8 L1405.1,606.6 L1405.8,607.0 L1407.0,601.8 L1408.1,602.7 L1409.4,598.5 L1410.3,597.7 L1411.0,595.3 L1411.5,595.1 L1412.2,596.1 L1413.7,592.8 L1414.6,598.5 L1415.6,601.0 L1416.4,608.9 L1417.2,612.5 L1419.9,645.7 L1422.6,720.4 L1424.6,789.9 L1425.7,806.2 L1426.3,797.1 L1427.1,772.3 L1431.3,589.6 L1432.1,566.2 L1432.6,561.1 L1433.4,563.0 L1434.6,563.6 L1435.4,567.1 L1435.9,566.9 L1436.1,567.3 L1437.0,572.6 L1439.3,581.3 L1441.0,590.3 L1441.7,591.3 L1442.2,591.7 L1445.1,602.0 L1445.3,602.2 L1445.8,601.9 L1446.2,602.4 L1446.8,602.3 L1448.0,605.1 L1449.1,602.3 L1449.6,603.3 L1450.8,602.2 L1451.5,603.0 L1452.1,601.2 L1452.7,602.2 L1452.9,602.1 L1453.8,598.8 L1454.6,599.7 L1456.0,595.9 L1456.8,595.1 L1457.4,595.1 L1458.1,593.4 L1458.7,593.8 L1459.5,591.6 L1461.3,588.9 L1462.1,590.4 L1462.9,589.4 L1463.9,586.2 L1464.4,586.9 L1464.9,586.9 L1465.6,587.9 L1466.6,585.4 L1466.9,585.9 L1468.3,586.5 L1469.3,583.2 L1469.7,583.4 L1470.3,583.1 L1471.4,584.2 L1472.2,582.4 L1473.5,584.4 L1474.9,580.0 L1475.2,580.2 L1476.0,582.0 L1476.8,582.5 L1478.3,580.9 L1479.5,583.1 L1480.3,582.6 L1480.9,582.9 L1481.6,581.1 L1482.4,580.3 L1483.5,583.5 L1484.3,582.0 L1484.9,581.7 L1485.5,582.1 L1485.9,580.6 L1487.2,582.2 L1487.9,581.6 L1488.5,582.3 L1489.1,581.9 L1489.8,583.0 L1490.9,582.6 L1492.6,585.3 L1493.8,582.8 L1494.9,585.8 L1495.1,585.8 L1495.5,584.7 L1496.2,587.5 L1496.6,585.8 L1497.4,587.6 L1498.2,585.7 L1498.6,585.4 L1500.4,588.3 L1501.2,588.4 L1502.1,592.7 L1502.4,592.8 L1503.0,591.6 L1503.9,592.5 L1504.6,594.7 L1505.1,594.2 L1505.3,594.3 L1506.8,596.5 L1507.8,599.6 L1508.3,600.0 L1509.0,600.0 L1510.2,604.8 L1511.4,605.9 L1512.4,608.6 L1512.7,608.8 L1513.4,608.4 L1514.1,609.5 L1515.1,613.7 L1515.9,614.4 L1516.8,619.4 L1518.4,624.1 L1519.2,627.9 L1519.5,628.7 L1519.9,628.8 L1520.2,630.1 L1522.6,645.6 L1523.4,649.1 L1525.8,666.6 L1526.8,670.0 L1527.5,675.1 L1529.0,682.2 L1534.4,734.6 L1534.8,735.5 L1535.0,735.2 L1538.0,711.8 L1538.1,711.5 L1538.3,711.7 L1538.8,714.4 L1541.1,752.4 L1543.4,824.5 L1544.2,836.5 L1544.8,830.0 L1545.7,803.0 L1548.1,697.9 L1551.7,573.1 L1552.3,564.1 L1553.0,561.9 L1554.2,552.9 L1555.5,548.7 L1556.3,547.9 L1557.0,548.6 L1557.8,546.3 L1558.3,546.9 L1559.1,551.2 L1559.8,552.3 L1560.5,555.1 L1561.6,561.9 L1563.0,566.9 L1565.5,581.2 L1567.2,587.5 L1568.2,595.4 L1568.9,597.1 L1569.7,600.9 L1570.9,603.2 L1572.8,615.3 L1574.0,618.7 L1575.8,627.8 L1577.9,634.7 L1579.7,646.0 L1580.6,649.8 L1583.3,665.3 L1585.4,673.2 L1587.2,688.1 L1588.7,713.3 L1590.0,723.6 L1590.8,722.4 L1591.5,719.3 L1592.3,717.4 L1593.8,706.7 L1594.6,703.7 L1597.2,689.9 L1599.0,684.5 L1600.5,678.6 L1602.4,666.4 L1603.4,664.3 L1604.4,657.9 L1605.9,653.3 L1606.8,646.3 L1607.6,644.5 L1609.8,636.8 L1611.6,628.2 L1612.2,627.0 L1613.1,623.3 L1614.2,617.7 L1615.0,616.8 L1615.7,613.0 L1616.3,611.3 L1617.1,610.1 L1618.9,603.2 L1620.4,601.6 L1621.2,599.2 L1621.9,599.0 L1622.5,598.2 L1625.0,590.3 L1625.2,590.1 L1625.8,590.2 L1627.2,587.4 L1627.9,586.7 L1629.3,580.9 L1629.9,581.0 L1630.5,580.3 L1631.1,580.4 L1631.8,579.3 L1632.3,579.8 L1632.5,579.7 L1633.3,575.1 L1634.2,576.0 L1635.8,571.4 L1636.5,571.2 L1637.1,569.6 L1638.5,569.4 L1639.3,567.8 L1639.9,567.7 L1641.1,565.3 L1641.9,567.4 L1642.7,566.4 L1643.7,566.6 L1644.6,562.3 L1645.1,561.4 L1646.5,563.9 L1647.2,563.2 L1648.1,563.1 L1649.0,565.8 L1649.8,562.3 L1650.6,564.2 L1651.4,563.3 L1652.2,563.2 L1652.8,563.9 L1653.9,568.8 L1654.1,569.3 L1654.6,569.0 L1654.7,569.3 L1655.5,576.1 L1656.6,591.6 L1658.0,621.4 L1660.4,690.4 L1662.8,798.2 L1663.4,812.8 L1664.0,817.8 L1664.8,803.2 L1667.2,697.8 L1670.8,585.3 L1672.0,560.0 L1672.9,548.2 L1673.4,545.4 L1674.0,547.4 L1674.6,547.1 L1675.3,549.8 L1676.2,551.8 L1676.6,551.7 L1677.5,549.5 L1678.3,550.0 L1679.0,549.1 L1680.2,552.3 L1681.0,556.3 L1682.1,554.7 L1683.3,555.0 L1684.1,553.3 L1684.8,555.2 L1685.7,553.3 L1686.2,553.6 L1686.9,555.0 L1687.6,552.5 L1688.2,554.4 L1689.1,556.0 L1689.8,554.4 L1690.8,553.6 L1691.8,555.3 L1692.6,553.3 L1693.5,554.9 L1694.9,556.4 L1696.3,554.1 L1697.6,557.3 L1698.5,555.3 L1700.4,557.9 L1701.0,556.7 L1701.6,557.0 L1702.0,555.8 L1703.0,557.4 L1703.7,557.0 L1704.2,557.8 L1704.7,557.8 L1705.3,559.0 L1706.0,557.2 L1707.7,559.5 L1708.9,558.7 L1709.7,558.7 L1710.7,562.5 L1711.3,560.1 L1712.1,561.9 L1712.9,558.9 L1713.6,560.0 L1714.1,559.9 L1715.3,562.1 L1716.0,561.8 L1716.6,562.8 L1717.1,562.9 L1717.5,564.0 L1718.1,563.3 L1718.8,565.7 L1719.5,564.2 L1719.9,564.2 L1720.5,565.0 L1721.1,567.3 L1722.2,566.2 L1723.2,568.1 L1724.0,566.6 L1724.6,567.2 L1725.3,569.4 L1725.9,569.5 L1726.5,572.3 L1727.3,571.1 L1728.4,574.5 L1729.2,573.4 L1729.9,576.2 L1730.1,576.6 L1730.4,576.2 L1730.6,576.3 L1731.6,579.7 L1731.9,579.8 L1732.3,579.4 L1733.1,583.2 L1733.8,583.5 L1734.9,587.1 L1735.5,587.1 L1736.1,588.5 L1736.7,588.4 L1737.3,590.5 L1737.9,590.7 L1738.3,591.8 L1738.9,592.3 L1739.6,595.8 L1740.1,596.3 L1740.8,599.4 L1741.4,600.1 L1742.2,603.5 L1742.9,604.7 L1744.0,611.1 L1745.1,613.0 L1745.6,614.5 L1747.9,627.1 L1751.6,656.2 L1753.4,665.1 L1754.3,672.6 L1756.4,684.8 L1758.0,698.4 L1759.0,704.5 L1760.3,718.6" fill="none" stroke="#4DBEEE" stroke-width="2.6" stroke-linejoin="round" stroke-linecap="round" clip-path="url(#cf)"/>
<path d="M1290.5,749.6 L1292.6,777.8 L1293.7,784.3 L1293.9,784.7 L1294.5,783.7 L1295.1,784.6 L1297.5,758.5 L1299.7,740.0 L1300.8,731.5 L1301.9,727.1 L1303.1,717.1 L1303.3,716.2 L1303.7,716.6 L1304.1,721.0 L1304.7,733.9 L1307.1,810.1 L1307.5,817.4 L1307.8,818.5 L1308.1,817.5 L1308.9,799.4 L1311.6,686.4 L1314.2,616.0 L1314.9,602.7 L1316.5,586.2 L1318.5,575.8 L1319.0,577.4 L1319.6,576.7 L1320.4,578.5 L1322.1,584.5 L1322.7,588.0 L1324.0,592.1 L1324.7,597.4 L1326.7,606.5 L1329.7,617.3 L1330.8,619.3 L1335.1,639.4 L1336.2,641.7 L1339.4,656.5 L1340.9,660.7 L1344.2,676.9 L1345.8,685.6 L1351.2,741.4 L1351.6,743.7 L1353.1,748.5 L1353.6,748.1 L1354.2,746.1 L1354.7,746.6 L1355.0,746.2 L1357.1,733.8 L1359.3,712.7 L1361.6,698.6 L1362.5,688.8 L1363.3,686.5 L1365.4,674.6 L1366.3,672.4 L1367.3,667.7 L1367.7,667.3 L1368.1,667.9 L1368.4,667.8 L1370.6,656.9 L1370.8,656.2 L1371.3,656.2 L1371.5,655.7 L1372.6,650.2 L1373.3,648.6 L1374.0,648.2 L1374.5,647.4 L1375.5,641.5 L1375.8,640.9 L1376.2,640.8 L1377.3,637.4 L1378.1,632.1 L1378.5,631.7 L1379.3,631.6 L1380.1,627.5 L1381.8,623.4 L1382.6,618.8 L1383.9,616.4 L1384.6,613.7 L1384.7,613.5 L1385.0,614.2 L1385.8,614.5 L1387.2,609.7 L1387.9,609.3 L1388.6,606.3 L1389.2,606.3 L1390.0,604.4 L1391.9,602.6 L1392.8,597.6 L1393.7,599.6 L1394.4,597.9 L1395.4,597.1 L1396.0,595.4 L1396.6,595.9 L1396.8,595.7 L1397.6,593.6 L1398.2,593.5 L1398.8,592.0 L1399.8,590.5 L1400.6,591.5 L1401.3,590.3 L1402.2,592.1 L1402.9,591.0 L1403.6,591.0 L1404.2,589.4 L1404.9,589.9 L1406.8,587.7 L1407.2,589.7 L1407.6,590.1 L1408.7,588.2 L1409.8,587.7 L1410.7,585.4 L1411.7,587.1 L1412.3,589.2 L1413.4,586.8 L1414.9,591.1 L1416.6,592.5 L1418.8,603.1 L1420.8,624.1 L1422.0,644.3 L1423.2,681.6 L1425.5,780.6 L1426.2,800.3 L1426.6,806.0 L1427.6,796.1 L1428.5,770.2 L1433.3,593.3 L1434.8,573.0 L1435.4,569.6 L1436.7,565.5 L1437.7,565.8 L1438.4,565.4 L1439.0,565.6 L1439.8,567.3 L1441.1,564.2 L1441.8,566.3 L1442.0,566.7 L1442.6,566.8 L1443.3,568.8 L1444.1,567.5 L1445.9,569.4 L1446.6,568.6 L1447.3,570.3 L1447.9,570.7 L1448.8,568.0 L1449.6,570.5 L1450.2,570.7 L1450.8,571.7 L1451.4,571.6 L1452.7,572.8 L1453.5,571.2 L1454.3,572.3 L1455.0,571.6 L1455.8,574.1 L1456.8,574.9 L1458.1,573.5 L1458.8,573.4 L1459.3,572.8 L1460.5,574.4 L1461.0,574.5 L1461.5,575.4 L1462.1,575.6 L1462.7,576.3 L1463.9,574.8 L1464.4,577.1 L1465.4,579.0 L1466.7,579.5 L1467.4,578.3 L1468.1,580.0 L1468.9,579.3 L1470.2,582.0 L1471.0,581.7 L1472.0,583.7 L1472.7,582.6 L1473.5,586.0 L1474.8,584.2 L1476.3,586.5 L1477.0,586.7 L1477.7,587.6 L1478.3,587.7 L1478.9,589.6 L1479.8,588.0 L1481.2,590.3 L1482.3,590.1 L1483.7,593.9 L1484.5,593.9 L1485.3,595.9 L1485.8,596.3 L1486.6,599.0 L1487.1,599.1 L1490.0,602.5 L1491.0,603.0 L1491.7,604.8 L1492.4,605.3 L1493.5,607.9 L1494.7,609.5 L1495.6,614.0 L1496.2,614.0 L1496.9,614.5 L1497.6,617.1 L1498.4,618.4 L1499.1,621.3 L1501.6,624.7 L1503.7,633.9 L1504.5,634.4 L1505.2,635.8 L1506.6,640.3 L1507.4,645.5 L1508.6,647.4 L1509.5,651.7 L1510.2,651.8 L1510.8,654.4 L1511.7,656.2 L1512.8,662.0 L1513.5,663.1 L1514.5,667.0 L1515.3,668.5 L1517.3,676.0 L1518.5,684.1 L1519.6,687.8 L1522.7,745.4 L1523.5,757.3 L1524.1,761.2 L1524.9,759.6 L1526.2,748.0 L1529.7,700.4 L1534.4,656.7 L1536.0,649.2 L1537.1,645.7 L1537.4,645.5 L1537.6,645.9 L1538.6,648.9 L1539.0,653.2 L1541.6,701.9 L1544.2,806.7 L1545.1,824.2 L1545.6,819.8 L1546.3,798.5 L1548.4,703.6 L1551.8,584.2 L1552.3,575.8 L1553.6,564.4 L1555.7,555.7 L1556.8,559.9 L1557.5,560.9 L1558.5,564.0 L1561.8,585.5 L1562.5,587.1 L1563.3,591.5 L1564.3,602.2 L1565.1,607.1 L1566.7,625.2 L1571.0,662.7 L1571.9,675.3 L1572.7,695.2 L1575.9,801.5 L1576.7,818.1 L1577.5,824.7 L1578.3,818.0 L1579.2,796.2 L1582.4,690.3 L1583.2,677.8 L1584.9,662.4 L1589.6,635.8 L1590.3,634.4 L1591.9,627.9 L1592.8,621.3 L1593.3,620.6 L1593.9,621.1 L1594.1,620.9 L1596.2,610.1 L1598.1,607.1 L1600.1,598.3 L1601.0,596.8 L1601.6,597.0 L1602.6,592.3 L1602.8,591.9 L1603.3,592.3 L1603.5,592.0 L1604.9,587.0 L1605.1,586.7 L1605.9,586.9 L1606.7,584.7 L1607.4,586.6 L1608.2,584.0 L1608.8,584.8 L1609.0,584.7 L1609.8,581.1 L1610.4,580.1 L1611.0,577.9 L1611.7,579.2 L1612.5,578.8 L1613.6,576.8 L1614.4,576.5 L1615.1,574.1 L1616.1,576.1 L1617.1,574.6 L1618.2,575.9 L1619.0,573.0 L1619.6,573.2 L1620.3,572.3 L1621.0,572.7 L1621.8,570.9 L1622.6,570.7 L1623.5,569.3 L1624.2,570.1 L1624.9,568.0 L1626.1,569.0 L1627.1,567.3 L1628.2,567.7 L1628.8,568.7 L1629.3,568.9 L1630.5,564.9 L1631.0,565.2 L1631.8,564.8 L1632.7,566.8 L1633.6,565.0 L1634.2,564.9 L1635.0,565.8 L1635.9,563.9 L1636.5,566.8 L1637.4,567.3 L1638.3,566.2 L1639.4,566.2 L1640.6,565.5 L1641.3,566.4 L1642.1,563.7 L1643.2,567.0 L1643.6,567.2 L1644.1,565.7 L1645.0,568.5 L1645.9,568.6 L1647.1,568.0 L1647.9,569.6 L1649.3,570.4 L1649.9,572.1 L1650.5,570.7 L1650.8,570.7 L1651.4,571.9 L1652.2,575.3 L1653.4,577.9 L1655.4,588.6 L1656.8,599.3 L1658.6,631.9 L1660.7,683.3 L1663.3,799.3 L1663.9,816.2 L1664.5,822.4 L1665.0,816.0 L1665.9,794.1 L1668.6,688.8 L1672.9,589.1 L1675.0,559.1 L1677.4,546.8 L1678.6,545.5 L1679.8,540.4 L1680.9,537.7 L1681.1,537.5 L1682.4,537.9 L1683.1,539.2 L1684.0,538.5 L1685.0,539.8 L1685.6,541.3 L1686.3,541.2 L1687.2,542.4 L1689.2,547.5 L1689.6,547.6 L1690.1,548.3 L1690.5,548.3 L1691.7,549.5 L1692.4,552.7 L1693.1,552.8 L1694.3,557.4 L1694.6,557.5 L1695.4,556.4 L1695.9,557.2 L1696.6,557.1 L1697.3,558.0 L1698.3,555.4 L1699.9,560.3 L1700.6,559.8 L1701.3,561.4 L1701.8,560.2 L1702.2,560.0 L1703.1,564.6 L1704.2,565.3 L1705.0,568.5 L1705.2,568.7 L1705.8,567.5 L1706.7,567.3 L1708.0,569.7 L1708.7,569.6 L1710.9,575.7 L1711.1,575.8 L1711.4,574.9 L1711.8,574.9 L1713.2,580.9 L1713.7,580.9 L1714.8,583.0 L1715.9,586.3 L1716.7,586.4 L1717.4,587.5 L1718.4,593.0 L1719.1,593.0 L1719.8,595.3 L1720.5,596.4 L1721.2,600.2 L1722.8,603.4 L1724.7,609.6 L1726.1,616.3 L1729.3,624.2 L1730.9,632.0 L1732.1,633.7 L1734.0,644.4 L1734.3,645.7 L1734.9,646.0 L1736.2,653.4 L1736.6,654.0 L1737.3,654.2 L1737.6,654.9 L1739.6,666.4 L1741.6,672.8 L1742.4,679.4 L1743.2,680.8 L1744.2,686.6 L1745.4,690.2 L1748.0,706.4 L1748.9,703.8 L1749.5,705.8 L1749.8,705.7 L1752.0,696.0 L1755.0,670.5 L1758.3,648.5 L1759.1,646.4 L1759.9,645.6 L1760.3,644.3" fill="none" stroke="#A2142F" stroke-width="2.6" stroke-linejoin="round" stroke-linecap="round" clip-path="url(#cf)"/>
<path d="M1290.5,631.3 L1291.3,629.8 L1292.5,633.3 L1293.4,632.0 L1294.5,633.2 L1296.4,630.7 L1297.7,633.6 L1300.4,645.4 L1302.2,660.3 L1303.1,683.0 L1305.1,786.6 L1305.5,802.2 L1306.0,807.9 L1306.8,800.3 L1307.8,782.5 L1311.2,680.7 L1314.1,610.0 L1315.3,595.8 L1316.6,586.3 L1317.7,581.0 L1318.9,579.9 L1320.1,581.3 L1320.3,582.0 L1321.6,588.5 L1322.2,588.7 L1322.4,589.6 L1325.0,603.8 L1326.3,607.5 L1327.0,607.6 L1327.3,608.1 L1328.0,612.1 L1328.2,612.2 L1328.7,611.0 L1328.9,611.0 L1329.5,613.0 L1330.1,613.0 L1330.3,613.3 L1331.0,615.9 L1332.0,617.0 L1332.5,617.1 L1333.8,619.5 L1335.5,620.7 L1336.3,619.5 L1337.2,622.6 L1337.7,622.3 L1338.3,622.7 L1339.0,621.3 L1339.9,623.2 L1341.1,620.4 L1342.1,623.4 L1342.6,623.6 L1343.2,623.2 L1343.9,623.5 L1344.9,625.1 L1345.6,623.8 L1346.8,623.0 L1348.4,626.5 L1349.5,625.0 L1350.3,626.3 L1351.2,626.0 L1352.2,623.1 L1352.9,624.4 L1353.5,624.4 L1354.4,627.3 L1355.3,625.7 L1355.9,628.0 L1357.0,626.0 L1357.9,625.4 L1358.7,628.1 L1360.3,629.7 L1361.6,631.8 L1361.8,631.9 L1362.4,630.9 L1363.2,632.0 L1364.4,632.4 L1366.4,636.9 L1367.9,637.7 L1368.6,637.2 L1369.2,638.2 L1369.4,637.9 L1369.7,638.1 L1370.6,642.4 L1371.8,644.0 L1372.6,644.0 L1374.5,648.4 L1375.1,648.6 L1375.9,651.5 L1376.5,651.8 L1377.3,653.9 L1378.4,654.9 L1379.3,657.8 L1380.1,662.2 L1380.3,662.3 L1380.9,661.6 L1381.9,662.8 L1383.1,667.0 L1384.2,668.5 L1385.8,674.6 L1388.3,681.0 L1389.2,685.6 L1390.2,686.8 L1391.4,691.6 L1392.0,691.3 L1392.3,691.9 L1394.0,700.7 L1394.9,702.5 L1395.7,707.6 L1396.1,708.5 L1396.8,708.8 L1397.8,713.1 L1398.6,712.9 L1400.0,714.1 L1400.4,713.0 L1401.1,713.6 L1401.5,713.1 L1404.1,698.0 L1405.0,690.5 L1407.7,675.8 L1409.8,667.7 L1411.4,657.1 L1412.2,655.9 L1413.7,649.1 L1414.2,648.9 L1415.1,646.5 L1416.9,645.9 L1417.3,644.2 L1417.6,644.3 L1419.5,660.2 L1421.9,704.7 L1424.3,788.4 L1424.7,798.8 L1425.5,803.7 L1426.0,797.6 L1426.7,778.9 L1431.7,589.7 L1432.4,572.1 L1433.1,564.1 L1433.4,563.9 L1434.0,564.8 L1434.8,564.5 L1435.8,569.0 L1436.3,569.7 L1436.8,569.7 L1437.1,570.1 L1438.1,576.7 L1439.3,579.4 L1441.7,588.7 L1442.5,594.7 L1444.7,604.1 L1447.1,617.8 L1447.5,619.5 L1447.9,619.4 L1447.9,618.9 L1448.1,619.7 L1448.9,625.9 L1451.1,637.2 L1452.0,639.6 L1453.4,646.6 L1457.2,671.5 L1458.2,676.2 L1462.6,712.8 L1465.1,725.0 L1465.9,722.9 L1466.8,724.3 L1467.0,724.1 L1467.8,721.0 L1469.0,713.3 L1469.8,710.7 L1470.7,706.2 L1473.4,687.8 L1474.8,683.1 L1475.8,676.2 L1476.7,675.0 L1478.7,666.7 L1480.1,658.8 L1481.0,656.7 L1481.7,652.8 L1482.9,648.8 L1485.2,643.5 L1487.2,634.6 L1487.5,634.2 L1487.9,634.4 L1489.3,630.4 L1489.9,630.6 L1490.3,630.0 L1491.7,621.5 L1492.5,624.4 L1494.4,617.3 L1494.9,617.7 L1495.2,618.8 L1495.5,618.8 L1496.9,614.8 L1497.8,614.1 L1498.6,612.7 L1499.9,609.2 L1500.5,609.2 L1501.2,607.4 L1501.8,607.4 L1502.3,606.7 L1502.7,606.6 L1503.4,605.4 L1504.1,606.1 L1504.8,603.9 L1506.0,602.8 L1506.7,603.4 L1508.4,597.5 L1509.2,599.4 L1510.5,596.3 L1511.1,596.0 L1511.5,595.0 L1512.1,595.1 L1512.8,593.2 L1513.5,593.0 L1514.2,594.4 L1516.1,589.2 L1517.8,590.0 L1518.6,589.4 L1519.3,590.1 L1520.1,588.9 L1520.7,589.7 L1521.6,586.5 L1522.9,588.7 L1523.8,588.7 L1524.5,590.5 L1525.3,587.8 L1526.0,588.1 L1526.6,587.3 L1527.2,588.2 L1527.7,588.4 L1528.3,589.4 L1529.0,589.2 L1530.2,590.8 L1531.4,595.0 L1532.2,593.7 L1533.5,599.6 L1534.3,601.1 L1535.4,605.4 L1537.0,620.7 L1539.6,667.2 L1542.0,793.7 L1542.8,812.5 L1543.4,807.7 L1544.2,788.9 L1546.7,698.0 L1550.5,581.7 L1551.7,563.9 L1553.2,552.1 L1554.2,547.2 L1555.0,545.4 L1555.3,546.3 L1555.9,546.5 L1556.4,547.9 L1557.0,548.2 L1557.5,549.1 L1558.2,548.4 L1558.4,548.8 L1559.8,556.4 L1560.0,556.4 L1560.8,554.6 L1561.0,554.4 L1561.2,554.8 L1562.7,562.3 L1563.8,564.6 L1564.7,568.2 L1565.1,567.9 L1565.5,565.9 L1565.7,566.0 L1567.0,571.9 L1567.2,572.0 L1567.7,571.1 L1568.0,571.1 L1570.3,576.8 L1571.2,578.2 L1571.9,578.1 L1572.5,578.5 L1575.3,585.2 L1576.1,584.4 L1578.4,588.8 L1579.2,589.5 L1581.1,595.5 L1581.9,595.0 L1582.4,595.4 L1583.4,599.2 L1584.5,598.6 L1585.4,601.9 L1586.4,603.5 L1586.9,606.5 L1587.6,606.9 L1588.4,610.2 L1588.8,610.5 L1589.5,611.9 L1590.1,611.6 L1590.9,614.5 L1591.8,613.8 L1592.6,618.2 L1592.8,618.7 L1594.1,619.6 L1594.8,622.7 L1595.9,625.1 L1596.1,625.2 L1596.6,623.7 L1597.5,629.4 L1597.7,629.8 L1599.0,630.3 L1600.0,635.9 L1600.8,636.7 L1601.5,640.5 L1602.3,641.3 L1603.9,644.7 L1605.7,653.1 L1607.5,655.9 L1608.4,659.3 L1609.3,660.7 L1610.3,666.2 L1610.7,666.6 L1611.3,665.8 L1611.5,666.3 L1613.0,674.0 L1614.4,679.1 L1615.0,683.8 L1615.7,686.0 L1616.8,691.9 L1618.0,702.4 L1619.5,711.3 L1620.3,713.3 L1621.1,717.6 L1622.6,720.0 L1623.1,719.9 L1623.8,718.6 L1625.3,711.4 L1628.2,694.9 L1629.7,682.6 L1631.2,673.9 L1632.2,670.6 L1633.1,661.7 L1633.3,660.7 L1633.9,660.2 L1634.2,659.4 L1636.7,640.6 L1638.3,634.4 L1639.2,632.2 L1641.1,621.6 L1643.7,614.2 L1644.3,614.2 L1644.5,613.9 L1645.4,610.2 L1646.3,609.7 L1648.1,604.6 L1649.0,605.1 L1649.7,603.6 L1650.5,605.1 L1651.2,604.0 L1651.8,604.3 L1652.5,605.8 L1653.3,604.6 L1654.4,605.6 L1655.9,615.2 L1656.7,618.5 L1657.4,624.2 L1659.2,659.8 L1660.4,695.6 L1662.2,794.6 L1663.1,812.8 L1663.6,805.9 L1664.3,787.0 L1666.2,705.6 L1669.3,600.1 L1670.8,558.7 L1671.9,546.1 L1672.6,546.4 L1673.0,547.5 L1674.4,554.6 L1675.1,556.2 L1676.2,561.2 L1677.1,569.5 L1679.4,580.8 L1681.3,595.3 L1682.8,598.9 L1684.3,608.4 L1685.5,610.6 L1686.5,616.7 L1687.5,618.9 L1688.0,618.7 L1688.2,619.0 L1691.1,632.2 L1691.4,632.9 L1691.8,632.6 L1691.9,632.8 L1692.9,639.5 L1695.0,649.0 L1695.8,647.7 L1696.8,648.5 L1697.5,645.8 L1698.5,648.2 L1699.2,645.6 L1699.9,644.9 L1701.3,639.9 L1702.2,638.8 L1703.0,636.0 L1703.6,635.3 L1704.6,627.5 L1704.9,627.2 L1705.5,627.4 L1706.4,623.3 L1707.8,621.7 L1708.6,617.5 L1709.3,617.7 L1710.4,611.4 L1710.9,611.4 L1711.6,613.6 L1711.8,614.0 L1712.0,613.8 L1714.7,605.7 L1715.6,605.4 L1716.5,603.2 L1717.2,604.1 L1718.1,600.6 L1719.2,603.4 L1721.0,597.1 L1721.3,596.8 L1721.8,598.2 L1722.0,598.3 L1723.0,595.3 L1723.7,594.7 L1724.5,591.5 L1725.5,595.0 L1726.1,593.0 L1727.2,591.1 L1727.8,590.7 L1728.4,590.8 L1729.1,588.7 L1729.9,588.5 L1730.4,588.9 L1731.3,589.1 L1731.9,586.4 L1732.7,586.9 L1734.2,583.6 L1735.2,585.6 L1736.3,585.7 L1737.3,587.8 L1738.2,584.3 L1738.8,584.0 L1739.3,583.0 L1740.0,582.7 L1740.8,580.3 L1742.3,586.7 L1743.4,584.0 L1743.9,584.2 L1744.6,585.6 L1746.6,584.9 L1747.5,585.5 L1748.2,586.7 L1748.9,584.7 L1749.5,584.1 L1749.7,584.0 L1750.6,585.5 L1751.6,583.6 L1752.7,587.3 L1753.7,585.8 L1754.1,585.7 L1754.3,586.0 L1755.8,591.6 L1756.8,590.5 L1758.4,592.6 L1759.2,590.9 L1759.8,590.7 L1760.3,592.1" fill="none" stroke="#0072BD" stroke-width="2.6" stroke-linejoin="round" stroke-linecap="round" clip-path="url(#cf)"/>
<path d="M1290.5,630.2 L1291.2,630.3 L1291.8,631.1 L1292.4,630.9 L1293.1,631.3 L1293.9,631.1 L1295.4,632.8 L1296.7,631.9 L1297.5,632.7 L1298.6,638.4 L1298.8,638.6 L1299.5,638.0 L1299.9,639.3 L1302.4,660.5 L1304.5,791.9 L1305.3,817.6 L1306.0,811.7 L1306.9,791.8 L1309.9,694.2 L1313.2,616.2 L1313.8,607.8 L1315.8,588.8 L1317.5,581.9 L1318.1,584.5 L1319.0,582.6 L1319.4,582.6 L1319.6,583.2 L1320.4,588.9 L1320.7,589.4 L1321.2,588.9 L1321.4,589.4 L1322.1,594.2 L1322.9,596.1 L1324.4,605.0 L1324.8,605.8 L1325.3,605.2 L1325.5,605.6 L1326.2,610.4 L1326.9,611.4 L1327.5,614.4 L1327.7,614.5 L1328.2,612.3 L1328.9,615.3 L1329.1,615.6 L1329.7,615.0 L1330.1,615.3 L1331.7,619.8 L1332.5,619.0 L1335.5,623.8 L1336.5,621.4 L1337.1,623.1 L1337.6,622.8 L1338.5,623.9 L1339.4,623.8 L1339.8,624.5 L1340.4,624.6 L1341.1,625.8 L1341.7,625.5 L1342.4,623.9 L1343.0,625.1 L1343.7,625.0 L1344.8,625.4 L1345.6,627.3 L1346.4,626.2 L1347.0,627.1 L1347.9,626.9 L1349.1,628.7 L1350.2,626.6 L1351.2,629.0 L1352.3,628.9 L1352.9,629.6 L1353.6,628.9 L1355.0,631.3 L1356.3,630.7 L1357.7,631.8 L1358.7,634.9 L1359.3,634.8 L1359.8,635.1 L1360.5,634.3 L1361.3,634.8 L1361.9,634.7 L1362.5,635.8 L1363.0,636.0 L1364.5,638.0 L1365.0,638.0 L1365.6,637.2 L1366.7,641.3 L1367.1,642.0 L1367.8,642.1 L1368.5,644.4 L1368.7,644.5 L1369.4,642.8 L1369.7,642.9 L1370.5,645.4 L1371.1,645.4 L1371.3,645.7 L1372.2,649.1 L1373.3,649.7 L1374.0,649.2 L1376.8,657.7 L1378.6,660.5 L1380.1,665.5 L1381.5,668.1 L1382.1,670.5 L1382.7,670.0 L1382.9,670.4 L1383.6,674.2 L1384.6,676.3 L1385.8,681.5 L1386.7,682.5 L1387.0,683.4 L1389.0,692.5 L1389.3,693.0 L1390.1,693.5 L1391.3,697.4 L1392.0,701.2 L1394.4,711.1 L1395.3,712.8 L1395.9,716.7 L1397.3,721.7 L1398.0,719.7 L1398.6,720.0 L1399.0,719.2 L1399.6,719.3 L1400.3,715.9 L1401.1,714.3 L1402.8,701.0 L1404.9,688.3 L1406.4,682.7 L1407.6,674.1 L1411.2,660.9 L1412.2,654.7 L1412.4,654.4 L1412.8,655.9 L1413.0,655.9 L1414.1,652.2 L1414.8,653.0 L1415.6,651.3 L1416.4,652.3 L1417.0,650.9 L1417.2,650.9 L1419.1,664.8 L1421.6,700.3 L1424.2,789.9 L1424.6,801.4 L1425.1,804.8 L1425.7,798.8 L1426.3,785.8 L1431.3,591.3 L1432.1,569.6 L1432.7,563.8 L1433.1,564.9 L1433.7,565.5 L1434.5,564.8 L1437.3,570.4 L1438.3,575.6 L1438.8,577.2 L1439.8,583.8 L1440.8,585.6 L1442.5,593.2 L1444.5,605.8 L1445.4,608.9 L1446.2,614.8 L1447.9,622.1 L1450.5,638.1 L1451.3,640.3 L1453.1,650.2 L1453.9,656.9 L1457.3,674.5 L1459.4,689.7 L1460.7,701.8 L1462.2,709.9 L1463.2,718.6 L1463.4,719.2 L1464.0,719.1 L1465.0,721.5 L1465.6,720.2 L1466.1,721.3 L1466.3,721.2 L1467.0,718.0 L1467.7,716.3 L1470.8,693.7 L1471.6,691.4 L1472.3,686.4 L1472.5,686.3 L1472.8,687.3 L1473.0,686.7 L1475.5,672.4 L1475.8,671.6 L1476.2,671.9 L1476.4,671.7 L1478.3,663.0 L1479.1,661.7 L1479.9,656.2 L1481.4,649.8 L1481.6,649.3 L1482.2,650.0 L1482.5,649.6 L1484.2,642.8 L1485.6,641.0 L1486.2,637.5 L1487.2,634.2 L1487.5,633.8 L1487.8,634.1 L1488.1,633.7 L1489.0,628.8 L1490.3,625.4 L1491.3,625.0 L1492.2,620.7 L1492.4,620.2 L1492.7,620.4 L1493.0,620.1 L1493.7,616.8 L1493.9,616.5 L1495.2,618.1 L1496.4,613.1 L1497.4,615.9 L1498.2,612.8 L1498.7,613.2 L1499.0,612.7 L1499.9,608.9 L1500.5,608.2 L1501.1,608.9 L1501.7,607.9 L1502.3,608.7 L1502.6,608.5 L1504.0,603.5 L1504.6,604.2 L1505.2,602.6 L1506.0,602.8 L1506.8,601.1 L1507.5,598.5 L1508.5,597.0 L1509.3,598.5 L1510.7,595.2 L1511.8,594.0 L1512.6,593.7 L1513.8,590.6 L1514.5,591.8 L1515.3,591.7 L1515.9,590.5 L1517.5,589.1 L1518.2,587.2 L1519.2,589.6 L1520.1,586.5 L1520.9,589.1 L1521.9,585.5 L1523.2,589.7 L1523.6,590.4 L1524.5,587.4 L1525.3,588.1 L1526.3,586.3 L1527.2,586.3 L1528.7,589.7 L1529.6,590.1 L1530.5,592.6 L1531.2,591.7 L1531.5,591.9 L1534.8,601.0 L1537.0,623.6 L1539.5,671.8 L1541.5,778.3 L1542.1,800.7 L1542.5,807.6 L1543.1,802.5 L1544.1,782.0 L1546.5,692.8 L1550.5,580.7 L1551.4,566.2 L1552.8,553.7 L1554.3,545.4 L1554.6,545.0 L1555.6,545.1 L1556.3,547.7 L1556.9,547.2 L1557.5,549.2 L1557.7,549.3 L1558.4,548.6 L1558.9,549.0 L1561.1,558.5 L1562.3,560.9 L1563.1,563.6 L1564.0,563.0 L1565.1,566.7 L1565.3,566.9 L1565.3,566.6 L1565.8,566.5 L1566.2,566.8 L1567.0,570.7 L1567.3,570.8 L1567.9,569.2 L1568.3,569.0 L1569.2,573.4 L1570.0,575.3 L1572.0,577.2 L1572.6,577.4 L1573.2,578.6 L1573.8,579.0 L1574.5,580.2 L1575.2,580.7 L1577.0,584.3 L1577.5,584.8 L1578.1,584.8 L1579.0,589.4 L1579.2,589.6 L1579.7,589.2 L1580.1,589.8 L1581.0,592.8 L1581.8,594.0 L1582.4,596.6 L1583.0,596.3 L1583.8,598.4 L1584.6,602.1 L1585.9,602.2 L1586.5,603.6 L1588.0,605.5 L1588.8,607.7 L1589.4,608.3 L1590.3,613.4 L1590.9,613.0 L1591.6,615.9 L1591.9,616.1 L1592.3,615.9 L1592.7,616.5 L1593.5,620.2 L1594.9,622.1 L1595.6,626.7 L1596.5,629.7 L1596.7,629.8 L1597.3,627.9 L1597.9,628.8 L1598.8,634.1 L1600.2,637.2 L1601.2,641.4 L1601.4,641.7 L1602.0,641.4 L1602.8,643.0 L1604.1,650.1 L1605.0,651.3 L1606.1,653.8 L1608.1,662.0 L1609.3,663.6 L1610.4,667.9 L1611.3,669.1 L1612.8,674.9 L1613.0,675.2 L1613.5,675.1 L1613.7,675.6 L1614.7,682.4 L1615.5,684.4 L1617.1,692.0 L1621.4,719.1 L1623.7,728.1 L1624.3,727.3 L1625.8,722.3 L1626.9,713.0 L1627.8,708.4 L1631.2,678.7 L1632.0,676.5 L1633.3,667.6 L1634.9,659.9 L1635.7,653.1 L1638.2,642.8 L1639.3,635.4 L1640.3,632.6 L1641.2,625.9 L1642.3,622.7 L1643.0,621.6 L1643.9,614.3 L1644.5,613.7 L1645.1,612.1 L1645.6,611.8 L1646.1,608.9 L1646.6,608.9 L1647.1,608.1 L1647.8,607.8 L1648.7,602.2 L1649.4,600.9 L1650.4,600.7 L1651.0,601.4 L1651.4,600.9 L1652.1,602.9 L1653.0,603.3 L1653.3,603.2 L1654.0,601.9 L1654.4,602.3 L1656.9,618.8 L1658.4,647.2 L1659.9,687.4 L1661.9,786.6 L1662.3,803.2 L1662.8,809.6 L1663.4,803.4 L1664.0,787.1 L1666.2,696.3 L1669.7,579.6 L1670.6,558.4 L1671.5,547.6 L1672.2,547.0 L1673.0,547.2 L1675.3,555.9 L1677.1,568.0 L1679.3,584.8 L1682.2,601.8 L1683.0,603.4 L1684.2,608.9 L1684.4,609.3 L1684.8,609.0 L1685.0,609.4 L1686.3,614.6 L1687.6,622.1 L1688.3,622.4 L1690.3,628.2 L1691.1,632.8 L1691.4,633.1 L1691.9,633.2 L1692.2,633.8 L1693.8,644.1 L1694.3,645.3 L1694.9,645.7 L1695.8,648.4 L1696.9,646.9 L1697.5,646.6 L1698.9,643.5 L1699.3,643.5 L1699.6,643.1 L1700.2,640.1 L1701.1,638.9 L1703.3,628.9 L1704.6,626.8 L1705.5,621.7 L1706.3,621.3 L1707.6,616.1 L1708.6,614.4 L1709.3,614.1 L1710.0,611.0 L1710.7,610.9 L1711.3,609.9 L1712.0,610.4 L1712.6,609.1 L1713.2,609.0 L1714.0,606.6 L1714.7,606.7 L1715.8,605.0 L1716.5,602.7 L1716.7,602.6 L1717.5,604.3 L1718.3,601.7 L1718.5,601.4 L1719.0,601.5 L1719.5,599.5 L1719.8,599.4 L1720.2,600.1 L1721.2,597.5 L1722.4,596.9 L1723.7,593.0 L1723.9,593.0 L1724.5,594.2 L1724.7,594.1 L1725.4,592.3 L1726.6,591.4 L1728.2,588.6 L1729.1,588.5 L1730.0,586.8 L1730.9,586.8 L1731.9,586.1 L1732.5,584.2 L1732.9,584.5 L1733.8,586.2 L1734.6,585.7 L1735.4,583.5 L1736.0,582.8 L1736.8,583.7 L1737.3,583.7 L1738.5,581.7 L1739.5,584.0 L1740.3,582.1 L1740.8,582.1 L1741.4,581.2 L1742.1,581.3 L1742.6,580.8 L1743.5,582.9 L1744.4,581.7 L1745.1,582.7 L1746.0,583.0 L1746.9,584.5 L1747.6,584.0 L1748.3,584.3 L1749.4,582.8 L1750.3,583.0 L1751.4,585.1 L1752.2,585.6 L1753.0,588.4 L1754.5,585.7 L1756.0,588.8 L1756.5,588.0 L1757.2,589.4 L1758.1,589.3 L1758.7,588.3 L1759.4,591.1 L1759.9,591.4 L1760.3,592.3" fill="none" stroke="#D95319" stroke-width="2.6" stroke-linejoin="round" stroke-linecap="round" clip-path="url(#cf)"/>
<line x1="108.0" y1="408" x2="108.0" y2="403" stroke="#3c3c3c" stroke-width="1.6"/>
<line x1="108.0" y1="53" x2="108.0" y2="58" stroke="#3c3c3c" stroke-width="1.6"/>
<line x1="342.8" y1="408" x2="342.8" y2="403" stroke="#3c3c3c" stroke-width="1.6"/>
<line x1="342.8" y1="53" x2="342.8" y2="58" stroke="#3c3c3c" stroke-width="1.6"/>
<line x1="577.5" y1="408" x2="577.5" y2="403" stroke="#3c3c3c" stroke-width="1.6"/>
<line x1="577.5" y1="53" x2="577.5" y2="58" stroke="#3c3c3c" stroke-width="1.6"/>
<line x1="108" y1="408.0" x2="113" y2="408.0" stroke="#3c3c3c" stroke-width="1.6"/>
<line x1="577.5" y1="408.0" x2="572.5" y2="408.0" stroke="#3c3c3c" stroke-width="1.6"/>
<line x1="108" y1="357.3" x2="113" y2="357.3" stroke="#3c3c3c" stroke-width="1.6"/>
<line x1="577.5" y1="357.3" x2="572.5" y2="357.3" stroke="#3c3c3c" stroke-width="1.6"/>
<line x1="108" y1="306.6" x2="113" y2="306.6" stroke="#3c3c3c" stroke-width="1.6"/>
<line x1="577.5" y1="306.6" x2="572.5" y2="306.6" stroke="#3c3c3c" stroke-width="1.6"/>
<line x1="108" y1="255.9" x2="113" y2="255.9" stroke="#3c3c3c" stroke-width="1.6"/>
<line x1="577.5" y1="255.9" x2="572.5" y2="255.9" stroke="#3c3c3c" stroke-width="1.6"/>
<line x1="108" y1="205.1" x2="113" y2="205.1" stroke="#3c3c3c" stroke-width="1.6"/>
<line x1="577.5" y1="205.1" x2="572.5" y2="205.1" stroke="#3c3c3c" stroke-width="1.6"/>
<line x1="108" y1="154.4" x2="113" y2="154.4" stroke="#3c3c3c" stroke-width="1.6"/>
<line x1="577.5" y1="154.4" x2="572.5" y2="154.4" stroke="#3c3c3c" stroke-width="1.6"/>
<line x1="108" y1="103.7" x2="113" y2="103.7" stroke="#3c3c3c" stroke-width="1.6"/>
<line x1="577.5" y1="103.7" x2="572.5" y2="103.7" stroke="#3c3c3c" stroke-width="1.6"/>
<line x1="108" y1="53.0" x2="113" y2="53.0" stroke="#3c3c3c" stroke-width="1.6"/>
<line x1="577.5" y1="53.0" x2="572.5" y2="53.0" stroke="#3c3c3c" stroke-width="1.6"/>
<rect x="108" y="53" width="469.5" height="355" fill="none" stroke="#3c3c3c" stroke-width="2.0"/>
<line x1="693.0" y1="408" x2="693.0" y2="403" stroke="#3c3c3c" stroke-width="1.6"/>
<line x1="693.0" y1="53" x2="693.0" y2="58" stroke="#3c3c3c" stroke-width="1.6"/>
<line x1="928.0" y1="408" x2="928.0" y2="403" stroke="#3c3c3c" stroke-width="1.6"/>
<line x1="928.0" y1="53" x2="928.0" y2="58" stroke="#3c3c3c" stroke-width="1.6"/>
<line x1="1163.0" y1="408" x2="1163.0" y2="403" stroke="#3c3c3c" stroke-width="1.6"/>
<line x1="1163.0" y1="53" x2="1163.0" y2="58" stroke="#3c3c3c" stroke-width="1.6"/>
<line x1="693" y1="408.0" x2="698" y2="408.0" stroke="#3c3c3c" stroke-width="1.6"/>
<line x1="1163" y1="408.0" x2="1158" y2="408.0" stroke="#3c3c3c" stroke-width="1.6"/>
<line x1="693" y1="357.3" x2="698" y2="357.3" stroke="#3c3c3c" stroke-width="1.6"/>
<line x1="1163" y1="357.3" x2="1158" y2="357.3" stroke="#3c3c3c" stroke-width="1.6"/>
<line x1="693" y1="306.6" x2="698" y2="306.6" stroke="#3c3c3c" stroke-width="1.6"/>
<line x1="1163" y1="306.6" x2="1158" y2="306.6" stroke="#3c3c3c" stroke-width="1.6"/>
<line x1="693" y1="255.9" x2="698" y2="255.9" stroke="#3c3c3c" stroke-width="1.6"/>
<line x1="1163" y1="255.9" x2="1158" y2="255.9" stroke="#3c3c3c" stroke-width="1.6"/>
<line x1="693" y1="205.1" x2="698" y2="205.1" stroke="#3c3c3c" stroke-width="1.6"/>
<line x1="1163" y1="205.1" x2="1158" y2="205.1" stroke="#3c3c3c" stroke-width="1.6"/>
<line x1="693" y1="154.4" x2="698" y2="154.4" stroke="#3c3c3c" stroke-width="1.6"/>
<line x1="1163" y1="154.4" x2="1158" y2="154.4" stroke="#3c3c3c" stroke-width="1.6"/>
<line x1="693" y1="103.7" x2="698" y2="103.7" stroke="#3c3c3c" stroke-width="1.6"/>
<line x1="1163" y1="103.7" x2="1158" y2="103.7" stroke="#3c3c3c" stroke-width="1.6"/>
<line x1="693" y1="53.0" x2="698" y2="53.0" stroke="#3c3c3c" stroke-width="1.6"/>
<line x1="1163" y1="53.0" x2="1158" y2="53.0" stroke="#3c3c3c" stroke-width="1.6"/>
<rect x="693" y="53" width="470" height="355" fill="none" stroke="#3c3c3c" stroke-width="2.0"/>
<line x1="1314.2" y1="390.2" x2="1314.2" y2="385.2" stroke="#7a7a7a" stroke-width="1.2800000000000002"/>
<line x1="1314.2" y1="70.5" x2="1314.2" y2="75.5" stroke="#7a7a7a" stroke-width="1.2800000000000002"/>
<line x1="1381.5" y1="390.2" x2="1381.5" y2="385.2" stroke="#7a7a7a" stroke-width="1.2800000000000002"/>
<line x1="1381.5" y1="70.5" x2="1381.5" y2="75.5" stroke="#7a7a7a" stroke-width="1.2800000000000002"/>
<line x1="1448.7" y1="390.2" x2="1448.7" y2="385.2" stroke="#7a7a7a" stroke-width="1.2800000000000002"/>
<line x1="1448.7" y1="70.5" x2="1448.7" y2="75.5" stroke="#7a7a7a" stroke-width="1.2800000000000002"/>
<line x1="1516.0" y1="390.2" x2="1516.0" y2="385.2" stroke="#7a7a7a" stroke-width="1.2800000000000002"/>
<line x1="1516.0" y1="70.5" x2="1516.0" y2="75.5" stroke="#7a7a7a" stroke-width="1.2800000000000002"/>
<line x1="1583.3" y1="390.2" x2="1583.3" y2="385.2" stroke="#7a7a7a" stroke-width="1.2800000000000002"/>
<line x1="1583.3" y1="70.5" x2="1583.3" y2="75.5" stroke="#7a7a7a" stroke-width="1.2800000000000002"/>
<line x1="1650.5" y1="390.2" x2="1650.5" y2="385.2" stroke="#7a7a7a" stroke-width="1.2800000000000002"/>
<line x1="1650.5" y1="70.5" x2="1650.5" y2="75.5" stroke="#7a7a7a" stroke-width="1.2800000000000002"/>
<line x1="1717.8" y1="390.2" x2="1717.8" y2="385.2" stroke="#7a7a7a" stroke-width="1.2800000000000002"/>
<line x1="1717.8" y1="70.5" x2="1717.8" y2="75.5" stroke="#7a7a7a" stroke-width="1.2800000000000002"/>
<line x1="1288" y1="361.1" x2="1293" y2="361.1" stroke="#7a7a7a" stroke-width="1.2800000000000002"/>
<line x1="1738.3" y1="361.1" x2="1733.3" y2="361.1" stroke="#7a7a7a" stroke-width="1.2800000000000002"/>
<line x1="1288" y1="303.0" x2="1293" y2="303.0" stroke="#7a7a7a" stroke-width="1.2800000000000002"/>
<line x1="1738.3" y1="303.0" x2="1733.3" y2="303.0" stroke="#7a7a7a" stroke-width="1.2800000000000002"/>
<line x1="1288" y1="244.9" x2="1293" y2="244.9" stroke="#7a7a7a" stroke-width="1.2800000000000002"/>
<line x1="1738.3" y1="244.9" x2="1733.3" y2="244.9" stroke="#7a7a7a" stroke-width="1.2800000000000002"/>
<line x1="1288" y1="186.8" x2="1293" y2="186.8" stroke="#7a7a7a" stroke-width="1.2800000000000002"/>
<line x1="1738.3" y1="186.8" x2="1733.3" y2="186.8" stroke="#7a7a7a" stroke-width="1.2800000000000002"/>
<line x1="1288" y1="128.6" x2="1293" y2="128.6" stroke="#7a7a7a" stroke-width="1.2800000000000002"/>
<line x1="1738.3" y1="128.6" x2="1733.3" y2="128.6" stroke="#7a7a7a" stroke-width="1.2800000000000002"/>
<line x1="1288" y1="70.5" x2="1293" y2="70.5" stroke="#7a7a7a" stroke-width="1.2800000000000002"/>
<line x1="1738.3" y1="70.5" x2="1733.3" y2="70.5" stroke="#7a7a7a" stroke-width="1.2800000000000002"/>
<rect x="1288" y="70.5" width="450.29999999999995" height="319.7" fill="none" stroke="#7a7a7a" stroke-width="1.6"/>
<line x1="108.4" y1="868.5" x2="108.4" y2="863.5" stroke="#3c3c3c" stroke-width="1.6"/>
<line x1="108.4" y1="514" x2="108.4" y2="519" stroke="#3c3c3c" stroke-width="1.6"/>
<line x1="225.9" y1="868.5" x2="225.9" y2="863.5" stroke="#3c3c3c" stroke-width="1.6"/>
<line x1="225.9" y1="514" x2="225.9" y2="519" stroke="#3c3c3c" stroke-width="1.6"/>
<line x1="343.5" y1="868.5" x2="343.5" y2="863.5" stroke="#3c3c3c" stroke-width="1.6"/>
<line x1="343.5" y1="514" x2="343.5" y2="519" stroke="#3c3c3c" stroke-width="1.6"/>
<line x1="461.0" y1="868.5" x2="461.0" y2="863.5" stroke="#3c3c3c" stroke-width="1.6"/>
<line x1="461.0" y1="514" x2="461.0" y2="519" stroke="#3c3c3c" stroke-width="1.6"/>
<line x1="578.5" y1="868.5" x2="578.5" y2="863.5" stroke="#3c3c3c" stroke-width="1.6"/>
<line x1="578.5" y1="514" x2="578.5" y2="519" stroke="#3c3c3c" stroke-width="1.6"/>
<line x1="108.4" y1="868.5" x2="113.4" y2="868.5" stroke="#3c3c3c" stroke-width="1.6"/>
<line x1="578.5" y1="868.5" x2="573.5" y2="868.5" stroke="#3c3c3c" stroke-width="1.6"/>
<line x1="108.4" y1="809.4" x2="113.4" y2="809.4" stroke="#3c3c3c" stroke-width="1.6"/>
<line x1="578.5" y1="809.4" x2="573.5" y2="809.4" stroke="#3c3c3c" stroke-width="1.6"/>
<line x1="108.4" y1="750.3" x2="113.4" y2="750.3" stroke="#3c3c3c" stroke-width="1.6"/>
<line x1="578.5" y1="750.3" x2="573.5" y2="750.3" stroke="#3c3c3c" stroke-width="1.6"/>
<line x1="108.4" y1="691.2" x2="113.4" y2="691.2" stroke="#3c3c3c" stroke-width="1.6"/>
<line x1="578.5" y1="691.2" x2="573.5" y2="691.2" stroke="#3c3c3c" stroke-width="1.6"/>
<line x1="108.4" y1="632.2" x2="113.4" y2="632.2" stroke="#3c3c3c" stroke-width="1.6"/>
<line x1="578.5" y1="632.2" x2="573.5" y2="632.2" stroke="#3c3c3c" stroke-width="1.6"/>
<line x1="108.4" y1="573.1" x2="113.4" y2="573.1" stroke="#3c3c3c" stroke-width="1.6"/>
<line x1="578.5" y1="573.1" x2="573.5" y2="573.1" stroke="#3c3c3c" stroke-width="1.6"/>
<line x1="108.4" y1="514.0" x2="113.4" y2="514.0" stroke="#3c3c3c" stroke-width="1.6"/>
<line x1="578.5" y1="514.0" x2="573.5" y2="514.0" stroke="#3c3c3c" stroke-width="1.6"/>
<rect x="108.4" y="514" width="470.1" height="354.5" fill="none" stroke="#3c3c3c" stroke-width="2.0"/>
<line x1="686.0" y1="880" x2="686.0" y2="875" stroke="#3c3c3c" stroke-width="1.6"/>
<line x1="686.0" y1="525.2" x2="686.0" y2="530.2" stroke="#3c3c3c" stroke-width="1.6"/>
<line x1="803.5" y1="880" x2="803.5" y2="875" stroke="#3c3c3c" stroke-width="1.6"/>
<line x1="803.5" y1="525.2" x2="803.5" y2="530.2" stroke="#3c3c3c" stroke-width="1.6"/>
<line x1="921.0" y1="880" x2="921.0" y2="875" stroke="#3c3c3c" stroke-width="1.6"/>
<line x1="921.0" y1="525.2" x2="921.0" y2="530.2" stroke="#3c3c3c" stroke-width="1.6"/>
<line x1="1038.5" y1="880" x2="1038.5" y2="875" stroke="#3c3c3c" stroke-width="1.6"/>
<line x1="1038.5" y1="525.2" x2="1038.5" y2="530.2" stroke="#3c3c3c" stroke-width="1.6"/>
<line x1="1156.0" y1="880" x2="1156.0" y2="875" stroke="#3c3c3c" stroke-width="1.6"/>
<line x1="1156.0" y1="525.2" x2="1156.0" y2="530.2" stroke="#3c3c3c" stroke-width="1.6"/>
<line x1="686" y1="801.2" x2="691" y2="801.2" stroke="#3c3c3c" stroke-width="1.6"/>
<line x1="1156" y1="801.2" x2="1151" y2="801.2" stroke="#3c3c3c" stroke-width="1.6"/>
<line x1="686" y1="702.6" x2="691" y2="702.6" stroke="#3c3c3c" stroke-width="1.6"/>
<line x1="1156" y1="702.6" x2="1151" y2="702.6" stroke="#3c3c3c" stroke-width="1.6"/>
<line x1="686" y1="604.0" x2="691" y2="604.0" stroke="#3c3c3c" stroke-width="1.6"/>
<line x1="1156" y1="604.0" x2="1151" y2="604.0" stroke="#3c3c3c" stroke-width="1.6"/>
<rect x="686" y="525.2" width="470" height="354.79999999999995" fill="none" stroke="#3c3c3c" stroke-width="2.0"/>
<line x1="1290.5" y1="868.2" x2="1290.5" y2="863.2" stroke="#3c3c3c" stroke-width="1.6"/>
<line x1="1290.5" y1="514.2" x2="1290.5" y2="519.2" stroke="#3c3c3c" stroke-width="1.6"/>
<line x1="1408.0" y1="868.2" x2="1408.0" y2="863.2" stroke="#3c3c3c" stroke-width="1.6"/>
<line x1="1408.0" y1="514.2" x2="1408.0" y2="519.2" stroke="#3c3c3c" stroke-width="1.6"/>
<line x1="1525.4" y1="868.2" x2="1525.4" y2="863.2" stroke="#3c3c3c" stroke-width="1.6"/>
<line x1="1525.4" y1="514.2" x2="1525.4" y2="519.2" stroke="#3c3c3c" stroke-width="1.6"/>
<line x1="1642.8" y1="868.2" x2="1642.8" y2="863.2" stroke="#3c3c3c" stroke-width="1.6"/>
<line x1="1642.8" y1="514.2" x2="1642.8" y2="519.2" stroke="#3c3c3c" stroke-width="1.6"/>
<line x1="1760.3" y1="868.2" x2="1760.3" y2="863.2" stroke="#3c3c3c" stroke-width="1.6"/>
<line x1="1760.3" y1="514.2" x2="1760.3" y2="519.2" stroke="#3c3c3c" stroke-width="1.6"/>
<line x1="1290.5" y1="868.2" x2="1295.5" y2="868.2" stroke="#3c3c3c" stroke-width="1.6"/>
<line x1="1760.3" y1="868.2" x2="1755.3" y2="868.2" stroke="#3c3c3c" stroke-width="1.6"/>
<line x1="1290.5" y1="817.6" x2="1295.5" y2="817.6" stroke="#3c3c3c" stroke-width="1.6"/>
<line x1="1760.3" y1="817.6" x2="1755.3" y2="817.6" stroke="#3c3c3c" stroke-width="1.6"/>
<line x1="1290.5" y1="767.1" x2="1295.5" y2="767.1" stroke="#3c3c3c" stroke-width="1.6"/>
<line x1="1760.3" y1="767.1" x2="1755.3" y2="767.1" stroke="#3c3c3c" stroke-width="1.6"/>
<line x1="1290.5" y1="716.5" x2="1295.5" y2="716.5" stroke="#3c3c3c" stroke-width="1.6"/>
<line x1="1760.3" y1="716.5" x2="1755.3" y2="716.5" stroke="#3c3c3c" stroke-width="1.6"/>
<line x1="1290.5" y1="665.9" x2="1295.5" y2="665.9" stroke="#3c3c3c" stroke-width="1.6"/>
<line x1="1760.3" y1="665.9" x2="1755.3" y2="665.9" stroke="#3c3c3c" stroke-width="1.6"/>
<line x1="1290.5" y1="615.3" x2="1295.5" y2="615.3" stroke="#3c3c3c" stroke-width="1.6"/>
<line x1="1760.3" y1="615.3" x2="1755.3" y2="615.3" stroke="#3c3c3c" stroke-width="1.6"/>
<line x1="1290.5" y1="564.8" x2="1295.5" y2="564.8" stroke="#3c3c3c" stroke-width="1.6"/>
<line x1="1760.3" y1="564.8" x2="1755.3" y2="564.8" stroke="#3c3c3c" stroke-width="1.6"/>
<line x1="1290.5" y1="514.2" x2="1295.5" y2="514.2" stroke="#3c3c3c" stroke-width="1.6"/>
<line x1="1760.3" y1="514.2" x2="1755.3" y2="514.2" stroke="#3c3c3c" stroke-width="1.6"/>
<rect x="1290.5" y="514.2" width="469.79999999999995" height="354.0" fill="none" stroke="#3c3c3c" stroke-width="2.0"/>
<text x="111.0" y="443.0" font-size="35" text-anchor="middle" font-family="Liberation Serif, Times New Roman, serif" font-weight="normal" >1450</text>
<text x="345.8" y="443.0" font-size="35" text-anchor="middle" font-family="Liberation Serif, Times New Roman, serif" font-weight="normal" >1500</text>
<text x="580.5" y="443.0" font-size="35" text-anchor="middle" font-family="Liberation Serif, Times New Roman, serif" font-weight="normal" >1550</text>
<text x="696.0" y="443.0" font-size="35" text-anchor="middle" font-family="Liberation Serif, Times New Roman, serif" font-weight="normal" >1450</text>
<text x="931.0" y="443.0" font-size="35" text-anchor="middle" font-family="Liberation Serif, Times New Roman, serif" font-weight="normal" >1500</text>
<text x="1166.0" y="443.0" font-size="35" text-anchor="middle" font-family="Liberation Serif, Times New Roman, serif" font-weight="normal" >1550</text>
<text x="1317.2" y="424.3" font-size="35" text-anchor="middle" font-family="Liberation Serif, Times New Roman, serif" font-weight="normal" >1508</text>
<text x="1451.7" y="424.3" font-size="35" text-anchor="middle" font-family="Liberation Serif, Times New Roman, serif" font-weight="normal" >1510</text>
<text x="1586.3" y="424.3" font-size="35" text-anchor="middle" font-family="Liberation Serif, Times New Roman, serif" font-weight="normal" >1512</text>
<text x="1720.8" y="424.3" font-size="35" text-anchor="middle" font-family="Liberation Serif, Times New Roman, serif" font-weight="normal" >1514</text>
<text x="111.4" y="902.0" font-size="35" text-anchor="middle" font-family="Liberation Serif, Times New Roman, serif" font-weight="normal" >1500</text>
<text x="228.9" y="902.0" font-size="35" text-anchor="middle" font-family="Liberation Serif, Times New Roman, serif" font-weight="normal" >1505</text>
<text x="346.5" y="902.0" font-size="35" text-anchor="middle" font-family="Liberation Serif, Times New Roman, serif" font-weight="normal" >1510</text>
<text x="464.0" y="902.0" font-size="35" text-anchor="middle" font-family="Liberation Serif, Times New Roman, serif" font-weight="normal" >1515</text>
<text x="581.5" y="902.0" font-size="35" text-anchor="middle" font-family="Liberation Serif, Times New Roman, serif" font-weight="normal" >1520</text>
<text x="689.0" y="908.5" font-size="35" text-anchor="middle" font-family="Liberation Serif, Times New Roman, serif" font-weight="normal" >1500</text>
<text x="806.5" y="908.5" font-size="35" text-anchor="middle" font-family="Liberation Serif, Times New Roman, serif" font-weight="normal" >1505</text>
<text x="924.0" y="908.5" font-size="35" text-anchor="middle" font-family="Liberation Serif, Times New Roman, serif" font-weight="normal" >1510</text>
<text x="1041.5" y="908.5" font-size="35" text-anchor="middle" font-family="Liberation Serif, Times New Roman, serif" font-weight="normal" >1515</text>
<text x="1159.0" y="908.5" font-size="35" text-anchor="middle" font-family="Liberation Serif, Times New Roman, serif" font-weight="normal" >1520</text>
<text x="1293.5" y="900.0" font-size="35" text-anchor="middle" font-family="Liberation Serif, Times New Roman, serif" font-weight="normal" >1500</text>
<text x="1411.0" y="900.0" font-size="35" text-anchor="middle" font-family="Liberation Serif, Times New Roman, serif" font-weight="normal" >1505</text>
<text x="1528.4" y="900.0" font-size="35" text-anchor="middle" font-family="Liberation Serif, Times New Roman, serif" font-weight="normal" >1510</text>
<text x="1645.8" y="900.0" font-size="35" text-anchor="middle" font-family="Liberation Serif, Times New Roman, serif" font-weight="normal" >1515</text>
<text x="1763.3" y="900.0" font-size="35" text-anchor="middle" font-family="Liberation Serif, Times New Roman, serif" font-weight="normal" >1520</text>
<text x="102.0" y="63.0" font-size="35" text-anchor="end" font-family="Liberation Serif, Times New Roman, serif" font-weight="normal" >-10</text>
<text x="102.0" y="164.4" font-size="35" text-anchor="end" font-family="Liberation Serif, Times New Roman, serif" font-weight="normal" >-20</text>
<text x="102.0" y="265.9" font-size="35" text-anchor="end" font-family="Liberation Serif, Times New Roman, serif" font-weight="normal" >-30</text>
<text x="102.0" y="367.3" font-size="35" text-anchor="end" font-family="Liberation Serif, Times New Roman, serif" font-weight="normal" >-40</text>
<text x="688.0" y="63.0" font-size="35" text-anchor="end" font-family="Liberation Serif, Times New Roman, serif" font-weight="normal" >-10</text>
<text x="688.0" y="164.4" font-size="35" text-anchor="end" font-family="Liberation Serif, Times New Roman, serif" font-weight="normal" >-20</text>
<text x="688.0" y="265.9" font-size="35" text-anchor="end" font-family="Liberation Serif, Times New Roman, serif" font-weight="normal" >-30</text>
<text x="688.0" y="367.3" font-size="35" text-anchor="end" font-family="Liberation Serif, Times New Roman, serif" font-weight="normal" >-40</text>
<text x="1281.0" y="315.0" font-size="35" text-anchor="end" font-family="Liberation Serif, Times New Roman, serif" font-weight="normal" >0.2</text>
<text x="1281.0" y="256.9" font-size="35" text-anchor="end" font-family="Liberation Serif, Times New Roman, serif" font-weight="normal" >0.4</text>
<text x="1281.0" y="198.8" font-size="35" text-anchor="end" font-family="Liberation Serif, Times New Roman, serif" font-weight="normal" >0.6</text>
<text x="1281.0" y="140.6" font-size="35" text-anchor="end" font-family="Liberation Serif, Times New Roman, serif" font-weight="normal" >0.8</text>
<text x="1264.3" y="82.0" font-size="35" text-anchor="middle" font-family="Liberation Serif, Times New Roman, serif" font-weight="normal" >1</text>
<text x="1264.5" y="372.6" font-size="35" text-anchor="middle" font-family="Liberation Serif, Times New Roman, serif" font-weight="normal" >0</text>
<text x="100.0" y="642.2" font-size="35" text-anchor="end" font-family="Liberation Serif, Times New Roman, serif" font-weight="normal" >-20</text>
<text x="100.0" y="760.3" font-size="35" text-anchor="end" font-family="Liberation Serif, Times New Roman, serif" font-weight="normal" >-40</text>
<text x="100.0" y="878.5" font-size="35" text-anchor="end" font-family="Liberation Serif, Times New Roman, serif" font-weight="normal" >-60</text>
<text x="82.1" y="524.0" font-size="35" text-anchor="middle" font-family="Liberation Serif, Times New Roman, serif" font-weight="normal" >0</text>
<text x="679.0" y="612.5" font-size="35" text-anchor="end" font-family="Liberation Serif, Times New Roman, serif" font-weight="normal" >-10</text>
<text x="679.0" y="711.1" font-size="35" text-anchor="end" font-family="Liberation Serif, Times New Roman, serif" font-weight="normal" >-15</text>
<text x="679.0" y="809.7" font-size="35" text-anchor="end" font-family="Liberation Serif, Times New Roman, serif" font-weight="normal" >-20</text>
<text x="1286.0" y="525.7" font-size="35" text-anchor="end" font-family="Liberation Serif, Times New Roman, serif" font-weight="normal" >-10</text>
<text x="1286.0" y="626.8" font-size="35" text-anchor="end" font-family="Liberation Serif, Times New Roman, serif" font-weight="normal" >-20</text>
<text x="1286.0" y="728.0" font-size="35" text-anchor="end" font-family="Liberation Serif, Times New Roman, serif" font-weight="normal" >-30</text>
<text x="1286.0" y="829.1" font-size="35" text-anchor="end" font-family="Liberation Serif, Times New Roman, serif" font-weight="normal" >-40</text>
<text x="366.1" y="473.7" font-size="35" text-anchor="middle" font-family="Liberation Serif, Times New Roman, serif" font-weight="normal" >Wavelength (nm)</text>
<text x="951.9" y="473.2" font-size="35" text-anchor="middle" font-family="Liberation Serif, Times New Roman, serif" font-weight="normal" >Wavelength (nm)</text>
<text x="1520.2" y="455.4" font-size="35" text-anchor="middle" font-family="Liberation Serif, Times New Roman, serif" font-weight="normal" >Wavelength (nm)</text>
<text x="366.1" y="933.3" font-size="35" text-anchor="middle" font-family="Liberation Serif, Times New Roman, serif" font-weight="normal" >Wavelength (nm)</text>
<text x="944.5" y="939.1" font-size="35" text-anchor="middle" font-family="Liberation Serif, Times New Roman, serif" font-weight="normal" >Wavelength (nm)</text>
<text x="1527.5" y="930.0" font-size="35" text-anchor="middle" font-family="Liberation Serif, Times New Roman, serif" font-weight="normal" >Wavelength (nm)</text>
<text transform="translate(47.0,235.2) rotate(-90)" font-size="35" text-anchor="middle" font-family="Liberation Serif, Times New Roman, serif">Transmission (dB)</text>
<text transform="translate(633.7,230.9) rotate(-90)" font-size="35" text-anchor="middle" font-family="Liberation Serif, Times New Roman, serif">Transmission (dB)</text>
<text transform="translate(1229.7,208.1) rotate(-90)" font-size="35" text-anchor="middle" font-family="Liberation Serif, Times New Roman, serif">Transmission</text>
<text transform="translate(41.5,692.0) rotate(-90)" font-size="35" text-anchor="middle" font-family="Liberation Serif, Times New Roman, serif">Transmission (dB)</text>
<text transform="translate(623.8,701.0) rotate(-90)" font-size="35" text-anchor="middle" font-family="Liberation Serif, Times New Roman, serif">Transmission (dB)</text>
<text transform="translate(1231.3,687.8) rotate(-90)" font-size="35" text-anchor="middle" font-family="Liberation Serif, Times New Roman, serif">Transmission (dB)</text>
<text x="1.2" y="32.1" font-size="40.5" text-anchor="start" font-family="Liberation Sans, Arial, sans-serif" font-weight="bold" >(a)</text>
<text x="600.0" y="32.1" font-size="40.5" text-anchor="start" font-family="Liberation Sans, Arial, sans-serif" font-weight="bold" >(b)</text>
<text x="1188.0" y="32.1" font-size="40.5" text-anchor="start" font-family="Liberation Sans, Arial, sans-serif" font-weight="bold" >(c)</text>
<text x="1.2" y="500.1" font-size="40.5" text-anchor="start" font-family="Liberation Sans, Arial, sans-serif" font-weight="bold" >(d)</text>
<text x="600.7" y="500.1" font-size="40.5" text-anchor="start" font-family="Liberation Sans, Arial, sans-serif" font-weight="bold" >(e)</text>
<text x="1188.7" y="500.7" font-size="40.5" text-anchor="start" font-family="Liberation Sans, Arial, sans-serif" font-weight="bold" >(f)</text>
<rect x="485" y="58" width="90" height="35" fill="#fff" stroke="#3c3c3c" stroke-width="1.8"/>
<line x1="487" y1="78.6" x2="530" y2="78.6" stroke="#0072BD" stroke-width="4"/>
<text x="533.0" y="86.5" font-size="35" text-anchor="start" font-family="Liberation Serif, Times New Roman, serif" font-weight="normal" >0V</text>
<rect x="1070.5" y="58" width="90.0" height="35" fill="#fff" stroke="#3c3c3c" stroke-width="1.8"/>
<line x1="1072" y1="78.6" x2="1115" y2="78.6" stroke="#0072BD" stroke-width="4"/>
<text x="1118.5" y="86.5" font-size="35" text-anchor="start" font-family="Liberation Serif, Times New Roman, serif" font-weight="normal" >0V</text>
<rect x="1630.3" y="157.7" width="107.70000000000005" height="50.70000000000002" fill="#fff" stroke="#7a7a7a" stroke-width="1.4"/>
<circle cx="1656.7" cy="181.2" r="2.3" fill="#000"/>
<line x1="1635" y1="198.4" x2="1678.5" y2="198.4" stroke="#0072BD" stroke-width="4"/>
<text x="1682.3" y="181.1" font-size="30" text-anchor="start" font-family="Liberation Sans, Arial, sans-serif" font-weight="normal" >Exp</text>
<text x="1682.5" y="206.7" font-size="30" text-anchor="start" font-family="Liberation Sans, Arial, sans-serif" font-weight="normal" >Fit</text>
<text x="1576.0" y="262.0" font-size="35" text-anchor="start" font-family="Liberation Serif, Times New Roman, serif" font-weight="normal" >Q ~1185</text>
<rect x="703.7" y="833" width="442.29999999999995" height="42.700000000000045" fill="#fff" stroke="#3c3c3c" stroke-width="1.8"/>
<line x1="717" y1="845.3" x2="760" y2="845.3" stroke="#0072BD" stroke-width="3.5"/>
<text x="763.5" y="850.6" font-size="20" text-anchor="start" font-family="Liberation Serif, Times New Roman, serif" font-weight="normal" >0V</text>
<line x1="717" y1="865.4" x2="760" y2="865.4" stroke="#D95319" stroke-width="3.5"/>
<text x="763.5" y="870.7" font-size="20" text-anchor="start" font-family="Liberation Serif, Times New Roman, serif" font-weight="normal" >0.5V</text>
<line x1="840" y1="845.3" x2="883" y2="845.3" stroke="#EDB120" stroke-width="3.5"/>
<text x="886.5" y="850.6" font-size="20" text-anchor="start" font-family="Liberation Serif, Times New Roman, serif" font-weight="normal" >1V</text>
<line x1="840" y1="865.4" x2="883" y2="865.4" stroke="#7E2F8E" stroke-width="3.5"/>
<text x="886.5" y="870.7" font-size="20" text-anchor="start" font-family="Liberation Serif, Times New Roman, serif" font-weight="normal" >1.5V</text>
<line x1="949" y1="845.3" x2="992" y2="845.3" stroke="#77AC30" stroke-width="3.5"/>
<text x="995.5" y="850.6" font-size="20" text-anchor="start" font-family="Liberation Serif, Times New Roman, serif" font-weight="normal" >2V</text>
<line x1="949" y1="865.4" x2="992" y2="865.4" stroke="#4DBEEE" stroke-width="3.5"/>
<text x="995.5" y="870.7" font-size="20" text-anchor="start" font-family="Liberation Serif, Times New Roman, serif" font-weight="normal" >2.5V</text>
<line x1="1054.4" y1="845.3" x2="1097.4" y2="845.3" stroke="#A2142F" stroke-width="3.5"/>
<text x="1100.9" y="850.6" font-size="20" text-anchor="start" font-family="Liberation Serif, Times New Roman, serif" font-weight="normal" >3V</text>
</svg></body></html>
